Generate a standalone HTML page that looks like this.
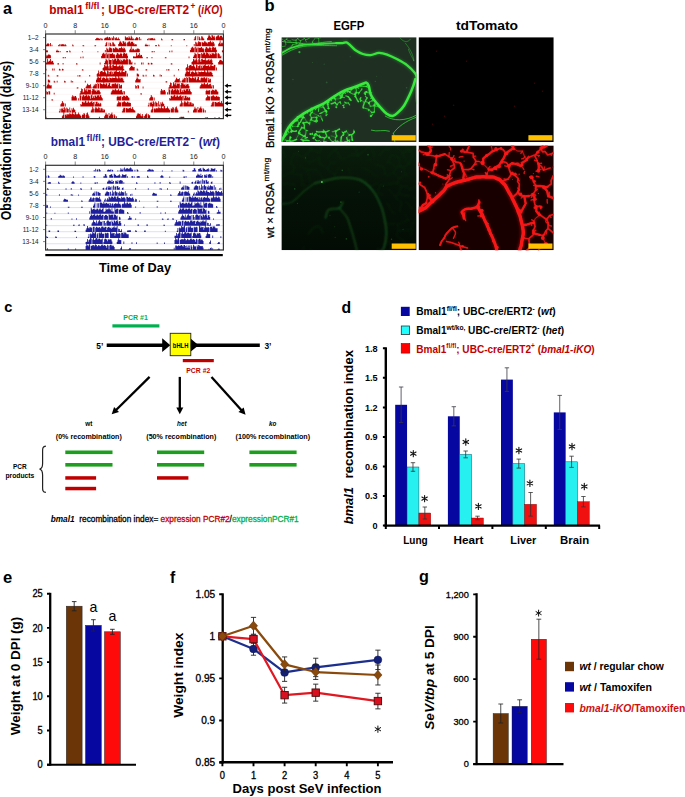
<!DOCTYPE html>
<html><head><meta charset="utf-8"><title>Figure</title>
<style>
html,body{margin:0;padding:0;background:#fff;}
svg{display:block;font-family:"Liberation Sans",sans-serif;}
</style></head><body>
<svg width="685" height="797" viewBox="0 0 685 797">
<rect width="685" height="797" fill="#fff"/>
<g id="panel_a">
<text font-size="16.2" font-weight="bold" x="3" y="14.1">a</text>
<g fill="#c00000"><text x="49.2" y="13.8" font-size="12.4" font-weight="bold" lengthAdjust="spacingAndGlyphs" textLength="34.4">bmal1</text><text x="85.2" y="8.7" font-size="8.6" font-weight="bold" lengthAdjust="spacingAndGlyphs" textLength="14.2">fl/fl</text><text x="101" y="13.8" font-size="12.4" font-weight="bold" lengthAdjust="spacingAndGlyphs" textLength="88.2">; UBC-cre/ERT2</text><text x="190.4" y="8.5" font-size="8.4" font-weight="bold" lengthAdjust="spacingAndGlyphs">+</text><text x="198" y="13.8" font-size="12.4" font-weight="bold" lengthAdjust="spacingAndGlyphs" textLength="24.5">(<tspan font-style="italic">iKO</tspan>)</text></g>
<text font-size="7.2" text-anchor="middle" fill="#222" x="45.6" y="27.7">0</text>
<text font-size="7.2" text-anchor="middle" fill="#222" x="75.23" y="27.7">8</text>
<text font-size="7.2" text-anchor="middle" fill="#222" x="104.87" y="27.7">16</text>
<text font-size="7.2" text-anchor="middle" fill="#222" x="134.5" y="27.7">0</text>
<text font-size="7.2" text-anchor="middle" fill="#222" x="164.13" y="27.7">8</text>
<text font-size="7.2" text-anchor="middle" fill="#222" x="193.77" y="27.7">16</text>
<text font-size="7.2" text-anchor="middle" fill="#222" x="223.4" y="27.7">0</text>
<path d="M45.6 30.2v3.5M75.23 30.2v3.5M104.87 30.2v3.5M134.5 30.2v3.5M164.13 30.2v3.5M193.77 30.2v3.5M223.4 30.2v3.5" stroke="#555" stroke-width="0.7"/>
<path d="M45.6 40.1H223.4M45.6 46.12H223.4M45.6 52.14H223.4M45.6 58.16H223.4M45.6 64.18H223.4M45.6 70.2H223.4M45.6 76.22H223.4M45.6 82.24H223.4M45.6 88.26H223.4M45.6 94.28H223.4M45.6 100.3H223.4M45.6 106.32H223.4M45.6 112.34H223.4M45.6 118.36H223.4" stroke="#fbecec" stroke-width="0.6" fill="none"/>
<path d="M95.24 40.3v-1.25h0.86v1.25zM95.98 40.3v-1.98h0.86v1.98zM96.72 40.3v-2.55h0.86v2.55zM97.46 40.3v-2.02h0.86v2.02zM98.2 40.3v-1.95h0.86v1.95zM98.94 40.3v-1.23h0.86v1.23zM99.68 40.3v-2.25h0.86v2.25zM101.16 40.3v-1.72h0.86v1.72zM101.9 40.3v-1.49h0.86v1.49zM104.13 40.3v-1.86h0.86v1.86zM104.87 40.3v-2.64h0.86v2.64zM105.61 40.3v-2.54h0.86v2.54zM106.35 40.3v-3.09h0.86v3.09zM107.09 40.3v-3.56h0.86v3.56zM107.83 40.3v-1.77h0.86v1.77zM108.57 40.3v-2.95h0.86v2.95zM109.31 40.3v-3.38h0.86v3.38zM110.05 40.3v-1.93h0.86v1.93zM111.53 40.3v-2.78h0.86v2.78zM112.28 40.3v-1.94h0.86v1.94zM113.02 40.3v-4.05h0.86v4.05zM114.5 40.3v-2.88h0.86v2.88zM115.24 40.3v-2h0.86v2zM115.98 40.3v-3.1h0.86v3.1zM116.72 40.3v-1.91h0.86v1.91zM117.46 40.3v-1.39h0.86v1.39zM118.2 40.3v-2.74h0.86v2.74zM118.94 40.3v-1.23h0.86v1.23zM124.87 40.3v-4.14h0.86v4.14zM125.61 40.3v-3.17h0.86v3.17zM126.35 40.3v-2.61h0.86v2.61zM127.09 40.3v-3.09h0.86v3.09zM127.83 40.3v-2.1h0.86v2.1zM128.57 40.3v-4h0.86v4zM129.31 40.3v-2.76h0.86v2.76zM130.06 40.3v-1.85h0.86v1.85zM130.8 40.3v-4.52h0.86v4.52zM131.54 40.3v-3.08h0.86v3.08zM132.28 40.3v-1.59h0.86v1.59zM133.02 40.3v-1.73h0.86v1.73zM134.5 40.3v-1.32h0.86v1.32zM135.24 40.3v-1.96h0.86v1.96zM135.98 40.3v-2.93h0.86v2.93zM136.72 40.3v-2.99h0.86v2.99zM137.46 40.3v-2.28h0.86v2.28zM138.95 40.3v-3.42h0.86v3.42zM140.43 40.3v-1.53h0.86v1.53zM147.09 40.3v-1.27h0.86v1.27zM147.84 40.3v-2.14h0.86v2.14zM149.32 40.3v-2.11h0.86v2.11zM150.06 40.3v-1.92h0.86v1.92zM150.8 40.3v-2.26h0.86v2.26zM151.54 40.3v-1.69h0.86v1.69zM152.28 40.3v-2.21h0.86v2.21zM153.02 40.3v-1.16h0.86v1.16zM153.76 40.3v-1.98h0.86v1.98zM154.5 40.3v-1.16h0.86v1.16zM161.17 40.3v-1.83h0.86v1.83zM161.91 40.3v-0.91h0.86v0.91zM171.54 40.3v-1.24h0.86v1.24zM172.28 40.3v-0.93h0.86v0.93zM183.4 40.3v-1.16h0.86v1.16zM184.14 40.3v-1.19h0.86v1.19zM193.77 40.3v-1.08h0.86v1.08zM194.51 40.3v-3.06h0.86v3.06zM195.25 40.3v-4.27h0.86v4.27zM197.47 40.3v-3.93h0.86v3.93zM198.95 40.3v-3.64h0.86v3.64zM199.69 40.3v-1.81h0.86v1.81zM201.18 40.3v-4.13h0.86v4.13zM201.92 40.3v-3.92h0.86v3.92zM202.66 40.3v-2.45h0.86v2.45zM203.4 40.3v-1.45h0.86v1.45zM207.1 40.3v-2.33h0.86v2.33zM207.84 40.3v-3.77h0.86v3.77zM208.58 40.3v-5.56h0.86v5.56zM209.32 40.3v-4.45h0.86v4.45zM210.07 40.3v-3.49h0.86v3.49zM210.81 40.3v-2.3h0.86v2.3zM211.55 40.3v-5.32h0.86v5.32zM212.29 40.3v-4.87h0.86v4.87zM213.03 40.3v-3.5h0.86v3.5zM213.77 40.3v-4.47h0.86v4.47zM214.51 40.3v-2.81h0.86v2.81zM215.99 40.3v-3.73h0.86v3.73zM216.73 40.3v-3.99h0.86v3.99zM217.47 40.3v-5.09h0.86v5.09zM218.21 40.3v-4.93h0.86v4.93zM218.96 40.3v-3.08h0.86v3.08zM219.7 40.3v-4.6h0.86v4.6zM220.44 40.3v-4.55h0.86v4.55zM221.18 40.3v-4.57h0.86v4.57zM221.92 40.3v-3.16h0.86v3.16zM222.66 40.3v-2.74h0.86v2.74zM45.6 46.32v-1.32h0.86v1.32zM46.34 46.32v-1.96h0.86v1.96zM47.08 46.32v-2.93h0.86v2.93zM47.82 46.32v-2.99h0.86v2.99zM48.56 46.32v-2.28h0.86v2.28zM50.05 46.32v-3.42h0.86v3.42zM51.53 46.32v-1.53h0.86v1.53zM58.19 46.32v-1.27h0.86v1.27zM58.94 46.32v-2.14h0.86v2.14zM60.42 46.32v-2.11h0.86v2.11zM61.16 46.32v-1.92h0.86v1.92zM61.9 46.32v-2.26h0.86v2.26zM62.64 46.32v-1.69h0.86v1.69zM63.38 46.32v-2.21h0.86v2.21zM64.12 46.32v-1.16h0.86v1.16zM64.86 46.32v-1.98h0.86v1.98zM65.6 46.32v-1.16h0.86v1.16zM72.27 46.32v-1.83h0.86v1.83zM73.01 46.32v-0.91h0.86v0.91zM82.64 46.32v-1.24h0.86v1.24zM83.38 46.32v-0.93h0.86v0.93zM94.5 46.32v-1.16h0.86v1.16zM95.24 46.32v-1.19h0.86v1.19zM104.87 46.32v-1.08h0.86v1.08zM105.61 46.32v-3.06h0.86v3.06zM106.35 46.32v-4.27h0.86v4.27zM108.57 46.32v-3.93h0.86v3.93zM110.05 46.32v-3.64h0.86v3.64zM110.79 46.32v-1.81h0.86v1.81zM112.28 46.32v-4.13h0.86v4.13zM113.02 46.32v-3.92h0.86v3.92zM113.76 46.32v-2.45h0.86v2.45zM114.5 46.32v-1.45h0.86v1.45zM118.2 46.32v-2.33h0.86v2.33zM118.94 46.32v-3.77h0.86v3.77zM119.68 46.32v-5.56h0.86v5.56zM120.42 46.32v-4.45h0.86v4.45zM121.17 46.32v-3.49h0.86v3.49zM121.91 46.32v-2.3h0.86v2.3zM122.65 46.32v-5.32h0.86v5.32zM123.39 46.32v-4.87h0.86v4.87zM124.13 46.32v-3.5h0.86v3.5zM124.87 46.32v-4.47h0.86v4.47zM125.61 46.32v-2.81h0.86v2.81zM127.09 46.32v-3.73h0.86v3.73zM127.83 46.32v-3.99h0.86v3.99zM128.57 46.32v-5.09h0.86v5.09zM129.31 46.32v-4.93h0.86v4.93zM130.06 46.32v-3.08h0.86v3.08zM130.8 46.32v-4.6h0.86v4.6zM131.54 46.32v-4.55h0.86v4.55zM132.28 46.32v-4.57h0.86v4.57zM133.02 46.32v-3.16h0.86v3.16zM133.76 46.32v-2.74h0.86v2.74zM134.5 46.32v-1.43h0.86v1.43zM135.24 46.32v-2.34h0.86v2.34zM135.98 46.32v-1.85h0.86v1.85zM144.87 46.32v-1.62h0.86v1.62zM145.61 46.32v-2.5h0.86v2.5zM146.35 46.32v-1.37h0.86v1.37zM147.09 46.32v-1.57h0.86v1.57zM148.58 46.32v-1.45h0.86v1.45zM155.24 46.32v-1.44h0.86v1.44zM155.98 46.32v-1.32h0.86v1.32zM158.21 46.32v-1.88h0.86v1.88zM158.95 46.32v-0.94h0.86v0.94zM170.8 46.32v-1.03h0.86v1.03zM186.36 46.32v-1.04h0.86v1.04zM193.77 46.32v-2.26h0.86v2.26zM195.25 46.32v-4.5h0.86v4.5zM195.99 46.32v-3.71h0.86v3.71zM196.73 46.32v-1.77h0.86v1.77zM197.47 46.32v-3.74h0.86v3.74zM198.21 46.32v-5h0.86v5zM198.95 46.32v-4.57h0.86v4.57zM199.69 46.32v-4.13h0.86v4.13zM200.43 46.32v-3.95h0.86v3.95zM201.92 46.32v-4.32h0.86v4.32zM202.66 46.32v-3.27h0.86v3.27zM203.4 46.32v-4.15h0.86v4.15zM204.14 46.32v-5.12h0.86v5.12zM204.88 46.32v-4.7h0.86v4.7zM205.62 46.32v-3.94h0.86v3.94zM206.36 46.32v-3.79h0.86v3.79zM207.1 46.32v-2.73h0.86v2.73zM207.84 46.32v-4.29h0.86v4.29zM208.58 46.32v-4.07h0.86v4.07zM209.32 46.32v-4.45h0.86v4.45zM210.07 46.32v-5.57h0.86v5.57zM210.81 46.32v-4.31h0.86v4.31zM211.55 46.32v-3.3h0.86v3.3zM212.29 46.32v-4.79h0.86v4.79zM213.03 46.32v-4.21h0.86v4.21zM213.77 46.32v-2.92h0.86v2.92zM218.21 46.32v-2.51h0.86v2.51zM218.96 46.32v-3.69h0.86v3.69zM219.7 46.32v-5.75h0.86v5.75zM220.44 46.32v-2.14h0.86v2.14zM221.18 46.32v-3.56h0.86v3.56zM221.92 46.32v-3.67h0.86v3.67zM222.66 46.32v-2.6h0.86v2.6zM45.6 52.34v-1.43h0.86v1.43zM46.34 52.34v-2.34h0.86v2.34zM47.08 52.34v-1.85h0.86v1.85zM55.97 52.34v-1.62h0.86v1.62zM56.71 52.34v-2.5h0.86v2.5zM57.45 52.34v-1.37h0.86v1.37zM58.19 52.34v-1.57h0.86v1.57zM59.68 52.34v-1.45h0.86v1.45zM66.34 52.34v-1.44h0.86v1.44zM67.08 52.34v-1.32h0.86v1.32zM69.31 52.34v-1.88h0.86v1.88zM70.05 52.34v-0.94h0.86v0.94zM81.9 52.34v-1.03h0.86v1.03zM97.46 52.34v-1.04h0.86v1.04zM104.87 52.34v-2.26h0.86v2.26zM106.35 52.34v-4.5h0.86v4.5zM107.09 52.34v-3.71h0.86v3.71zM107.83 52.34v-1.77h0.86v1.77zM108.57 52.34v-3.74h0.86v3.74zM109.31 52.34v-5h0.86v5zM110.05 52.34v-4.57h0.86v4.57zM110.79 52.34v-4.13h0.86v4.13zM111.53 52.34v-3.95h0.86v3.95zM113.02 52.34v-4.32h0.86v4.32zM113.76 52.34v-3.27h0.86v3.27zM114.5 52.34v-4.15h0.86v4.15zM115.24 52.34v-5.12h0.86v5.12zM115.98 52.34v-4.7h0.86v4.7zM116.72 52.34v-3.94h0.86v3.94zM117.46 52.34v-3.79h0.86v3.79zM118.2 52.34v-2.73h0.86v2.73zM118.94 52.34v-4.29h0.86v4.29zM119.68 52.34v-4.07h0.86v4.07zM120.42 52.34v-4.45h0.86v4.45zM121.17 52.34v-5.57h0.86v5.57zM121.91 52.34v-4.31h0.86v4.31zM122.65 52.34v-3.3h0.86v3.3zM123.39 52.34v-4.79h0.86v4.79zM124.13 52.34v-4.21h0.86v4.21zM124.87 52.34v-2.92h0.86v2.92zM129.31 52.34v-2.51h0.86v2.51zM130.06 52.34v-3.69h0.86v3.69zM130.8 52.34v-5.75h0.86v5.75zM131.54 52.34v-2.14h0.86v2.14zM132.28 52.34v-3.56h0.86v3.56zM133.02 52.34v-3.67h0.86v3.67zM133.76 52.34v-2.6h0.86v2.6zM134.5 52.34v-1.95h0.86v1.95zM135.24 52.34v-3.06h0.86v3.06zM135.98 52.34v-2.78h0.86v2.78zM136.72 52.34v-3.88h0.86v3.88zM137.46 52.34v-3.87h0.86v3.87zM138.2 52.34v-3.58h0.86v3.58zM138.95 52.34v-3.02h0.86v3.02zM151.54 52.34v-1.08h0.86v1.08zM152.28 52.34v-1.16h0.86v1.16zM153.76 52.34v-1.26h0.86v1.26zM169.32 52.34v-1.57h0.86v1.57zM171.54 52.34v-1.76h0.86v1.76zM190.06 52.34v-2.28h0.86v2.28zM190.8 52.34v-4.1h0.86v4.1zM191.54 52.34v-5.07h0.86v5.07zM192.29 52.34v-5.49h0.86v5.49zM193.03 52.34v-4.06h0.86v4.06zM193.77 52.34v-4.84h0.86v4.84zM195.25 52.34v-5.49h0.86v5.49zM195.99 52.34v-3.85h0.86v3.85zM196.73 52.34v-4.88h0.86v4.88zM198.21 52.34v-4.84h0.86v4.84zM198.95 52.34v-4.53h0.86v4.53zM199.69 52.34v-4.44h0.86v4.44zM200.43 52.34v-4.93h0.86v4.93zM201.18 52.34v-5.26h0.86v5.26zM201.92 52.34v-3.94h0.86v3.94zM202.66 52.34v-4.32h0.86v4.32zM203.4 52.34v-3.14h0.86v3.14zM204.88 52.34v-3.59h0.86v3.59zM205.62 52.34v-5.07h0.86v5.07zM206.36 52.34v-5.34h0.86v5.34zM207.1 52.34v-4.19h0.86v4.19zM207.84 52.34v-3.51h0.86v3.51zM208.58 52.34v-4.41h0.86v4.41zM209.32 52.34v-5.65h0.86v5.65zM210.07 52.34v-4.6h0.86v4.6zM210.81 52.34v-2.08h0.86v2.08zM211.55 52.34v-4.34h0.86v4.34zM212.29 52.34v-5.85h0.86v5.85zM213.03 52.34v-5.32h0.86v5.32zM213.77 52.34v-4.4h0.86v4.4zM214.51 52.34v-5.15h0.86v5.15zM215.25 52.34v-4.87h0.86v4.87zM215.99 52.34v-2.7h0.86v2.7zM221.92 52.34v-2.05h0.86v2.05zM222.66 52.34v-1.58h0.86v1.58zM45.6 58.36v-1.95h0.86v1.95zM46.34 58.36v-3.06h0.86v3.06zM47.08 58.36v-2.78h0.86v2.78zM47.82 58.36v-3.88h0.86v3.88zM48.56 58.36v-3.87h0.86v3.87zM49.3 58.36v-3.58h0.86v3.58zM50.05 58.36v-3.02h0.86v3.02zM62.64 58.36v-1.08h0.86v1.08zM63.38 58.36v-1.16h0.86v1.16zM64.86 58.36v-1.26h0.86v1.26zM80.42 58.36v-1.57h0.86v1.57zM82.64 58.36v-1.76h0.86v1.76zM101.16 58.36v-2.28h0.86v2.28zM101.9 58.36v-4.1h0.86v4.1zM102.64 58.36v-5.07h0.86v5.07zM103.39 58.36v-5.49h0.86v5.49zM104.13 58.36v-4.06h0.86v4.06zM104.87 58.36v-4.84h0.86v4.84zM106.35 58.36v-5.49h0.86v5.49zM107.09 58.36v-3.85h0.86v3.85zM107.83 58.36v-4.88h0.86v4.88zM109.31 58.36v-4.84h0.86v4.84zM110.05 58.36v-4.53h0.86v4.53zM110.79 58.36v-4.44h0.86v4.44zM111.53 58.36v-4.93h0.86v4.93zM112.28 58.36v-5.26h0.86v5.26zM113.02 58.36v-3.94h0.86v3.94zM113.76 58.36v-4.32h0.86v4.32zM114.5 58.36v-3.14h0.86v3.14zM115.98 58.36v-3.59h0.86v3.59zM116.72 58.36v-5.07h0.86v5.07zM117.46 58.36v-5.34h0.86v5.34zM118.2 58.36v-4.19h0.86v4.19zM118.94 58.36v-3.51h0.86v3.51zM119.68 58.36v-4.41h0.86v4.41zM120.42 58.36v-5.65h0.86v5.65zM121.17 58.36v-4.6h0.86v4.6zM121.91 58.36v-2.08h0.86v2.08zM122.65 58.36v-4.34h0.86v4.34zM123.39 58.36v-5.85h0.86v5.85zM124.13 58.36v-5.32h0.86v5.32zM124.87 58.36v-4.4h0.86v4.4zM125.61 58.36v-5.15h0.86v5.15zM126.35 58.36v-4.87h0.86v4.87zM127.09 58.36v-2.7h0.86v2.7zM133.02 58.36v-2.05h0.86v2.05zM133.76 58.36v-1.58h0.86v1.58zM134.5 58.36v-2.06h0.86v2.06zM135.24 58.36v-1.69h0.86v1.69zM135.98 58.36v-5.63h0.86v5.63zM136.72 58.36v-2.41h0.86v2.41zM137.46 58.36v-3.51h0.86v3.51zM138.2 58.36v-3.7h0.86v3.7zM138.95 58.36v-5.39h0.86v5.39zM139.69 58.36v-2.52h0.86v2.52zM140.43 58.36v-3.63h0.86v3.63zM141.17 58.36v-3.39h0.86v3.39zM141.91 58.36v-1.51h0.86v1.51zM146.35 58.36v-1.1h0.86v1.1zM147.09 58.36v-1.18h0.86v1.18zM151.54 58.36v-1.46h0.86v1.46zM164.87 58.36v-1.13h0.86v1.13zM165.62 58.36v-1h0.86v1zM188.58 58.36v-1.76h0.86v1.76zM193.03 58.36v-1.49h0.86v1.49zM193.77 58.36v-3.22h0.86v3.22zM194.51 58.36v-5.53h0.86v5.53zM195.25 58.36v-4.52h0.86v4.52zM195.99 58.36v-3.99h0.86v3.99zM197.47 58.36v-5.96h0.86v5.96zM198.21 58.36v-4.3h0.86v4.3zM198.95 58.36v-4.26h0.86v4.26zM199.69 58.36v-4.32h0.86v4.32zM201.18 58.36v-5.38h0.86v5.38zM201.92 58.36v-4.22h0.86v4.22zM202.66 58.36v-4.98h0.86v4.98zM203.4 58.36v-5.78h0.86v5.78zM204.14 58.36v-5.51h0.86v5.51zM204.88 58.36v-3.67h0.86v3.67zM205.62 58.36v-5.15h0.86v5.15zM206.36 58.36v-6.17h0.86v6.17zM207.1 58.36v-5.38h0.86v5.38zM207.84 58.36v-4.21h0.86v4.21zM208.58 58.36v-5.19h0.86v5.19zM209.32 58.36v-2.98h0.86v2.98zM210.07 58.36v-4.54h0.86v4.54zM210.81 58.36v-3.37h0.86v3.37zM211.55 58.36v-4.99h0.86v4.99zM212.29 58.36v-5.12h0.86v5.12zM213.03 58.36v-5.04h0.86v5.04zM213.77 58.36v-4.16h0.86v4.16zM214.51 58.36v-4.83h0.86v4.83zM215.25 58.36v-6.5h0.86v6.5zM215.99 58.36v-5.09h0.86v5.09zM217.47 58.36v-4.96h0.86v4.96zM218.21 58.36v-5.16h0.86v5.16zM218.96 58.36v-4.1h0.86v4.1zM219.7 58.36v-1.62h0.86v1.62zM220.44 58.36v-2.65h0.86v2.65zM45.6 64.38v-2.06h0.86v2.06zM46.34 64.38v-1.69h0.86v1.69zM47.08 64.38v-5.63h0.86v5.63zM47.82 64.38v-2.41h0.86v2.41zM48.56 64.38v-3.51h0.86v3.51zM49.3 64.38v-3.7h0.86v3.7zM50.05 64.38v-5.39h0.86v5.39zM50.79 64.38v-2.52h0.86v2.52zM51.53 64.38v-3.63h0.86v3.63zM52.27 64.38v-3.39h0.86v3.39zM53.01 64.38v-1.51h0.86v1.51zM57.45 64.38v-1.1h0.86v1.1zM58.19 64.38v-1.18h0.86v1.18zM62.64 64.38v-1.46h0.86v1.46zM75.97 64.38v-1.13h0.86v1.13zM76.72 64.38v-1h0.86v1zM99.68 64.38v-1.76h0.86v1.76zM104.13 64.38v-1.49h0.86v1.49zM104.87 64.38v-3.22h0.86v3.22zM105.61 64.38v-5.53h0.86v5.53zM106.35 64.38v-4.52h0.86v4.52zM107.09 64.38v-3.99h0.86v3.99zM108.57 64.38v-5.96h0.86v5.96zM109.31 64.38v-4.3h0.86v4.3zM110.05 64.38v-4.26h0.86v4.26zM110.79 64.38v-4.32h0.86v4.32zM112.28 64.38v-5.38h0.86v5.38zM113.02 64.38v-4.22h0.86v4.22zM113.76 64.38v-4.98h0.86v4.98zM114.5 64.38v-5.78h0.86v5.78zM115.24 64.38v-5.51h0.86v5.51zM115.98 64.38v-3.67h0.86v3.67zM116.72 64.38v-5.15h0.86v5.15zM117.46 64.38v-6.17h0.86v6.17zM118.2 64.38v-5.38h0.86v5.38zM118.94 64.38v-4.21h0.86v4.21zM119.68 64.38v-5.19h0.86v5.19zM120.42 64.38v-2.98h0.86v2.98zM121.17 64.38v-4.54h0.86v4.54zM121.91 64.38v-3.37h0.86v3.37zM122.65 64.38v-4.99h0.86v4.99zM123.39 64.38v-5.12h0.86v5.12zM124.13 64.38v-5.04h0.86v5.04zM124.87 64.38v-4.16h0.86v4.16zM125.61 64.38v-4.83h0.86v4.83zM126.35 64.38v-6.5h0.86v6.5zM127.09 64.38v-5.09h0.86v5.09zM128.57 64.38v-4.96h0.86v4.96zM129.31 64.38v-5.16h0.86v5.16zM130.06 64.38v-4.1h0.86v4.1zM130.8 64.38v-1.62h0.86v1.62zM131.54 64.38v-2.65h0.86v2.65zM134.5 64.38v-1.66h0.86v1.66zM141.17 64.38v-1.87h0.86v1.87zM142.65 64.38v-1.9h0.86v1.9zM147.84 64.38v-1.73h0.86v1.73zM148.58 64.38v-1.2h0.86v1.2zM150.8 64.38v-1.68h0.86v1.68zM151.54 64.38v-1.37h0.86v1.37zM170.8 64.38v-1.14h0.86v1.14zM171.54 64.38v-0.98h0.86v0.98zM191.54 64.38v-2.4h0.86v2.4zM192.29 64.38v-3.21h0.86v3.21zM193.03 64.38v-5.46h0.86v5.46zM193.77 64.38v-4.93h0.86v4.93zM194.51 64.38v-3.71h0.86v3.71zM195.25 64.38v-4.88h0.86v4.88zM195.99 64.38v-5.99h0.86v5.99zM196.73 64.38v-4.05h0.86v4.05zM197.47 64.38v-1.81h0.86v1.81zM198.21 64.38v-5.17h0.86v5.17zM198.95 64.38v-6.32h0.86v6.32zM199.69 64.38v-4.1h0.86v4.1zM200.43 64.38v-2.31h0.86v2.31zM201.18 64.38v-5.4h0.86v5.4zM201.92 64.38v-5.56h0.86v5.56zM202.66 64.38v-4.4h0.86v4.4zM203.4 64.38v-4.5h0.86v4.5zM204.14 64.38v-4.74h0.86v4.74zM204.88 64.38v-6.17h0.86v6.17zM205.62 64.38v-4.2h0.86v4.2zM206.36 64.38v-3.91h0.86v3.91zM207.1 64.38v-4.11h0.86v4.11zM207.84 64.38v-4.92h0.86v4.92zM208.58 64.38v-5.04h0.86v5.04zM209.32 64.38v-3.68h0.86v3.68zM210.07 64.38v-4.66h0.86v4.66zM210.81 64.38v-5.66h0.86v5.66zM211.55 64.38v-4.23h0.86v4.23zM212.29 64.38v-1.28h0.86v1.28zM218.21 64.38v-2.45h0.86v2.45zM218.96 64.38v-3.52h0.86v3.52zM219.7 64.38v-4.72h0.86v4.72zM220.44 64.38v-4.44h0.86v4.44zM221.18 64.38v-3.77h0.86v3.77zM221.92 64.38v-3.08h0.86v3.08zM222.66 64.38v-3.45h0.86v3.45zM45.6 70.4v-1.66h0.86v1.66zM52.27 70.4v-1.87h0.86v1.87zM53.75 70.4v-1.9h0.86v1.9zM58.94 70.4v-1.73h0.86v1.73zM59.68 70.4v-1.2h0.86v1.2zM61.9 70.4v-1.68h0.86v1.68zM62.64 70.4v-1.37h0.86v1.37zM81.9 70.4v-1.14h0.86v1.14zM82.64 70.4v-0.98h0.86v0.98zM102.64 70.4v-2.4h0.86v2.4zM103.39 70.4v-3.21h0.86v3.21zM104.13 70.4v-5.46h0.86v5.46zM104.87 70.4v-4.93h0.86v4.93zM105.61 70.4v-3.71h0.86v3.71zM106.35 70.4v-4.88h0.86v4.88zM107.09 70.4v-5.99h0.86v5.99zM107.83 70.4v-4.05h0.86v4.05zM108.57 70.4v-1.81h0.86v1.81zM109.31 70.4v-5.17h0.86v5.17zM110.05 70.4v-6.32h0.86v6.32zM110.79 70.4v-4.1h0.86v4.1zM111.53 70.4v-2.31h0.86v2.31zM112.28 70.4v-5.4h0.86v5.4zM113.02 70.4v-5.56h0.86v5.56zM113.76 70.4v-4.4h0.86v4.4zM114.5 70.4v-4.5h0.86v4.5zM115.24 70.4v-4.74h0.86v4.74zM115.98 70.4v-6.17h0.86v6.17zM116.72 70.4v-4.2h0.86v4.2zM117.46 70.4v-3.91h0.86v3.91zM118.2 70.4v-4.11h0.86v4.11zM118.94 70.4v-4.92h0.86v4.92zM119.68 70.4v-5.04h0.86v5.04zM120.42 70.4v-3.68h0.86v3.68zM121.17 70.4v-4.66h0.86v4.66zM121.91 70.4v-5.66h0.86v5.66zM122.65 70.4v-4.23h0.86v4.23zM123.39 70.4v-1.28h0.86v1.28zM129.31 70.4v-2.45h0.86v2.45zM130.06 70.4v-3.52h0.86v3.52zM130.8 70.4v-4.72h0.86v4.72zM131.54 70.4v-4.44h0.86v4.44zM132.28 70.4v-3.77h0.86v3.77zM133.02 70.4v-3.08h0.86v3.08zM133.76 70.4v-3.45h0.86v3.45zM136.72 70.4v-1.79h0.86v1.79zM137.46 70.4v-0.93h0.86v0.93zM145.61 70.4v-1.24h0.86v1.24zM146.35 70.4v-1.21h0.86v1.21zM166.36 70.4v-1.09h0.86v1.09zM167.84 70.4v-1.07h0.86v1.07zM168.58 70.4v-1.24h0.86v1.24zM178.21 70.4v-1.5h0.86v1.5zM185.62 70.4v-2.32h0.86v2.32zM186.36 70.4v-3.38h0.86v3.38zM187.1 70.4v-6.04h0.86v6.04zM187.84 70.4v-2.14h0.86v2.14zM188.58 70.4v-4.35h0.86v4.35zM189.32 70.4v-5.19h0.86v5.19zM190.06 70.4v-5.46h0.86v5.46zM190.8 70.4v-5.25h0.86v5.25zM191.54 70.4v-4.16h0.86v4.16zM192.29 70.4v-4.52h0.86v4.52zM193.03 70.4v-6.04h0.86v6.04zM193.77 70.4v-4.67h0.86v4.67zM194.51 70.4v-3.47h0.86v3.47zM195.25 70.4v-2.14h0.86v2.14zM195.99 70.4v-5.72h0.86v5.72zM196.73 70.4v-5.06h0.86v5.06zM197.47 70.4v-2.21h0.86v2.21zM198.21 70.4v-4.35h0.86v4.35zM198.95 70.4v-4.85h0.86v4.85zM199.69 70.4v-5.12h0.86v5.12zM200.43 70.4v-1.94h0.86v1.94zM201.18 70.4v-4.57h0.86v4.57zM201.92 70.4v-2.69h0.86v2.69zM202.66 70.4v-5.1h0.86v5.1zM203.4 70.4v-4.48h0.86v4.48zM204.14 70.4v-5.41h0.86v5.41zM204.88 70.4v-6.15h0.86v6.15zM205.62 70.4v-4.51h0.86v4.51zM206.36 70.4v-4.5h0.86v4.5zM207.1 70.4v-4.4h0.86v4.4zM207.84 70.4v-5.36h0.86v5.36zM208.58 70.4v-4.63h0.86v4.63zM209.32 70.4v-3.59h0.86v3.59zM210.07 70.4v-5.23h0.86v5.23zM210.81 70.4v-6.21h0.86v6.21zM211.55 70.4v-4.3h0.86v4.3zM212.29 70.4v-4.43h0.86v4.43zM213.03 70.4v-4.06h0.86v4.06zM213.77 70.4v-5.68h0.86v5.68zM214.51 70.4v-5.49h0.86v5.49zM215.99 70.4v-2.9h0.86v2.9zM47.82 76.42v-1.79h0.86v1.79zM48.56 76.42v-0.93h0.86v0.93zM56.71 76.42v-1.24h0.86v1.24zM57.45 76.42v-1.21h0.86v1.21zM77.46 76.42v-1.09h0.86v1.09zM78.94 76.42v-1.07h0.86v1.07zM79.68 76.42v-1.24h0.86v1.24zM89.31 76.42v-1.5h0.86v1.5zM96.72 76.42v-2.32h0.86v2.32zM97.46 76.42v-3.38h0.86v3.38zM98.2 76.42v-6.04h0.86v6.04zM98.94 76.42v-2.14h0.86v2.14zM99.68 76.42v-4.35h0.86v4.35zM100.42 76.42v-5.19h0.86v5.19zM101.16 76.42v-5.46h0.86v5.46zM101.9 76.42v-5.25h0.86v5.25zM102.64 76.42v-4.16h0.86v4.16zM103.39 76.42v-4.52h0.86v4.52zM104.13 76.42v-6.04h0.86v6.04zM104.87 76.42v-4.67h0.86v4.67zM105.61 76.42v-3.47h0.86v3.47zM106.35 76.42v-2.14h0.86v2.14zM107.09 76.42v-5.72h0.86v5.72zM107.83 76.42v-5.06h0.86v5.06zM108.57 76.42v-2.21h0.86v2.21zM109.31 76.42v-4.35h0.86v4.35zM110.05 76.42v-4.85h0.86v4.85zM110.79 76.42v-5.12h0.86v5.12zM111.53 76.42v-1.94h0.86v1.94zM112.28 76.42v-4.57h0.86v4.57zM113.02 76.42v-2.69h0.86v2.69zM113.76 76.42v-5.1h0.86v5.1zM114.5 76.42v-4.48h0.86v4.48zM115.24 76.42v-5.41h0.86v5.41zM115.98 76.42v-6.15h0.86v6.15zM116.72 76.42v-4.51h0.86v4.51zM117.46 76.42v-4.5h0.86v4.5zM118.2 76.42v-4.4h0.86v4.4zM118.94 76.42v-5.36h0.86v5.36zM119.68 76.42v-4.63h0.86v4.63zM120.42 76.42v-3.59h0.86v3.59zM121.17 76.42v-5.23h0.86v5.23zM121.91 76.42v-6.21h0.86v6.21zM122.65 76.42v-4.3h0.86v4.3zM123.39 76.42v-4.43h0.86v4.43zM124.13 76.42v-4.06h0.86v4.06zM124.87 76.42v-5.68h0.86v5.68zM125.61 76.42v-5.49h0.86v5.49zM127.09 76.42v-2.9h0.86v2.9zM136.72 76.42v-2.94h0.86v2.94zM137.46 76.42v-2.79h0.86v2.79zM138.2 76.42v-1.94h0.86v1.94zM142.65 76.42v-1.58h0.86v1.58zM143.39 76.42v-1.01h0.86v1.01zM145.61 76.42v-1.69h0.86v1.69zM153.02 76.42v-1.69h0.86v1.69zM153.76 76.42v-1.07h0.86v1.07zM159.69 76.42v-1.87h0.86v1.87zM161.17 76.42v-1.44h0.86v1.44zM173.76 76.42v-1.65h0.86v1.65zM184.88 76.42v-2.69h0.86v2.69zM185.62 76.42v-4.08h0.86v4.08zM186.36 76.42v-6.24h0.86v6.24zM187.1 76.42v-5.29h0.86v5.29zM187.84 76.42v-4.53h0.86v4.53zM188.58 76.42v-4.82h0.86v4.82zM189.32 76.42v-6.14h0.86v6.14zM190.06 76.42v-2.37h0.86v2.37zM190.8 76.42v-4.26h0.86v4.26zM191.54 76.42v-4.6h0.86v4.6zM192.29 76.42v-5.07h0.86v5.07zM193.03 76.42v-4.47h0.86v4.47zM193.77 76.42v-3.43h0.86v3.43zM194.51 76.42v-4.2h0.86v4.2zM195.25 76.42v-6.1h0.86v6.1zM195.99 76.42v-4.12h0.86v4.12zM196.73 76.42v-4.07h0.86v4.07zM197.47 76.42v-2.11h0.86v2.11zM198.21 76.42v-5.03h0.86v5.03zM198.95 76.42v-4.38h0.86v4.38zM199.69 76.42v-4.08h0.86v4.08zM200.43 76.42v-4.31h0.86v4.31zM201.18 76.42v-5.01h0.86v5.01zM201.92 76.42v-4.5h0.86v4.5zM202.66 76.42v-4.36h0.86v4.36zM203.4 76.42v-4.42h0.86v4.42zM204.14 76.42v-6.35h0.86v6.35zM204.88 76.42v-4.86h0.86v4.86zM205.62 76.42v-3.95h0.86v3.95zM206.36 76.42v-4.1h0.86v4.1zM207.1 76.42v-6.14h0.86v6.14zM207.84 76.42v-4.83h0.86v4.83zM208.58 76.42v-3.69h0.86v3.69zM209.32 76.42v-5.02h0.86v5.02zM210.07 76.42v-4.72h0.86v4.72zM210.81 76.42v-4.59h0.86v4.59zM211.55 76.42v-3.3h0.86v3.3zM212.29 76.42v-1.43h0.86v1.43zM47.82 82.44v-2.94h0.86v2.94zM48.56 82.44v-2.79h0.86v2.79zM49.3 82.44v-1.94h0.86v1.94zM53.75 82.44v-1.58h0.86v1.58zM54.49 82.44v-1.01h0.86v1.01zM56.71 82.44v-1.69h0.86v1.69zM64.12 82.44v-1.69h0.86v1.69zM64.86 82.44v-1.07h0.86v1.07zM70.79 82.44v-1.87h0.86v1.87zM72.27 82.44v-1.44h0.86v1.44zM84.86 82.44v-1.65h0.86v1.65zM95.98 82.44v-2.69h0.86v2.69zM96.72 82.44v-4.08h0.86v4.08zM97.46 82.44v-6.24h0.86v6.24zM98.2 82.44v-5.29h0.86v5.29zM98.94 82.44v-4.53h0.86v4.53zM99.68 82.44v-4.82h0.86v4.82zM100.42 82.44v-6.14h0.86v6.14zM101.16 82.44v-2.37h0.86v2.37zM101.9 82.44v-4.26h0.86v4.26zM102.64 82.44v-4.6h0.86v4.6zM103.39 82.44v-5.07h0.86v5.07zM104.13 82.44v-4.47h0.86v4.47zM104.87 82.44v-3.43h0.86v3.43zM105.61 82.44v-4.2h0.86v4.2zM106.35 82.44v-6.1h0.86v6.1zM107.09 82.44v-4.12h0.86v4.12zM107.83 82.44v-4.07h0.86v4.07zM108.57 82.44v-2.11h0.86v2.11zM109.31 82.44v-5.03h0.86v5.03zM110.05 82.44v-4.38h0.86v4.38zM110.79 82.44v-4.08h0.86v4.08zM111.53 82.44v-4.31h0.86v4.31zM112.28 82.44v-5.01h0.86v5.01zM113.02 82.44v-4.5h0.86v4.5zM113.76 82.44v-4.36h0.86v4.36zM114.5 82.44v-4.42h0.86v4.42zM115.24 82.44v-6.35h0.86v6.35zM115.98 82.44v-4.86h0.86v4.86zM116.72 82.44v-3.95h0.86v3.95zM117.46 82.44v-4.1h0.86v4.1zM118.2 82.44v-6.14h0.86v6.14zM118.94 82.44v-4.83h0.86v4.83zM119.68 82.44v-3.69h0.86v3.69zM120.42 82.44v-5.02h0.86v5.02zM121.17 82.44v-4.72h0.86v4.72zM121.91 82.44v-4.59h0.86v4.59zM122.65 82.44v-3.3h0.86v3.3zM123.39 82.44v-1.43h0.86v1.43zM135.24 82.44v-2.11h0.86v2.11zM135.98 82.44v-3.77h0.86v3.77zM136.72 82.44v-5.31h0.86v5.31zM137.46 82.44v-4.04h0.86v4.04zM138.2 82.44v-3.24h0.86v3.24zM138.95 82.44v-2.88h0.86v2.88zM139.69 82.44v-3.33h0.86v3.33zM165.62 82.44v-1.07h0.86v1.07zM166.36 82.44v-1.26h0.86v1.26zM174.5 82.44v-1.81h0.86v1.81zM175.25 82.44v-3.04h0.86v3.04zM175.99 82.44v-4.7h0.86v4.7zM176.73 82.44v-3.69h0.86v3.69zM177.47 82.44v-3.19h0.86v3.19zM178.21 82.44v-3.43h0.86v3.43zM178.95 82.44v-4.16h0.86v4.16zM180.43 82.44v-1.66h0.86v1.66zM181.91 82.44v-2.28h0.86v2.28zM182.65 82.44v-3.96h0.86v3.96zM183.4 82.44v-2.95h0.86v2.95zM184.14 82.44v-4.62h0.86v4.62zM184.88 82.44v-4.54h0.86v4.54zM186.36 82.44v-5.38h0.86v5.38zM187.1 82.44v-4.39h0.86v4.39zM188.58 82.44v-5.53h0.86v5.53zM189.32 82.44v-5.07h0.86v5.07zM190.06 82.44v-4.47h0.86v4.47zM190.8 82.44v-4.02h0.86v4.02zM191.54 82.44v-4.54h0.86v4.54zM192.29 82.44v-5.9h0.86v5.9zM193.03 82.44v-4.33h0.86v4.33zM193.77 82.44v-3.76h0.86v3.76zM194.51 82.44v-4.88h0.86v4.88zM195.25 82.44v-5.3h0.86v5.3zM195.99 82.44v-2.15h0.86v2.15zM196.73 82.44v-3.47h0.86v3.47zM197.47 82.44v-5.1h0.86v5.1zM198.21 82.44v-5.42h0.86v5.42zM198.95 82.44v-2.49h0.86v2.49zM199.69 82.44v-1.91h0.86v1.91zM200.43 82.44v-4.22h0.86v4.22zM201.18 82.44v-4.83h0.86v4.83zM201.92 82.44v-4.67h0.86v4.67zM202.66 82.44v-4.15h0.86v4.15zM203.4 82.44v-5.27h0.86v5.27zM204.14 82.44v-5.3h0.86v5.3zM204.88 82.44v-4.05h0.86v4.05zM205.62 82.44v-4.21h0.86v4.21zM206.36 82.44v-5.22h0.86v5.22zM207.84 82.44v-4.53h0.86v4.53zM208.58 82.44v-2.14h0.86v2.14zM209.32 82.44v-3.57h0.86v3.57zM210.07 82.44v-3.59h0.86v3.59zM46.34 88.46v-2.11h0.86v2.11zM47.08 88.46v-3.77h0.86v3.77zM47.82 88.46v-5.31h0.86v5.31zM48.56 88.46v-4.04h0.86v4.04zM49.3 88.46v-3.24h0.86v3.24zM50.05 88.46v-2.88h0.86v2.88zM50.79 88.46v-3.33h0.86v3.33zM76.72 88.46v-1.07h0.86v1.07zM77.46 88.46v-1.26h0.86v1.26zM85.61 88.46v-1.81h0.86v1.81zM86.35 88.46v-3.04h0.86v3.04zM87.09 88.46v-4.7h0.86v4.7zM87.83 88.46v-3.69h0.86v3.69zM88.57 88.46v-3.19h0.86v3.19zM89.31 88.46v-3.43h0.86v3.43zM90.05 88.46v-4.16h0.86v4.16zM91.53 88.46v-1.66h0.86v1.66zM93.01 88.46v-2.28h0.86v2.28zM93.75 88.46v-3.96h0.86v3.96zM94.5 88.46v-2.95h0.86v2.95zM95.24 88.46v-4.62h0.86v4.62zM95.98 88.46v-4.54h0.86v4.54zM97.46 88.46v-5.38h0.86v5.38zM98.2 88.46v-4.39h0.86v4.39zM99.68 88.46v-5.53h0.86v5.53zM100.42 88.46v-5.07h0.86v5.07zM101.16 88.46v-4.47h0.86v4.47zM101.9 88.46v-4.02h0.86v4.02zM102.64 88.46v-4.54h0.86v4.54zM103.39 88.46v-5.9h0.86v5.9zM104.13 88.46v-4.33h0.86v4.33zM104.87 88.46v-3.76h0.86v3.76zM105.61 88.46v-4.88h0.86v4.88zM106.35 88.46v-5.3h0.86v5.3zM107.09 88.46v-2.15h0.86v2.15zM107.83 88.46v-3.47h0.86v3.47zM108.57 88.46v-5.1h0.86v5.1zM109.31 88.46v-5.42h0.86v5.42zM110.05 88.46v-2.49h0.86v2.49zM110.79 88.46v-1.91h0.86v1.91zM111.53 88.46v-4.22h0.86v4.22zM112.28 88.46v-4.83h0.86v4.83zM113.02 88.46v-4.67h0.86v4.67zM113.76 88.46v-4.15h0.86v4.15zM114.5 88.46v-5.27h0.86v5.27zM115.24 88.46v-5.3h0.86v5.3zM115.98 88.46v-4.05h0.86v4.05zM116.72 88.46v-4.21h0.86v4.21zM117.46 88.46v-5.22h0.86v5.22zM118.94 88.46v-4.53h0.86v4.53zM119.68 88.46v-2.14h0.86v2.14zM120.42 88.46v-3.57h0.86v3.57zM121.17 88.46v-3.59h0.86v3.59zM135.24 88.46v-3.31h0.86v3.31zM135.98 88.46v-2.57h0.86v2.57zM137.46 88.46v-3.48h0.86v3.48zM138.2 88.46v-3.08h0.86v3.08zM142.65 88.46v-1.85h0.86v1.85zM168.58 88.46v-1.27h0.86v1.27zM169.32 88.46v-3.42h0.86v3.42zM170.06 88.46v-5.95h0.86v5.95zM170.8 88.46v-5.43h0.86v5.43zM171.54 88.46v-2.04h0.86v2.04zM172.28 88.46v-2.75h0.86v2.75zM173.02 88.46v-6.33h0.86v6.33zM173.76 88.46v-4.88h0.86v4.88zM174.5 88.46v-3.68h0.86v3.68zM175.25 88.46v-5.53h0.86v5.53zM175.99 88.46v-2.88h0.86v2.88zM176.73 88.46v-5.27h0.86v5.27zM177.47 88.46v-4.45h0.86v4.45zM178.21 88.46v-4.9h0.86v4.9zM178.95 88.46v-5.03h0.86v5.03zM180.43 88.46v-3.58h0.86v3.58zM181.17 88.46v-5.45h0.86v5.45zM181.91 88.46v-5.25h0.86v5.25zM182.65 88.46v-5.14h0.86v5.14zM183.4 88.46v-4.08h0.86v4.08zM184.14 88.46v-4.05h0.86v4.05zM184.88 88.46v-2.77h0.86v2.77zM185.62 88.46v-4.61h0.86v4.61zM186.36 88.46v-3.57h0.86v3.57zM187.1 88.46v-4.43h0.86v4.43zM187.84 88.46v-4.1h0.86v4.1zM188.58 88.46v-2.47h0.86v2.47zM199.69 88.46v-2h0.86v2zM200.43 88.46v-3.49h0.86v3.49zM201.18 88.46v-4.95h0.86v4.95zM201.92 88.46v-4.61h0.86v4.61zM202.66 88.46v-3.9h0.86v3.9zM203.4 88.46v-5.03h0.86v5.03zM204.14 88.46v-5.67h0.86v5.67zM204.88 88.46v-4.27h0.86v4.27zM205.62 88.46v-4.07h0.86v4.07zM206.36 88.46v-4.39h0.86v4.39zM207.1 88.46v-5.74h0.86v5.74zM207.84 88.46v-3.75h0.86v3.75zM208.58 88.46v-4.06h0.86v4.06zM209.32 88.46v-4.49h0.86v4.49zM210.07 88.46v-4.77h0.86v4.77zM210.81 88.46v-1.97h0.86v1.97zM211.55 88.46v-3.56h0.86v3.56zM213.03 88.46v-3.2h0.86v3.2zM46.34 94.48v-3.31h0.86v3.31zM47.08 94.48v-2.57h0.86v2.57zM48.56 94.48v-3.48h0.86v3.48zM49.3 94.48v-3.08h0.86v3.08zM53.75 94.48v-1.85h0.86v1.85zM79.68 94.48v-1.27h0.86v1.27zM80.42 94.48v-3.42h0.86v3.42zM81.16 94.48v-5.95h0.86v5.95zM81.9 94.48v-5.43h0.86v5.43zM82.64 94.48v-2.04h0.86v2.04zM83.38 94.48v-2.75h0.86v2.75zM84.12 94.48v-6.33h0.86v6.33zM84.86 94.48v-4.88h0.86v4.88zM85.61 94.48v-3.68h0.86v3.68zM86.35 94.48v-5.53h0.86v5.53zM87.09 94.48v-2.88h0.86v2.88zM87.83 94.48v-5.27h0.86v5.27zM88.57 94.48v-4.45h0.86v4.45zM89.31 94.48v-4.9h0.86v4.9zM90.05 94.48v-5.03h0.86v5.03zM91.53 94.48v-3.58h0.86v3.58zM92.27 94.48v-5.45h0.86v5.45zM93.01 94.48v-5.25h0.86v5.25zM93.75 94.48v-5.14h0.86v5.14zM94.5 94.48v-4.08h0.86v4.08zM95.24 94.48v-4.05h0.86v4.05zM95.98 94.48v-2.77h0.86v2.77zM96.72 94.48v-4.61h0.86v4.61zM97.46 94.48v-3.57h0.86v3.57zM98.2 94.48v-4.43h0.86v4.43zM98.94 94.48v-4.1h0.86v4.1zM99.68 94.48v-2.47h0.86v2.47zM110.79 94.48v-2h0.86v2zM111.53 94.48v-3.49h0.86v3.49zM112.28 94.48v-4.95h0.86v4.95zM113.02 94.48v-4.61h0.86v4.61zM113.76 94.48v-3.9h0.86v3.9zM114.5 94.48v-5.03h0.86v5.03zM115.24 94.48v-5.67h0.86v5.67zM115.98 94.48v-4.27h0.86v4.27zM116.72 94.48v-4.07h0.86v4.07zM117.46 94.48v-4.39h0.86v4.39zM118.2 94.48v-5.74h0.86v5.74zM118.94 94.48v-3.75h0.86v3.75zM119.68 94.48v-4.06h0.86v4.06zM120.42 94.48v-4.49h0.86v4.49zM121.17 94.48v-4.77h0.86v4.77zM121.91 94.48v-1.97h0.86v1.97zM122.65 94.48v-3.56h0.86v3.56zM124.13 94.48v-3.2h0.86v3.2zM140.43 94.48v-1.22h0.86v1.22zM141.17 94.48v-1.1h0.86v1.1zM160.43 94.48v-3.81h0.86v3.81zM161.17 94.48v-5.36h0.86v5.36zM161.91 94.48v-4.25h0.86v4.25zM162.65 94.48v-3.31h0.86v3.31zM163.39 94.48v-4.45h0.86v4.45zM164.13 94.48v-4.44h0.86v4.44zM164.87 94.48v-3.01h0.86v3.01zM167.1 94.48v-2.24h0.86v2.24zM168.58 94.48v-6.31h0.86v6.31zM169.32 94.48v-4.63h0.86v4.63zM170.8 94.48v-4.08h0.86v4.08zM171.54 94.48v-5.25h0.86v5.25zM172.28 94.48v-5.44h0.86v5.44zM173.02 94.48v-3.93h0.86v3.93zM173.76 94.48v-4.47h0.86v4.47zM174.5 94.48v-6.31h0.86v6.31zM175.25 94.48v-5.29h0.86v5.29zM175.99 94.48v-3.93h0.86v3.93zM176.73 94.48v-5.36h0.86v5.36zM177.47 94.48v-5.06h0.86v5.06zM178.21 94.48v-4.32h0.86v4.32zM178.95 94.48v-1.81h0.86v1.81zM179.69 94.48v-5.13h0.86v5.13zM180.43 94.48v-6.32h0.86v6.32zM181.17 94.48v-2.57h0.86v2.57zM181.91 94.48v-4.21h0.86v4.21zM182.65 94.48v-2.39h0.86v2.39zM183.4 94.48v-5.1h0.86v5.1zM184.14 94.48v-5.1h0.86v5.1zM184.88 94.48v-3.58h0.86v3.58zM185.62 94.48v-5.03h0.86v5.03zM186.36 94.48v-5.37h0.86v5.37zM187.1 94.48v-5.37h0.86v5.37zM187.84 94.48v-3.64h0.86v3.64zM188.58 94.48v-5.43h0.86v5.43zM189.32 94.48v-5.2h0.86v5.2zM190.06 94.48v-3.25h0.86v3.25zM190.8 94.48v-2.37h0.86v2.37zM205.62 94.48v-3.49h0.86v3.49zM206.36 94.48v-4.69h0.86v4.69zM207.1 94.48v-3.79h0.86v3.79zM207.84 94.48v-3.9h0.86v3.9zM208.58 94.48v-4.06h0.86v4.06zM209.32 94.48v-4.58h0.86v4.58zM210.81 94.48v-3.58h0.86v3.58zM211.55 94.48v-4.2h0.86v4.2zM212.29 94.48v-5.09h0.86v5.09zM213.03 94.48v-4.43h0.86v4.43zM213.77 94.48v-3.47h0.86v3.47zM214.51 94.48v-4.74h0.86v4.74zM215.25 94.48v-5.1h0.86v5.1zM215.99 94.48v-4.61h0.86v4.61zM216.73 94.48v-3.21h0.86v3.21zM217.47 94.48v-2.83h0.86v2.83zM51.53 100.5v-1.22h0.86v1.22zM52.27 100.5v-1.1h0.86v1.1zM71.53 100.5v-3.81h0.86v3.81zM72.27 100.5v-5.36h0.86v5.36zM73.01 100.5v-4.25h0.86v4.25zM73.75 100.5v-3.31h0.86v3.31zM74.49 100.5v-4.45h0.86v4.45zM75.23 100.5v-4.44h0.86v4.44zM75.97 100.5v-3.01h0.86v3.01zM78.2 100.5v-2.24h0.86v2.24zM79.68 100.5v-6.31h0.86v6.31zM80.42 100.5v-4.63h0.86v4.63zM81.9 100.5v-4.08h0.86v4.08zM82.64 100.5v-5.25h0.86v5.25zM83.38 100.5v-5.44h0.86v5.44zM84.12 100.5v-3.93h0.86v3.93zM84.86 100.5v-4.47h0.86v4.47zM85.61 100.5v-6.31h0.86v6.31zM86.35 100.5v-5.29h0.86v5.29zM87.09 100.5v-3.93h0.86v3.93zM87.83 100.5v-5.36h0.86v5.36zM88.57 100.5v-5.06h0.86v5.06zM89.31 100.5v-4.32h0.86v4.32zM90.05 100.5v-1.81h0.86v1.81zM90.79 100.5v-5.13h0.86v5.13zM91.53 100.5v-6.32h0.86v6.32zM92.27 100.5v-2.57h0.86v2.57zM93.01 100.5v-4.21h0.86v4.21zM93.75 100.5v-2.39h0.86v2.39zM94.5 100.5v-5.1h0.86v5.1zM95.24 100.5v-5.1h0.86v5.1zM95.98 100.5v-3.58h0.86v3.58zM96.72 100.5v-5.03h0.86v5.03zM97.46 100.5v-5.37h0.86v5.37zM98.2 100.5v-5.37h0.86v5.37zM98.94 100.5v-3.64h0.86v3.64zM99.68 100.5v-5.43h0.86v5.43zM100.42 100.5v-5.2h0.86v5.2zM101.16 100.5v-3.25h0.86v3.25zM101.9 100.5v-2.37h0.86v2.37zM116.72 100.5v-3.49h0.86v3.49zM117.46 100.5v-4.69h0.86v4.69zM118.2 100.5v-3.79h0.86v3.79zM118.94 100.5v-3.9h0.86v3.9zM119.68 100.5v-4.06h0.86v4.06zM120.42 100.5v-4.58h0.86v4.58zM121.91 100.5v-3.58h0.86v3.58zM122.65 100.5v-4.2h0.86v4.2zM123.39 100.5v-5.09h0.86v5.09zM124.13 100.5v-4.43h0.86v4.43zM124.87 100.5v-3.47h0.86v3.47zM125.61 100.5v-4.74h0.86v4.74zM126.35 100.5v-5.1h0.86v5.1zM127.09 100.5v-4.61h0.86v4.61zM127.83 100.5v-3.21h0.86v3.21zM128.57 100.5v-2.83h0.86v2.83zM149.32 100.5v-2.28h0.86v2.28zM150.06 100.5v-3.33h0.86v3.33zM150.8 100.5v-5.55h0.86v5.55zM151.54 100.5v-4h0.86v4zM152.28 100.5v-3.31h0.86v3.31zM153.76 100.5v-3.11h0.86v3.11zM169.32 100.5v-2.46h0.86v2.46zM170.06 100.5v-1.78h0.86v1.78zM170.8 100.5v-4.73h0.86v4.73zM171.54 100.5v-4.69h0.86v4.69zM172.28 100.5v-3.68h0.86v3.68zM173.02 100.5v-4.14h0.86v4.14zM173.76 100.5v-5.72h0.86v5.72zM174.5 100.5v-5.22h0.86v5.22zM175.25 100.5v-3.53h0.86v3.53zM175.99 100.5v-4.09h0.86v4.09zM176.73 100.5v-5.82h0.86v5.82zM177.47 100.5v-4.43h0.86v4.43zM178.21 100.5v-3.46h0.86v3.46zM178.95 100.5v-4.29h0.86v4.29zM179.69 100.5v-4.99h0.86v4.99zM180.43 100.5v-5.28h0.86v5.28zM181.17 100.5v-3.43h0.86v3.43zM181.91 100.5v-4.58h0.86v4.58zM183.4 100.5v-4.77h0.86v4.77zM184.14 100.5v-2.33h0.86v2.33zM184.88 100.5v-4.72h0.86v4.72zM185.62 100.5v-4.77h0.86v4.77zM186.36 100.5v-2.69h0.86v2.69zM187.1 100.5v-3.84h0.86v3.84zM187.84 100.5v-2.38h0.86v2.38zM188.58 100.5v-3.7h0.86v3.7zM189.32 100.5v-3.08h0.86v3.08zM205.62 100.5v-2.14h0.86v2.14zM206.36 100.5v-3.61h0.86v3.61zM207.1 100.5v-5.28h0.86v5.28zM207.84 100.5v-4.37h0.86v4.37zM208.58 100.5v-4.35h0.86v4.35zM209.32 100.5v-3.91h0.86v3.91zM210.81 100.5v-4.34h0.86v4.34zM211.55 100.5v-4.22h0.86v4.22zM212.29 100.5v-5.12h0.86v5.12zM213.03 100.5v-5.16h0.86v5.16zM213.77 100.5v-4.4h0.86v4.4zM214.51 100.5v-3.46h0.86v3.46zM215.25 100.5v-4.12h0.86v4.12zM215.99 100.5v-4.77h0.86v4.77zM216.73 100.5v-4.16h0.86v4.16zM217.47 100.5v-3.57h0.86v3.57zM218.21 100.5v-4.08h0.86v4.08zM218.96 100.5v-3.51h0.86v3.51zM60.42 106.52v-2.28h0.86v2.28zM61.16 106.52v-3.33h0.86v3.33zM61.9 106.52v-5.55h0.86v5.55zM62.64 106.52v-4h0.86v4zM63.38 106.52v-3.31h0.86v3.31zM64.86 106.52v-3.11h0.86v3.11zM80.42 106.52v-2.46h0.86v2.46zM81.16 106.52v-1.78h0.86v1.78zM81.9 106.52v-4.73h0.86v4.73zM82.64 106.52v-4.69h0.86v4.69zM83.38 106.52v-3.68h0.86v3.68zM84.12 106.52v-4.14h0.86v4.14zM84.86 106.52v-5.72h0.86v5.72zM85.61 106.52v-5.22h0.86v5.22zM86.35 106.52v-3.53h0.86v3.53zM87.09 106.52v-4.09h0.86v4.09zM87.83 106.52v-5.82h0.86v5.82zM88.57 106.52v-4.43h0.86v4.43zM89.31 106.52v-3.46h0.86v3.46zM90.05 106.52v-4.29h0.86v4.29zM90.79 106.52v-4.99h0.86v4.99zM91.53 106.52v-5.28h0.86v5.28zM92.27 106.52v-3.43h0.86v3.43zM93.01 106.52v-4.58h0.86v4.58zM94.5 106.52v-4.77h0.86v4.77zM95.24 106.52v-2.33h0.86v2.33zM95.98 106.52v-4.72h0.86v4.72zM96.72 106.52v-4.77h0.86v4.77zM97.46 106.52v-2.69h0.86v2.69zM98.2 106.52v-3.84h0.86v3.84zM98.94 106.52v-2.38h0.86v2.38zM99.68 106.52v-3.7h0.86v3.7zM100.42 106.52v-3.08h0.86v3.08zM116.72 106.52v-2.14h0.86v2.14zM117.46 106.52v-3.61h0.86v3.61zM118.2 106.52v-5.28h0.86v5.28zM118.94 106.52v-4.37h0.86v4.37zM119.68 106.52v-4.35h0.86v4.35zM120.42 106.52v-3.91h0.86v3.91zM121.91 106.52v-4.34h0.86v4.34zM122.65 106.52v-4.22h0.86v4.22zM123.39 106.52v-5.12h0.86v5.12zM124.13 106.52v-5.16h0.86v5.16zM124.87 106.52v-4.4h0.86v4.4zM125.61 106.52v-3.46h0.86v3.46zM126.35 106.52v-4.12h0.86v4.12zM127.09 106.52v-4.77h0.86v4.77zM127.83 106.52v-4.16h0.86v4.16zM128.57 106.52v-3.57h0.86v3.57zM129.31 106.52v-4.08h0.86v4.08zM130.06 106.52v-3.51h0.86v3.51zM147.84 106.52v-1.28h0.86v1.28zM148.58 106.52v-3.76h0.86v3.76zM150.06 106.52v-4.11h0.86v4.11zM150.8 106.52v-3.67h0.86v3.67zM151.54 106.52v-4.88h0.86v4.88zM152.28 106.52v-2.57h0.86v2.57zM153.02 106.52v-5.2h0.86v5.2zM153.76 106.52v-4.1h0.86v4.1zM155.24 106.52v-5.04h0.86v5.04zM155.98 106.52v-3.97h0.86v3.97zM156.73 106.52v-3.59h0.86v3.59zM158.21 106.52v-5.16h0.86v5.16zM158.95 106.52v-2.03h0.86v2.03zM160.43 106.52v-4.3h0.86v4.3zM161.17 106.52v-2.71h0.86v2.71zM161.91 106.52v-4.87h0.86v4.87zM162.65 106.52v-3.17h0.86v3.17zM163.39 106.52v-2.46h0.86v2.46zM179.69 106.52v-2.08h0.86v2.08zM180.43 106.52v-3.3h0.86v3.3zM181.17 106.52v-5.68h0.86v5.68zM181.91 106.52v-4.07h0.86v4.07zM183.4 106.52v-3.71h0.86v3.71zM184.14 106.52v-5.2h0.86v5.2zM184.88 106.52v-5h0.86v5zM185.62 106.52v-3.81h0.86v3.81zM186.36 106.52v-3.97h0.86v3.97zM187.1 106.52v-5.36h0.86v5.36zM187.84 106.52v-4.86h0.86v4.86zM188.58 106.52v-1.97h0.86v1.97zM189.32 106.52v-4.26h0.86v4.26zM190.06 106.52v-4.38h0.86v4.38zM190.8 106.52v-4.12h0.86v4.12zM191.54 106.52v-1.8h0.86v1.8zM192.29 106.52v-3.29h0.86v3.29zM193.03 106.52v-2.73h0.86v2.73zM210.81 106.52v-1.24h0.86v1.24zM211.55 106.52v-3.38h0.86v3.38zM212.29 106.52v-4.75h0.86v4.75zM213.03 106.52v-4.86h0.86v4.86zM214.51 106.52v-4.41h0.86v4.41zM215.25 106.52v-4.6h0.86v4.6zM215.99 106.52v-3.93h0.86v3.93zM216.73 106.52v-3.89h0.86v3.89zM217.47 106.52v-4.32h0.86v4.32zM218.21 106.52v-4.53h0.86v4.53zM218.96 106.52v-5.13h0.86v5.13zM219.7 106.52v-3.52h0.86v3.52zM220.44 106.52v-4.12h0.86v4.12zM221.18 106.52v-5.54h0.86v5.54zM221.92 106.52v-3.4h0.86v3.4zM222.66 106.52v-2.59h0.86v2.59zM58.94 112.54v-1.28h0.86v1.28zM59.68 112.54v-3.76h0.86v3.76zM61.16 112.54v-4.11h0.86v4.11zM61.9 112.54v-3.67h0.86v3.67zM62.64 112.54v-4.88h0.86v4.88zM63.38 112.54v-2.57h0.86v2.57zM64.12 112.54v-5.2h0.86v5.2zM64.86 112.54v-4.1h0.86v4.1zM66.34 112.54v-5.04h0.86v5.04zM67.08 112.54v-3.97h0.86v3.97zM67.83 112.54v-3.59h0.86v3.59zM69.31 112.54v-5.16h0.86v5.16zM70.05 112.54v-2.03h0.86v2.03zM71.53 112.54v-4.3h0.86v4.3zM72.27 112.54v-2.71h0.86v2.71zM73.01 112.54v-4.87h0.86v4.87zM73.75 112.54v-3.17h0.86v3.17zM74.49 112.54v-2.46h0.86v2.46zM90.79 112.54v-2.08h0.86v2.08zM91.53 112.54v-3.3h0.86v3.3zM92.27 112.54v-5.68h0.86v5.68zM93.01 112.54v-4.07h0.86v4.07zM94.5 112.54v-3.71h0.86v3.71zM95.24 112.54v-5.2h0.86v5.2zM95.98 112.54v-5h0.86v5zM96.72 112.54v-3.81h0.86v3.81zM97.46 112.54v-3.97h0.86v3.97zM98.2 112.54v-5.36h0.86v5.36zM98.94 112.54v-4.86h0.86v4.86zM99.68 112.54v-1.97h0.86v1.97zM100.42 112.54v-4.26h0.86v4.26zM101.16 112.54v-4.38h0.86v4.38zM101.9 112.54v-4.12h0.86v4.12zM102.64 112.54v-1.8h0.86v1.8zM103.39 112.54v-3.29h0.86v3.29zM104.13 112.54v-2.73h0.86v2.73zM121.91 112.54v-1.24h0.86v1.24zM122.65 112.54v-3.38h0.86v3.38zM123.39 112.54v-4.75h0.86v4.75zM124.13 112.54v-4.86h0.86v4.86zM125.61 112.54v-4.41h0.86v4.41zM126.35 112.54v-4.6h0.86v4.6zM127.09 112.54v-3.93h0.86v3.93zM127.83 112.54v-3.89h0.86v3.89zM128.57 112.54v-4.32h0.86v4.32zM129.31 112.54v-4.53h0.86v4.53zM130.06 112.54v-5.13h0.86v5.13zM130.8 112.54v-3.52h0.86v3.52zM131.54 112.54v-4.12h0.86v4.12zM132.28 112.54v-5.54h0.86v5.54zM133.02 112.54v-3.4h0.86v3.4zM133.76 112.54v-2.59h0.86v2.59zM134.5 112.54v-1.7h0.86v1.7zM150.8 112.54v-2.35h0.86v2.35zM151.54 112.54v-3.46h0.86v3.46zM152.28 112.54v-6.28h0.86v6.28zM153.76 112.54v-3.52h0.86v3.52zM154.5 112.54v-4.49h0.86v4.49zM155.24 112.54v-3.18h0.86v3.18zM155.98 112.54v-4.32h0.86v4.32zM156.73 112.54v-4.19h0.86v4.19zM157.47 112.54v-4.03h0.86v4.03zM158.21 112.54v-5.41h0.86v5.41zM158.95 112.54v-4.77h0.86v4.77zM159.69 112.54v-4.03h0.86v4.03zM160.43 112.54v-4.88h0.86v4.88zM161.17 112.54v-6.44h0.86v6.44zM161.91 112.54v-4.55h0.86v4.55zM162.65 112.54v-3.74h0.86v3.74zM163.39 112.54v-5.08h0.86v5.08zM164.13 112.54v-6.44h0.86v6.44zM164.87 112.54v-4.27h0.86v4.27zM165.62 112.54v-3.96h0.86v3.96zM166.36 112.54v-4.59h0.86v4.59zM167.1 112.54v-6.05h0.86v6.05zM167.84 112.54v-4.39h0.86v4.39zM168.58 112.54v-3.75h0.86v3.75zM169.32 112.54v-2.44h0.86v2.44zM170.8 112.54v-4.18h0.86v4.18zM171.54 112.54v-3.49h0.86v3.49zM172.28 112.54v-5.2h0.86v5.2zM173.02 112.54v-4.99h0.86v4.99zM174.5 112.54v-3.67h0.86v3.67zM175.25 112.54v-5.23h0.86v5.23zM175.99 112.54v-5.99h0.86v5.99zM176.73 112.54v-3.96h0.86v3.96zM177.47 112.54v-2.3h0.86v2.3zM187.84 112.54v-1.76h0.86v1.76zM193.03 112.54v-2.36h0.86v2.36zM193.77 112.54v-3.78h0.86v3.78zM194.51 112.54v-5.91h0.86v5.91zM195.25 112.54v-4.03h0.86v4.03zM195.99 112.54v-3.99h0.86v3.99zM197.47 112.54v-5.49h0.86v5.49zM198.21 112.54v-2.64h0.86v2.64zM198.95 112.54v-4.01h0.86v4.01zM199.69 112.54v-4.76h0.86v4.76zM200.43 112.54v-6.09h0.86v6.09zM201.18 112.54v-3.92h0.86v3.92zM202.66 112.54v-4.26h0.86v4.26zM203.4 112.54v-3.06h0.86v3.06zM204.88 112.54v-2.34h0.86v2.34zM45.6 118.56v-1.7h0.86v1.7zM61.9 118.56v-2.35h0.86v2.35zM62.64 118.56v-3.46h0.86v3.46zM63.38 118.56v-6.28h0.86v6.28zM64.86 118.56v-3.52h0.86v3.52zM65.6 118.56v-4.49h0.86v4.49zM66.34 118.56v-3.18h0.86v3.18zM67.08 118.56v-4.32h0.86v4.32zM67.83 118.56v-4.19h0.86v4.19zM68.57 118.56v-4.03h0.86v4.03zM69.31 118.56v-5.41h0.86v5.41zM70.05 118.56v-4.77h0.86v4.77zM70.79 118.56v-4.03h0.86v4.03zM71.53 118.56v-4.88h0.86v4.88zM72.27 118.56v-6.44h0.86v6.44zM73.01 118.56v-4.55h0.86v4.55zM73.75 118.56v-3.74h0.86v3.74zM74.49 118.56v-5.08h0.86v5.08zM75.23 118.56v-6.44h0.86v6.44zM75.97 118.56v-4.27h0.86v4.27zM76.72 118.56v-3.96h0.86v3.96zM77.46 118.56v-4.59h0.86v4.59zM78.2 118.56v-6.05h0.86v6.05zM78.94 118.56v-4.39h0.86v4.39zM79.68 118.56v-3.75h0.86v3.75zM80.42 118.56v-2.44h0.86v2.44zM81.9 118.56v-4.18h0.86v4.18zM82.64 118.56v-3.49h0.86v3.49zM83.38 118.56v-5.2h0.86v5.2zM84.12 118.56v-4.99h0.86v4.99zM85.61 118.56v-3.67h0.86v3.67zM86.35 118.56v-5.23h0.86v5.23zM87.09 118.56v-5.99h0.86v5.99zM87.83 118.56v-3.96h0.86v3.96zM88.57 118.56v-2.3h0.86v2.3zM98.94 118.56v-1.76h0.86v1.76zM104.13 118.56v-2.36h0.86v2.36zM104.87 118.56v-3.78h0.86v3.78zM105.61 118.56v-5.91h0.86v5.91zM106.35 118.56v-4.03h0.86v4.03zM107.09 118.56v-3.99h0.86v3.99zM108.57 118.56v-5.49h0.86v5.49zM109.31 118.56v-2.64h0.86v2.64zM110.05 118.56v-4.01h0.86v4.01zM110.79 118.56v-4.76h0.86v4.76zM111.53 118.56v-6.09h0.86v6.09zM112.28 118.56v-3.92h0.86v3.92zM113.76 118.56v-4.26h0.86v4.26zM114.5 118.56v-3.06h0.86v3.06zM115.98 118.56v-2.34h0.86v2.34zM135.98 118.56v-2.32h0.86v2.32zM136.72 118.56v-4.05h0.86v4.05zM137.46 118.56v-5.21h0.86v5.21zM138.2 118.56v-4.96h0.86v4.96zM138.95 118.56v-4.56h0.86v4.56zM139.69 118.56v-5.08h0.86v5.08zM140.43 118.56v-3.04h0.86v3.04zM141.17 118.56v-2.21h0.86v2.21zM141.91 118.56v-4.5h0.86v4.5zM142.65 118.56v-2.42h0.86v2.42zM144.13 118.56v-2.47h0.86v2.47zM144.87 118.56v-4.12h0.86v4.12zM145.61 118.56v-4.37h0.86v4.37zM146.35 118.56v-5.36h0.86v5.36zM147.84 118.56v-4.45h0.86v4.45zM148.58 118.56v-3.23h0.86v3.23zM149.32 118.56v-3.29h0.86v3.29zM169.32 118.56v-1.18h0.86v1.18zM178.95 118.56v-1.07h0.86v1.07zM179.69 118.56v-1.03h0.86v1.03zM180.43 118.56v-1.79h0.86v1.79zM181.17 118.56v-1.86h0.86v1.86zM181.91 118.56v-1.46h0.86v1.46zM182.65 118.56v-1.95h0.86v1.95zM183.4 118.56v-1.62h0.86v1.62zM204.88 118.56v-1.02h0.86v1.02zM205.62 118.56v-0.96h0.86v0.96zM206.36 118.56v-1.07h0.86v1.07zM207.1 118.56v-1.28h0.86v1.28zM214.51 118.56v-1.28h0.86v1.28zM218.21 118.56v-1.01h0.86v1.01zM218.96 118.56v-1.38h0.86v1.38z" fill="#c00000"/>
<rect x="45.6" y="34" width="177.8" height="84.6" fill="none" stroke="#333" stroke-width="1.2"/>
<text font-size="6.4" text-anchor="end" fill="#222" x="38.5" y="39.9">1–2</text>
<path d="M43 37.6h2.2" stroke="#555" stroke-width="0.7"/>
<text font-size="6.4" text-anchor="end" fill="#222" x="38.5" y="51.92">3-4</text>
<path d="M43 49.62h2.2" stroke="#555" stroke-width="0.7"/>
<text font-size="6.4" text-anchor="end" fill="#222" x="38.5" y="63.94">5-6</text>
<path d="M43 61.64h2.2" stroke="#555" stroke-width="0.7"/>
<text font-size="6.4" text-anchor="end" fill="#222" x="38.5" y="75.96">7-8</text>
<path d="M43 73.66h2.2" stroke="#555" stroke-width="0.7"/>
<text font-size="6.4" text-anchor="end" fill="#222" x="38.5" y="87.98">9-10</text>
<path d="M43 85.68h2.2" stroke="#555" stroke-width="0.7"/>
<text font-size="6.4" text-anchor="end" fill="#222" x="38.5" y="100">11-12</text>
<path d="M43 97.7h2.2" stroke="#555" stroke-width="0.7"/>
<text font-size="6.4" text-anchor="end" fill="#222" x="38.5" y="112.02">13-14</text>
<path d="M43 109.72h2.2" stroke="#555" stroke-width="0.7"/>
<path d="M231.3 85.7H227" stroke="#000" stroke-width="1.4"/><path d="M224.5 85.7l3.4 -2.2v4.4z" fill="#000"/>
<path d="M231.3 91.8H227" stroke="#000" stroke-width="1.4"/><path d="M224.5 91.8l3.4 -2.2v4.4z" fill="#000"/>
<path d="M231.3 97.5H227" stroke="#000" stroke-width="1.4"/><path d="M224.5 97.5l3.4 -2.2v4.4z" fill="#000"/>
<path d="M231.3 103.3H227" stroke="#000" stroke-width="1.4"/><path d="M224.5 103.3l3.4 -2.2v4.4z" fill="#000"/>
<path d="M231.3 109.7H227" stroke="#000" stroke-width="1.4"/><path d="M224.5 109.7l3.4 -2.2v4.4z" fill="#000"/>
<path d="M231.3 115.4H227" stroke="#000" stroke-width="1.4"/><path d="M224.5 115.4l3.4 -2.2v4.4z" fill="#000"/>
<g fill="#1f1f9c"><text x="50.8" y="146.2" font-size="12.4" font-weight="bold" lengthAdjust="spacingAndGlyphs" textLength="34.2">bmal1</text><text x="86.6" y="141.1" font-size="8.6" font-weight="bold" lengthAdjust="spacingAndGlyphs" textLength="14.2">fl/fl</text><text x="101" y="146.2" font-size="12.4" font-weight="bold" lengthAdjust="spacingAndGlyphs" textLength="88.2">; UBC-cre/ERT2</text><text x="190.4" y="140.9" font-size="8.4" font-weight="bold" lengthAdjust="spacingAndGlyphs">–</text><text x="198.7" y="146.2" font-size="12.4" font-weight="bold" lengthAdjust="spacingAndGlyphs" textLength="21.3">(<tspan font-style="italic">wt</tspan>)</text></g>
<text font-size="7.2" text-anchor="middle" fill="#222" x="45.6" y="159">0</text>
<text font-size="7.2" text-anchor="middle" fill="#222" x="75.23" y="159">8</text>
<text font-size="7.2" text-anchor="middle" fill="#222" x="104.87" y="159">16</text>
<text font-size="7.2" text-anchor="middle" fill="#222" x="134.5" y="159">0</text>
<text font-size="7.2" text-anchor="middle" fill="#222" x="164.13" y="159">8</text>
<text font-size="7.2" text-anchor="middle" fill="#222" x="193.77" y="159">16</text>
<text font-size="7.2" text-anchor="middle" fill="#222" x="223.4" y="159">0</text>
<path d="M45.6 161.5v3.5M75.23 161.5v3.5M104.87 161.5v3.5M134.5 161.5v3.5M164.13 161.5v3.5M193.77 161.5v3.5M223.4 161.5v3.5" stroke="#555" stroke-width="0.7"/>
<path d="M45.6 171.4H223.4M45.6 177.43H223.4M45.6 183.46H223.4M45.6 189.49H223.4M45.6 195.52H223.4M45.6 201.55H223.4M45.6 207.58H223.4M45.6 213.61H223.4M45.6 219.64H223.4M45.6 225.67H223.4M45.6 231.7H223.4M45.6 237.73H223.4M45.6 243.76H223.4M45.6 249.79H223.4" stroke="#c9c9ee" stroke-width="0.6" fill="none"/>
<path d="M93.75 171.6v-1.49h0.86v1.49zM95.24 171.6v-2.87h0.86v2.87zM96.72 171.6v-1.89h0.86v1.89zM97.46 171.6v-2.24h0.86v2.24zM98.94 171.6v-2.57h0.86v2.57zM99.68 171.6v-1.68h0.86v1.68zM107.09 171.6v-1.44h0.86v1.44zM107.83 171.6v-2.03h0.86v2.03zM108.57 171.6v-1.84h0.86v1.84zM109.31 171.6v-1.55h0.86v1.55zM110.05 171.6v-2.1h0.86v2.1zM111.53 171.6v-2.21h0.86v2.21zM112.28 171.6v-1.59h0.86v1.59zM117.46 171.6v-1.43h0.86v1.43zM119.68 171.6v-1.44h0.86v1.44zM120.42 171.6v-3.36h0.86v3.36zM121.17 171.6v-2.06h0.86v2.06zM121.91 171.6v-1.79h0.86v1.79zM122.65 171.6v-2.98h0.86v2.98zM124.13 171.6v-4.15h0.86v4.15zM124.87 171.6v-2.05h0.86v2.05zM125.61 171.6v-2.79h0.86v2.79zM126.35 171.6v-3.38h0.86v3.38zM127.09 171.6v-3.43h0.86v3.43zM127.83 171.6v-2.85h0.86v2.85zM128.57 171.6v-2.37h0.86v2.37zM129.31 171.6v-3.47h0.86v3.47zM130.06 171.6v-4.17h0.86v4.17zM130.8 171.6v-3.32h0.86v3.32zM131.54 171.6v-1.73h0.86v1.73zM132.28 171.6v-2.13h0.86v2.13zM134.5 171.6v-1.82h0.86v1.82zM136.72 171.6v-2.46h0.86v2.46zM137.46 171.6v-1.54h0.86v1.54zM147.09 171.6v-1.37h0.86v1.37zM147.84 171.6v-1.71h0.86v1.71zM148.58 171.6v-2.77h0.86v2.77zM149.32 171.6v-2.33h0.86v2.33zM150.06 171.6v-1.98h0.86v1.98zM150.8 171.6v-1.4h0.86v1.4zM151.54 171.6v-2.39h0.86v2.39zM152.28 171.6v-1.91h0.86v1.91zM153.02 171.6v-1.28h0.86v1.28zM161.91 171.6v-1.1h0.86v1.1zM171.54 171.6v-1.3h0.86v1.3zM182.65 171.6v-1.75h0.86v1.75zM183.4 171.6v-1.38h0.86v1.38zM192.29 171.6v-1.47h0.86v1.47zM193.03 171.6v-1.48h0.86v1.48zM193.77 171.6v-3.63h0.86v3.63zM194.51 171.6v-3.02h0.86v3.02zM195.25 171.6v-1.36h0.86v1.36zM198.21 171.6v-2.54h0.86v2.54zM198.95 171.6v-2.69h0.86v2.69zM199.69 171.6v-3.54h0.86v3.54zM200.43 171.6v-3.11h0.86v3.11zM201.18 171.6v-1.55h0.86v1.55zM202.66 171.6v-3.97h0.86v3.97zM203.4 171.6v-3.07h0.86v3.07zM204.14 171.6v-2.71h0.86v2.71zM204.88 171.6v-1.69h0.86v1.69zM205.62 171.6v-1.95h0.86v1.95zM206.36 171.6v-1.99h0.86v1.99zM207.1 171.6v-2.5h0.86v2.5zM207.84 171.6v-3.36h0.86v3.36zM208.58 171.6v-2.06h0.86v2.06zM210.07 171.6v-1.44h0.86v1.44zM210.81 171.6v-3.39h0.86v3.39zM211.55 171.6v-3.14h0.86v3.14zM212.29 171.6v-2.73h0.86v2.73zM213.03 171.6v-2.54h0.86v2.54zM213.77 171.6v-2.85h0.86v2.85zM214.51 171.6v-3.29h0.86v3.29zM215.99 171.6v-1.36h0.86v1.36zM220.44 171.6v-1.75h0.86v1.75zM221.18 171.6v-1.27h0.86v1.27zM222.66 171.6v-1.36h0.86v1.36zM45.6 177.63v-1.82h0.86v1.82zM47.82 177.63v-2.46h0.86v2.46zM48.56 177.63v-1.54h0.86v1.54zM58.19 177.63v-1.37h0.86v1.37zM58.94 177.63v-1.71h0.86v1.71zM59.68 177.63v-2.77h0.86v2.77zM60.42 177.63v-2.33h0.86v2.33zM61.16 177.63v-1.98h0.86v1.98zM61.9 177.63v-1.4h0.86v1.4zM62.64 177.63v-2.39h0.86v2.39zM63.38 177.63v-1.91h0.86v1.91zM64.12 177.63v-1.28h0.86v1.28zM73.01 177.63v-1.1h0.86v1.1zM82.64 177.63v-1.3h0.86v1.3zM93.75 177.63v-1.75h0.86v1.75zM94.5 177.63v-1.38h0.86v1.38zM103.39 177.63v-1.47h0.86v1.47zM104.13 177.63v-1.48h0.86v1.48zM104.87 177.63v-3.63h0.86v3.63zM105.61 177.63v-3.02h0.86v3.02zM106.35 177.63v-1.36h0.86v1.36zM109.31 177.63v-2.54h0.86v2.54zM110.05 177.63v-2.69h0.86v2.69zM110.79 177.63v-3.54h0.86v3.54zM111.53 177.63v-3.11h0.86v3.11zM112.28 177.63v-1.55h0.86v1.55zM113.76 177.63v-3.97h0.86v3.97zM114.5 177.63v-3.07h0.86v3.07zM115.24 177.63v-2.71h0.86v2.71zM115.98 177.63v-1.69h0.86v1.69zM116.72 177.63v-1.95h0.86v1.95zM117.46 177.63v-1.99h0.86v1.99zM118.2 177.63v-2.5h0.86v2.5zM118.94 177.63v-3.36h0.86v3.36zM119.68 177.63v-2.06h0.86v2.06zM121.17 177.63v-1.44h0.86v1.44zM121.91 177.63v-3.39h0.86v3.39zM122.65 177.63v-3.14h0.86v3.14zM123.39 177.63v-2.73h0.86v2.73zM124.13 177.63v-2.54h0.86v2.54zM124.87 177.63v-2.85h0.86v2.85zM125.61 177.63v-3.29h0.86v3.29zM127.09 177.63v-1.36h0.86v1.36zM131.54 177.63v-1.75h0.86v1.75zM132.28 177.63v-1.27h0.86v1.27zM133.76 177.63v-1.36h0.86v1.36zM136.72 177.63v-1.26h0.86v1.26zM137.46 177.63v-1.36h0.86v1.36zM138.2 177.63v-1.59h0.86v1.59zM138.95 177.63v-1.39h0.86v1.39zM147.09 177.63v-1.82h0.86v1.82zM147.84 177.63v-0.91h0.86v0.91zM160.43 177.63v-1.72h0.86v1.72zM161.17 177.63v-2.42h0.86v2.42zM161.91 177.63v-2.14h0.86v2.14zM162.65 177.63v-1.44h0.86v1.44zM169.32 177.63v-1.08h0.86v1.08zM183.4 177.63v-1.19h0.86v1.19zM184.14 177.63v-1.06h0.86v1.06zM185.62 177.63v-1.56h0.86v1.56zM195.99 177.63v-1.79h0.86v1.79zM196.73 177.63v-2.33h0.86v2.33zM197.47 177.63v-3.82h0.86v3.82zM198.21 177.63v-2.9h0.86v2.9zM198.95 177.63v-2.93h0.86v2.93zM199.69 177.63v-1.62h0.86v1.62zM200.43 177.63v-3.86h0.86v3.86zM201.18 177.63v-1.58h0.86v1.58zM201.92 177.63v-2.75h0.86v2.75zM204.14 177.63v-2.9h0.86v2.9zM204.88 177.63v-2.82h0.86v2.82zM205.62 177.63v-1.75h0.86v1.75zM206.36 177.63v-3.36h0.86v3.36zM207.84 177.63v-2.82h0.86v2.82zM208.58 177.63v-3.49h0.86v3.49zM209.32 177.63v-3.69h0.86v3.69zM210.07 177.63v-3.17h0.86v3.17zM210.81 177.63v-2.93h0.86v2.93zM212.29 177.63v-1.44h0.86v1.44zM47.82 183.66v-1.26h0.86v1.26zM48.56 183.66v-1.36h0.86v1.36zM49.3 183.66v-1.59h0.86v1.59zM50.05 183.66v-1.39h0.86v1.39zM58.19 183.66v-1.82h0.86v1.82zM58.94 183.66v-0.91h0.86v0.91zM71.53 183.66v-1.72h0.86v1.72zM72.27 183.66v-2.42h0.86v2.42zM73.01 183.66v-2.14h0.86v2.14zM73.75 183.66v-1.44h0.86v1.44zM80.42 183.66v-1.08h0.86v1.08zM94.5 183.66v-1.19h0.86v1.19zM95.24 183.66v-1.06h0.86v1.06zM96.72 183.66v-1.56h0.86v1.56zM107.09 183.66v-1.79h0.86v1.79zM107.83 183.66v-2.33h0.86v2.33zM108.57 183.66v-3.82h0.86v3.82zM109.31 183.66v-2.9h0.86v2.9zM110.05 183.66v-2.93h0.86v2.93zM110.79 183.66v-1.62h0.86v1.62zM111.53 183.66v-3.86h0.86v3.86zM112.28 183.66v-1.58h0.86v1.58zM113.02 183.66v-2.75h0.86v2.75zM115.24 183.66v-2.9h0.86v2.9zM115.98 183.66v-2.82h0.86v2.82zM116.72 183.66v-1.75h0.86v1.75zM117.46 183.66v-3.36h0.86v3.36zM118.94 183.66v-2.82h0.86v2.82zM119.68 183.66v-3.49h0.86v3.49zM120.42 183.66v-3.69h0.86v3.69zM121.17 183.66v-3.17h0.86v3.17zM121.91 183.66v-2.93h0.86v2.93zM123.39 183.66v-1.44h0.86v1.44zM135.98 183.66v-1.34h0.86v1.34zM136.72 183.66v-0.92h0.86v0.92zM154.5 183.66v-1.35h0.86v1.35zM159.69 183.66v-1.67h0.86v1.67zM169.32 183.66v-1.6h0.86v1.6zM170.06 183.66v-0.98h0.86v0.98zM179.69 183.66v-2.16h0.86v2.16zM191.54 183.66v-1.63h0.86v1.63zM192.29 183.66v-1.94h0.86v1.94zM194.51 183.66v-1.75h0.86v1.75zM195.25 183.66v-2.95h0.86v2.95zM196.73 183.66v-3.34h0.86v3.34zM197.47 183.66v-1.61h0.86v1.61zM198.21 183.66v-3.49h0.86v3.49zM198.95 183.66v-2.47h0.86v2.47zM200.43 183.66v-3.18h0.86v3.18zM201.92 183.66v-4.31h0.86v4.31zM203.4 183.66v-3.29h0.86v3.29zM204.14 183.66v-3.09h0.86v3.09zM205.62 183.66v-3.81h0.86v3.81zM206.36 183.66v-3.32h0.86v3.32zM207.1 183.66v-1.63h0.86v1.63zM207.84 183.66v-2.51h0.86v2.51zM210.81 183.66v-1.6h0.86v1.6zM211.55 183.66v-2.08h0.86v2.08zM47.08 189.69v-1.34h0.86v1.34zM47.82 189.69v-0.92h0.86v0.92zM65.6 189.69v-1.35h0.86v1.35zM70.79 189.69v-1.67h0.86v1.67zM80.42 189.69v-1.6h0.86v1.6zM81.16 189.69v-0.98h0.86v0.98zM90.79 189.69v-2.16h0.86v2.16zM102.64 189.69v-1.63h0.86v1.63zM103.39 189.69v-1.94h0.86v1.94zM105.61 189.69v-1.75h0.86v1.75zM106.35 189.69v-2.95h0.86v2.95zM107.83 189.69v-3.34h0.86v3.34zM108.57 189.69v-1.61h0.86v1.61zM109.31 189.69v-3.49h0.86v3.49zM110.05 189.69v-2.47h0.86v2.47zM111.53 189.69v-3.18h0.86v3.18zM113.02 189.69v-4.31h0.86v4.31zM114.5 189.69v-3.29h0.86v3.29zM115.24 189.69v-3.09h0.86v3.09zM116.72 189.69v-3.81h0.86v3.81zM117.46 189.69v-3.32h0.86v3.32zM118.2 189.69v-1.63h0.86v1.63zM118.94 189.69v-2.51h0.86v2.51zM121.91 189.69v-1.6h0.86v1.6zM122.65 189.69v-2.08h0.86v2.08zM135.24 189.69v-1.73h0.86v1.73zM147.84 189.69v-1.51h0.86v1.51zM159.69 189.69v-1.72h0.86v1.72zM161.17 189.69v-1.13h0.86v1.13zM167.1 189.69v-1.32h0.86v1.32zM181.17 189.69v-2.03h0.86v2.03zM181.91 189.69v-2.99h0.86v2.99zM182.65 189.69v-2.24h0.86v2.24zM183.4 189.69v-4.13h0.86v4.13zM184.88 189.69v-4.3h0.86v4.3zM186.36 189.69v-4.03h0.86v4.03zM187.1 189.69v-3.39h0.86v3.39zM187.84 189.69v-3.08h0.86v3.08zM188.58 189.69v-2.76h0.86v2.76zM193.77 189.69v-2.08h0.86v2.08zM194.51 189.69v-3.34h0.86v3.34zM195.25 189.69v-4.24h0.86v4.24zM195.99 189.69v-4.32h0.86v4.32zM196.73 189.69v-3.72h0.86v3.72zM197.47 189.69v-3.48h0.86v3.48zM198.95 189.69v-3.93h0.86v3.93zM200.43 189.69v-2.06h0.86v2.06zM201.18 189.69v-5.13h0.86v5.13zM201.92 189.69v-3.52h0.86v3.52zM203.4 189.69v-4.04h0.86v4.04zM204.14 189.69v-4.98h0.86v4.98zM204.88 189.69v-3.51h0.86v3.51zM205.62 189.69v-3.41h0.86v3.41zM207.1 189.69v-2.85h0.86v2.85zM207.84 189.69v-4.22h0.86v4.22zM208.58 189.69v-2.02h0.86v2.02zM209.32 189.69v-3.43h0.86v3.43zM210.07 189.69v-4.55h0.86v4.55zM210.81 189.69v-3.81h0.86v3.81zM211.55 189.69v-3.15h0.86v3.15zM212.29 189.69v-3.53h0.86v3.53zM213.77 189.69v-4.36h0.86v4.36zM215.25 189.69v-2.54h0.86v2.54zM218.96 189.69v-1.56h0.86v1.56zM220.44 189.69v-1.85h0.86v1.85zM46.34 195.72v-1.73h0.86v1.73zM58.94 195.72v-1.51h0.86v1.51zM70.79 195.72v-1.72h0.86v1.72zM72.27 195.72v-1.13h0.86v1.13zM78.2 195.72v-1.32h0.86v1.32zM92.27 195.72v-2.03h0.86v2.03zM93.01 195.72v-2.99h0.86v2.99zM93.75 195.72v-2.24h0.86v2.24zM94.5 195.72v-4.13h0.86v4.13zM95.98 195.72v-4.3h0.86v4.3zM97.46 195.72v-4.03h0.86v4.03zM98.2 195.72v-3.39h0.86v3.39zM98.94 195.72v-3.08h0.86v3.08zM99.68 195.72v-2.76h0.86v2.76zM104.87 195.72v-2.08h0.86v2.08zM105.61 195.72v-3.34h0.86v3.34zM106.35 195.72v-4.24h0.86v4.24zM107.09 195.72v-4.32h0.86v4.32zM107.83 195.72v-3.72h0.86v3.72zM108.57 195.72v-3.48h0.86v3.48zM110.05 195.72v-3.93h0.86v3.93zM111.53 195.72v-2.06h0.86v2.06zM112.28 195.72v-5.13h0.86v5.13zM113.02 195.72v-3.52h0.86v3.52zM114.5 195.72v-4.04h0.86v4.04zM115.24 195.72v-4.98h0.86v4.98zM115.98 195.72v-3.51h0.86v3.51zM116.72 195.72v-3.41h0.86v3.41zM118.2 195.72v-2.85h0.86v2.85zM118.94 195.72v-4.22h0.86v4.22zM119.68 195.72v-2.02h0.86v2.02zM120.42 195.72v-3.43h0.86v3.43zM121.17 195.72v-4.55h0.86v4.55zM121.91 195.72v-3.81h0.86v3.81zM122.65 195.72v-3.15h0.86v3.15zM123.39 195.72v-3.53h0.86v3.53zM124.87 195.72v-4.36h0.86v4.36zM126.35 195.72v-2.54h0.86v2.54zM130.06 195.72v-1.56h0.86v1.56zM131.54 195.72v-1.85h0.86v1.85zM152.28 195.72v-1.99h0.86v1.99zM153.02 195.72v-3.07h0.86v3.07zM153.76 195.72v-2.74h0.86v2.74zM154.5 195.72v-2.31h0.86v2.31zM155.24 195.72v-2.05h0.86v2.05zM155.98 195.72v-1.95h0.86v1.95zM170.06 195.72v-1.31h0.86v1.31zM170.8 195.72v-0.91h0.86v0.91zM177.47 195.72v-1.22h0.86v1.22zM178.21 195.72v-2.69h0.86v2.69zM178.95 195.72v-4.37h0.86v4.37zM179.69 195.72v-4.27h0.86v4.27zM180.43 195.72v-2.06h0.86v2.06zM181.17 195.72v-3.46h0.86v3.46zM181.91 195.72v-4.19h0.86v4.19zM182.65 195.72v-3.84h0.86v3.84zM184.14 195.72v-4.08h0.86v4.08zM184.88 195.72v-4.23h0.86v4.23zM185.62 195.72v-4.5h0.86v4.5zM186.36 195.72v-3.75h0.86v3.75zM187.1 195.72v-3.5h0.86v3.5zM187.84 195.72v-4.93h0.86v4.93zM188.58 195.72v-2.92h0.86v2.92zM189.32 195.72v-2.07h0.86v2.07zM193.03 195.72v-1.94h0.86v1.94zM193.77 195.72v-3.2h0.86v3.2zM195.25 195.72v-2h0.86v2zM195.99 195.72v-3.55h0.86v3.55zM196.73 195.72v-2.15h0.86v2.15zM197.47 195.72v-5.37h0.86v5.37zM198.21 195.72v-4.45h0.86v4.45zM198.95 195.72v-3.57h0.86v3.57zM199.69 195.72v-4.52h0.86v4.52zM200.43 195.72v-5.52h0.86v5.52zM201.18 195.72v-4.69h0.86v4.69zM201.92 195.72v-3.63h0.86v3.63zM202.66 195.72v-4.74h0.86v4.74zM203.4 195.72v-5.65h0.86v5.65zM204.14 195.72v-4.41h0.86v4.41zM204.88 195.72v-3.12h0.86v3.12zM205.62 195.72v-4.66h0.86v4.66zM206.36 195.72v-5.65h0.86v5.65zM207.1 195.72v-3.99h0.86v3.99zM207.84 195.72v-3.79h0.86v3.79zM208.58 195.72v-3.73h0.86v3.73zM209.32 195.72v-2.62h0.86v2.62zM210.07 195.72v-5.02h0.86v5.02zM210.81 195.72v-3.91h0.86v3.91zM211.55 195.72v-4.02h0.86v4.02zM212.29 195.72v-4.56h0.86v4.56zM213.03 195.72v-4.27h0.86v4.27zM213.77 195.72v-3.2h0.86v3.2zM215.25 195.72v-4.94h0.86v4.94zM215.99 195.72v-4.85h0.86v4.85zM216.73 195.72v-3.99h0.86v3.99zM217.47 195.72v-4h0.86v4zM218.21 195.72v-4.76h0.86v4.76zM218.96 195.72v-3.79h0.86v3.79zM219.7 195.72v-3.28h0.86v3.28zM220.44 195.72v-3.73h0.86v3.73zM221.18 195.72v-4.62h0.86v4.62zM221.92 195.72v-2.88h0.86v2.88zM63.38 201.75v-1.99h0.86v1.99zM64.12 201.75v-3.07h0.86v3.07zM64.86 201.75v-2.74h0.86v2.74zM65.6 201.75v-2.31h0.86v2.31zM66.34 201.75v-2.05h0.86v2.05zM67.08 201.75v-1.95h0.86v1.95zM81.16 201.75v-1.31h0.86v1.31zM81.9 201.75v-0.91h0.86v0.91zM88.57 201.75v-1.22h0.86v1.22zM89.31 201.75v-2.69h0.86v2.69zM90.05 201.75v-4.37h0.86v4.37zM90.79 201.75v-4.27h0.86v4.27zM91.53 201.75v-2.06h0.86v2.06zM92.27 201.75v-3.46h0.86v3.46zM93.01 201.75v-4.19h0.86v4.19zM93.75 201.75v-3.84h0.86v3.84zM95.24 201.75v-4.08h0.86v4.08zM95.98 201.75v-4.23h0.86v4.23zM96.72 201.75v-4.5h0.86v4.5zM97.46 201.75v-3.75h0.86v3.75zM98.2 201.75v-3.5h0.86v3.5zM98.94 201.75v-4.93h0.86v4.93zM99.68 201.75v-2.92h0.86v2.92zM100.42 201.75v-2.07h0.86v2.07zM104.13 201.75v-1.94h0.86v1.94zM104.87 201.75v-3.2h0.86v3.2zM106.35 201.75v-2h0.86v2zM107.09 201.75v-3.55h0.86v3.55zM107.83 201.75v-2.15h0.86v2.15zM108.57 201.75v-5.37h0.86v5.37zM109.31 201.75v-4.45h0.86v4.45zM110.05 201.75v-3.57h0.86v3.57zM110.79 201.75v-4.52h0.86v4.52zM111.53 201.75v-5.52h0.86v5.52zM112.28 201.75v-4.69h0.86v4.69zM113.02 201.75v-3.63h0.86v3.63zM113.76 201.75v-4.74h0.86v4.74zM114.5 201.75v-5.65h0.86v5.65zM115.24 201.75v-4.41h0.86v4.41zM115.98 201.75v-3.12h0.86v3.12zM116.72 201.75v-4.66h0.86v4.66zM117.46 201.75v-5.65h0.86v5.65zM118.2 201.75v-3.99h0.86v3.99zM118.94 201.75v-3.79h0.86v3.79zM119.68 201.75v-3.73h0.86v3.73zM120.42 201.75v-2.62h0.86v2.62zM121.17 201.75v-5.02h0.86v5.02zM121.91 201.75v-3.91h0.86v3.91zM122.65 201.75v-4.02h0.86v4.02zM123.39 201.75v-4.56h0.86v4.56zM124.13 201.75v-4.27h0.86v4.27zM124.87 201.75v-3.2h0.86v3.2zM126.35 201.75v-4.94h0.86v4.94zM127.09 201.75v-4.85h0.86v4.85zM127.83 201.75v-3.99h0.86v3.99zM128.57 201.75v-4h0.86v4zM129.31 201.75v-4.76h0.86v4.76zM130.06 201.75v-3.79h0.86v3.79zM130.8 201.75v-3.28h0.86v3.28zM131.54 201.75v-3.73h0.86v3.73zM132.28 201.75v-4.62h0.86v4.62zM133.02 201.75v-2.88h0.86v2.88zM134.5 201.75v-1.24h0.86v1.24zM135.24 201.75v-3.06h0.86v3.06zM135.98 201.75v-2.41h0.86v2.41zM138.95 201.75v-1.24h0.86v1.24zM156.73 201.75v-1.12h0.86v1.12zM157.47 201.75v-1h0.86v1zM170.06 201.75v-1.08h0.86v1.08zM170.8 201.75v-0.97h0.86v0.97zM181.91 201.75v-2.05h0.86v2.05zM182.65 201.75v-3.58h0.86v3.58zM183.4 201.75v-5.36h0.86v5.36zM185.62 201.75v-4.58h0.86v4.58zM187.1 201.75v-4.43h0.86v4.43zM188.58 201.75v-4.93h0.86v4.93zM189.32 201.75v-5.43h0.86v5.43zM190.06 201.75v-5.05h0.86v5.05zM190.8 201.75v-4.17h0.86v4.17zM191.54 201.75v-3.98h0.86v3.98zM192.29 201.75v-5.93h0.86v5.93zM193.03 201.75v-4.3h0.86v4.3zM193.77 201.75v-3.94h0.86v3.94zM194.51 201.75v-4.98h0.86v4.98zM195.25 201.75v-4.9h0.86v4.9zM195.99 201.75v-3.93h0.86v3.93zM196.73 201.75v-3.67h0.86v3.67zM197.47 201.75v-4.84h0.86v4.84zM198.21 201.75v-2.46h0.86v2.46zM198.95 201.75v-4.59h0.86v4.59zM199.69 201.75v-1.94h0.86v1.94zM200.43 201.75v-3.98h0.86v3.98zM201.18 201.75v-4.58h0.86v4.58zM201.92 201.75v-2.26h0.86v2.26zM202.66 201.75v-4.15h0.86v4.15zM203.4 201.75v-3.9h0.86v3.9zM204.14 201.75v-4.79h0.86v4.79zM204.88 201.75v-3.94h0.86v3.94zM205.62 201.75v-4.3h0.86v4.3zM206.36 201.75v-4.09h0.86v4.09zM207.1 201.75v-5.96h0.86v5.96zM207.84 201.75v-4.08h0.86v4.08zM208.58 201.75v-4.07h0.86v4.07zM209.32 201.75v-2.64h0.86v2.64zM210.81 201.75v-4.13h0.86v4.13zM211.55 201.75v-3.48h0.86v3.48zM212.29 201.75v-4.37h0.86v4.37zM213.03 201.75v-6.06h0.86v6.06zM213.77 201.75v-4.65h0.86v4.65zM214.51 201.75v-3.43h0.86v3.43zM215.25 201.75v-4.95h0.86v4.95zM215.99 201.75v-5.26h0.86v5.26zM216.73 201.75v-3.96h0.86v3.96zM217.47 201.75v-3.96h0.86v3.96zM218.21 201.75v-5.14h0.86v5.14zM218.96 201.75v-4.46h0.86v4.46zM219.7 201.75v-3.1h0.86v3.1zM45.6 207.78v-1.24h0.86v1.24zM46.34 207.78v-3.06h0.86v3.06zM47.08 207.78v-2.41h0.86v2.41zM50.05 207.78v-1.24h0.86v1.24zM67.83 207.78v-1.12h0.86v1.12zM68.57 207.78v-1h0.86v1zM81.16 207.78v-1.08h0.86v1.08zM81.9 207.78v-0.97h0.86v0.97zM93.01 207.78v-2.05h0.86v2.05zM93.75 207.78v-3.58h0.86v3.58zM94.5 207.78v-5.36h0.86v5.36zM96.72 207.78v-4.58h0.86v4.58zM98.2 207.78v-4.43h0.86v4.43zM99.68 207.78v-4.93h0.86v4.93zM100.42 207.78v-5.43h0.86v5.43zM101.16 207.78v-5.05h0.86v5.05zM101.9 207.78v-4.17h0.86v4.17zM102.64 207.78v-3.98h0.86v3.98zM103.39 207.78v-5.93h0.86v5.93zM104.13 207.78v-4.3h0.86v4.3zM104.87 207.78v-3.94h0.86v3.94zM105.61 207.78v-4.98h0.86v4.98zM106.35 207.78v-4.9h0.86v4.9zM107.09 207.78v-3.93h0.86v3.93zM107.83 207.78v-3.67h0.86v3.67zM108.57 207.78v-4.84h0.86v4.84zM109.31 207.78v-2.46h0.86v2.46zM110.05 207.78v-4.59h0.86v4.59zM110.79 207.78v-1.94h0.86v1.94zM111.53 207.78v-3.98h0.86v3.98zM112.28 207.78v-4.58h0.86v4.58zM113.02 207.78v-2.26h0.86v2.26zM113.76 207.78v-4.15h0.86v4.15zM114.5 207.78v-3.9h0.86v3.9zM115.24 207.78v-4.79h0.86v4.79zM115.98 207.78v-3.94h0.86v3.94zM116.72 207.78v-4.3h0.86v4.3zM117.46 207.78v-4.09h0.86v4.09zM118.2 207.78v-5.96h0.86v5.96zM118.94 207.78v-4.08h0.86v4.08zM119.68 207.78v-4.07h0.86v4.07zM120.42 207.78v-2.64h0.86v2.64zM121.91 207.78v-4.13h0.86v4.13zM122.65 207.78v-3.48h0.86v3.48zM123.39 207.78v-4.37h0.86v4.37zM124.13 207.78v-6.06h0.86v6.06zM124.87 207.78v-4.65h0.86v4.65zM125.61 207.78v-3.43h0.86v3.43zM126.35 207.78v-4.95h0.86v4.95zM127.09 207.78v-5.26h0.86v5.26zM127.83 207.78v-3.96h0.86v3.96zM128.57 207.78v-3.96h0.86v3.96zM129.31 207.78v-5.14h0.86v5.14zM130.06 207.78v-4.46h0.86v4.46zM130.8 207.78v-3.1h0.86v3.1zM135.24 207.78v-1.3h0.86v1.3zM143.39 207.78v-1.01h0.86v1.01zM156.73 207.78v-1.41h0.86v1.41zM178.21 207.78v-2.49h0.86v2.49zM179.69 207.78v-6.05h0.86v6.05zM180.43 207.78v-4.59h0.86v4.59zM181.17 207.78v-4.04h0.86v4.04zM181.91 207.78v-4.82h0.86v4.82zM182.65 207.78v-5.27h0.86v5.27zM183.4 207.78v-4.4h0.86v4.4zM184.14 207.78v-4.05h0.86v4.05zM184.88 207.78v-4.26h0.86v4.26zM185.62 207.78v-5.19h0.86v5.19zM186.36 207.78v-4.77h0.86v4.77zM187.1 207.78v-3.58h0.86v3.58zM187.84 207.78v-4.68h0.86v4.68zM188.58 207.78v-5.6h0.86v5.6zM189.32 207.78v-4.3h0.86v4.3zM190.06 207.78v-3.85h0.86v3.85zM190.8 207.78v-4.93h0.86v4.93zM191.54 207.78v-6.48h0.86v6.48zM192.29 207.78v-2.1h0.86v2.1zM193.03 207.78v-2.17h0.86v2.17zM193.77 207.78v-2.59h0.86v2.59zM194.51 207.78v-5.24h0.86v5.24zM195.25 207.78v-4.06h0.86v4.06zM195.99 207.78v-4.58h0.86v4.58zM196.73 207.78v-4.62h0.86v4.62zM197.47 207.78v-5.72h0.86v5.72zM198.21 207.78v-4.55h0.86v4.55zM198.95 207.78v-4.21h0.86v4.21zM199.69 207.78v-2.56h0.86v2.56zM200.43 207.78v-5.46h0.86v5.46zM201.18 207.78v-2.25h0.86v2.25zM201.92 207.78v-2.2h0.86v2.2zM203.4 207.78v-5.97h0.86v5.97zM204.14 207.78v-4.15h0.86v4.15zM204.88 207.78v-4.57h0.86v4.57zM205.62 207.78v-5.25h0.86v5.25zM206.36 207.78v-4.74h0.86v4.74zM207.84 207.78v-4.14h0.86v4.14zM208.58 207.78v-4.58h0.86v4.58zM209.32 207.78v-5.12h0.86v5.12zM210.07 207.78v-4.2h0.86v4.2zM210.81 207.78v-4.4h0.86v4.4zM211.55 207.78v-3.98h0.86v3.98zM212.29 207.78v-3.47h0.86v3.47zM215.99 207.78v-1.87h0.86v1.87zM216.73 207.78v-1.11h0.86v1.11zM46.34 213.81v-1.3h0.86v1.3zM54.49 213.81v-1.01h0.86v1.01zM67.83 213.81v-1.41h0.86v1.41zM89.31 213.81v-2.49h0.86v2.49zM90.79 213.81v-6.05h0.86v6.05zM91.53 213.81v-4.59h0.86v4.59zM92.27 213.81v-4.04h0.86v4.04zM93.01 213.81v-4.82h0.86v4.82zM93.75 213.81v-5.27h0.86v5.27zM94.5 213.81v-4.4h0.86v4.4zM95.24 213.81v-4.05h0.86v4.05zM95.98 213.81v-4.26h0.86v4.26zM96.72 213.81v-5.19h0.86v5.19zM97.46 213.81v-4.77h0.86v4.77zM98.2 213.81v-3.58h0.86v3.58zM98.94 213.81v-4.68h0.86v4.68zM99.68 213.81v-5.6h0.86v5.6zM100.42 213.81v-4.3h0.86v4.3zM101.16 213.81v-3.85h0.86v3.85zM101.9 213.81v-4.93h0.86v4.93zM102.64 213.81v-6.48h0.86v6.48zM103.39 213.81v-2.1h0.86v2.1zM104.13 213.81v-2.17h0.86v2.17zM104.87 213.81v-2.59h0.86v2.59zM105.61 213.81v-5.24h0.86v5.24zM106.35 213.81v-4.06h0.86v4.06zM107.09 213.81v-4.58h0.86v4.58zM107.83 213.81v-4.62h0.86v4.62zM108.57 213.81v-5.72h0.86v5.72zM109.31 213.81v-4.55h0.86v4.55zM110.05 213.81v-4.21h0.86v4.21zM110.79 213.81v-2.56h0.86v2.56zM111.53 213.81v-5.46h0.86v5.46zM112.28 213.81v-2.25h0.86v2.25zM113.02 213.81v-2.2h0.86v2.2zM114.5 213.81v-5.97h0.86v5.97zM115.24 213.81v-4.15h0.86v4.15zM115.98 213.81v-4.57h0.86v4.57zM116.72 213.81v-5.25h0.86v5.25zM117.46 213.81v-4.74h0.86v4.74zM118.94 213.81v-4.14h0.86v4.14zM119.68 213.81v-4.58h0.86v4.58zM120.42 213.81v-5.12h0.86v5.12zM121.17 213.81v-4.2h0.86v4.2zM121.91 213.81v-4.4h0.86v4.4zM122.65 213.81v-3.98h0.86v3.98zM123.39 213.81v-3.47h0.86v3.47zM127.09 213.81v-1.87h0.86v1.87zM127.83 213.81v-1.11h0.86v1.11zM139.69 213.81v-1.8h0.86v1.8zM160.43 213.81v-1.32h0.86v1.32zM164.87 213.81v-1.68h0.86v1.68zM178.21 213.81v-2.25h0.86v2.25zM178.95 213.81v-3.89h0.86v3.89zM179.69 213.81v-5.62h0.86v5.62zM180.43 213.81v-5.12h0.86v5.12zM181.17 213.81v-4.06h0.86v4.06zM181.91 213.81v-4.96h0.86v4.96zM182.65 213.81v-6.5h0.86v6.5zM183.4 213.81v-5.22h0.86v5.22zM184.14 213.81v-3.81h0.86v3.81zM184.88 213.81v-4.38h0.86v4.38zM185.62 213.81v-5.49h0.86v5.49zM186.36 213.81v-4.8h0.86v4.8zM187.1 213.81v-4.15h0.86v4.15zM187.84 213.81v-4.82h0.86v4.82zM188.58 213.81v-6.26h0.86v6.26zM189.32 213.81v-5.03h0.86v5.03zM190.06 213.81v-3.85h0.86v3.85zM190.8 213.81v-5.05h0.86v5.05zM191.54 213.81v-4.83h0.86v4.83zM193.03 213.81v-3.8h0.86v3.8zM193.77 213.81v-4.72h0.86v4.72zM194.51 213.81v-5.12h0.86v5.12zM195.25 213.81v-4.47h0.86v4.47zM195.99 213.81v-3.96h0.86v3.96zM197.47 213.81v-5.51h0.86v5.51zM198.21 213.81v-4.98h0.86v4.98zM198.95 213.81v-4.55h0.86v4.55zM199.69 213.81v-5.28h0.86v5.28zM200.43 213.81v-4.77h0.86v4.77zM201.18 213.81v-5.22h0.86v5.22zM201.92 213.81v-2.28h0.86v2.28zM202.66 213.81v-5.45h0.86v5.45zM203.4 213.81v-5.44h0.86v5.44zM204.14 213.81v-4.84h0.86v4.84zM204.88 213.81v-3.58h0.86v3.58zM205.62 213.81v-4.25h0.86v4.25zM207.84 213.81v-3.07h0.86v3.07zM208.58 213.81v-2.46h0.86v2.46zM216.73 213.81v-1.21h0.86v1.21zM217.47 213.81v-1.8h0.86v1.8zM218.21 213.81v-3.94h0.86v3.94zM218.96 213.81v-2h0.86v2zM219.7 213.81v-2.11h0.86v2.11zM50.79 219.84v-1.8h0.86v1.8zM71.53 219.84v-1.32h0.86v1.32zM75.97 219.84v-1.68h0.86v1.68zM89.31 219.84v-2.25h0.86v2.25zM90.05 219.84v-3.89h0.86v3.89zM90.79 219.84v-5.62h0.86v5.62zM91.53 219.84v-5.12h0.86v5.12zM92.27 219.84v-4.06h0.86v4.06zM93.01 219.84v-4.96h0.86v4.96zM93.75 219.84v-6.5h0.86v6.5zM94.5 219.84v-5.22h0.86v5.22zM95.24 219.84v-3.81h0.86v3.81zM95.98 219.84v-4.38h0.86v4.38zM96.72 219.84v-5.49h0.86v5.49zM97.46 219.84v-4.8h0.86v4.8zM98.2 219.84v-4.15h0.86v4.15zM98.94 219.84v-4.82h0.86v4.82zM99.68 219.84v-6.26h0.86v6.26zM100.42 219.84v-5.03h0.86v5.03zM101.16 219.84v-3.85h0.86v3.85zM101.9 219.84v-5.05h0.86v5.05zM102.64 219.84v-4.83h0.86v4.83zM104.13 219.84v-3.8h0.86v3.8zM104.87 219.84v-4.72h0.86v4.72zM105.61 219.84v-5.12h0.86v5.12zM106.35 219.84v-4.47h0.86v4.47zM107.09 219.84v-3.96h0.86v3.96zM108.57 219.84v-5.51h0.86v5.51zM109.31 219.84v-4.98h0.86v4.98zM110.05 219.84v-4.55h0.86v4.55zM110.79 219.84v-5.28h0.86v5.28zM111.53 219.84v-4.77h0.86v4.77zM112.28 219.84v-5.22h0.86v5.22zM113.02 219.84v-2.28h0.86v2.28zM113.76 219.84v-5.45h0.86v5.45zM114.5 219.84v-5.44h0.86v5.44zM115.24 219.84v-4.84h0.86v4.84zM115.98 219.84v-3.58h0.86v3.58zM116.72 219.84v-4.25h0.86v4.25zM118.94 219.84v-3.07h0.86v3.07zM119.68 219.84v-2.46h0.86v2.46zM127.83 219.84v-1.21h0.86v1.21zM128.57 219.84v-1.8h0.86v1.8zM129.31 219.84v-3.94h0.86v3.94zM130.06 219.84v-2h0.86v2zM130.8 219.84v-2.11h0.86v2.11zM135.24 219.84v-1.22h0.86v1.22zM161.91 219.84v-1.24h0.86v1.24zM162.65 219.84v-1.13h0.86v1.13zM167.1 219.84v-1.04h0.86v1.04zM167.84 219.84v-1.39h0.86v1.39zM172.28 219.84v-1.69h0.86v1.69zM173.02 219.84v-1.4h0.86v1.4zM180.43 219.84v-2.29h0.86v2.29zM181.17 219.84v-3.51h0.86v3.51zM181.91 219.84v-5.51h0.86v5.51zM182.65 219.84v-4.23h0.86v4.23zM183.4 219.84v-3.78h0.86v3.78zM184.14 219.84v-2.68h0.86v2.68zM184.88 219.84v-5.44h0.86v5.44zM185.62 219.84v-2.13h0.86v2.13zM186.36 219.84v-3.45h0.86v3.45zM187.1 219.84v-4.68h0.86v4.68zM187.84 219.84v-5.87h0.86v5.87zM188.58 219.84v-4.53h0.86v4.53zM189.32 219.84v-3.86h0.86v3.86zM190.06 219.84v-4.06h0.86v4.06zM191.54 219.84v-4.79h0.86v4.79zM193.03 219.84v-4.8h0.86v4.8zM193.77 219.84v-2.76h0.86v2.76zM195.25 219.84v-4.49h0.86v4.49zM195.99 219.84v-5.36h0.86v5.36zM196.73 219.84v-5.37h0.86v5.37zM197.47 219.84v-4.74h0.86v4.74zM198.21 219.84v-3.82h0.86v3.82zM198.95 219.84v-4.49h0.86v4.49zM200.43 219.84v-5.37h0.86v5.37zM201.18 219.84v-3.81h0.86v3.81zM201.92 219.84v-2.58h0.86v2.58zM202.66 219.84v-5.68h0.86v5.68zM203.4 219.84v-4.94h0.86v4.94zM204.14 219.84v-3.69h0.86v3.69zM204.88 219.84v-4.93h0.86v4.93zM205.62 219.84v-5.95h0.86v5.95zM206.36 219.84v-4.3h0.86v4.3zM207.1 219.84v-2.05h0.86v2.05zM207.84 219.84v-4.51h0.86v4.51zM208.58 219.84v-4.79h0.86v4.79zM209.32 219.84v-2.86h0.86v2.86zM213.03 219.84v-1.36h0.86v1.36zM46.34 225.87v-1.22h0.86v1.22zM73.01 225.87v-1.24h0.86v1.24zM73.75 225.87v-1.13h0.86v1.13zM78.2 225.87v-1.04h0.86v1.04zM78.94 225.87v-1.39h0.86v1.39zM83.38 225.87v-1.69h0.86v1.69zM84.12 225.87v-1.4h0.86v1.4zM91.53 225.87v-2.29h0.86v2.29zM92.27 225.87v-3.51h0.86v3.51zM93.01 225.87v-5.51h0.86v5.51zM93.75 225.87v-4.23h0.86v4.23zM94.5 225.87v-3.78h0.86v3.78zM95.24 225.87v-2.68h0.86v2.68zM95.98 225.87v-5.44h0.86v5.44zM96.72 225.87v-2.13h0.86v2.13zM97.46 225.87v-3.45h0.86v3.45zM98.2 225.87v-4.68h0.86v4.68zM98.94 225.87v-5.87h0.86v5.87zM99.68 225.87v-4.53h0.86v4.53zM100.42 225.87v-3.86h0.86v3.86zM101.16 225.87v-4.06h0.86v4.06zM102.64 225.87v-4.79h0.86v4.79zM104.13 225.87v-4.8h0.86v4.8zM104.87 225.87v-2.76h0.86v2.76zM106.35 225.87v-4.49h0.86v4.49zM107.09 225.87v-5.36h0.86v5.36zM107.83 225.87v-5.37h0.86v5.37zM108.57 225.87v-4.74h0.86v4.74zM109.31 225.87v-3.82h0.86v3.82zM110.05 225.87v-4.49h0.86v4.49zM111.53 225.87v-5.37h0.86v5.37zM112.28 225.87v-3.81h0.86v3.81zM113.02 225.87v-2.58h0.86v2.58zM113.76 225.87v-5.68h0.86v5.68zM114.5 225.87v-4.94h0.86v4.94zM115.24 225.87v-3.69h0.86v3.69zM115.98 225.87v-4.93h0.86v4.93zM116.72 225.87v-5.95h0.86v5.95zM117.46 225.87v-4.3h0.86v4.3zM118.2 225.87v-2.05h0.86v2.05zM118.94 225.87v-4.51h0.86v4.51zM119.68 225.87v-4.79h0.86v4.79zM120.42 225.87v-2.86h0.86v2.86zM124.13 225.87v-1.36h0.86v1.36zM137.46 225.87v-1.48h0.86v1.48zM138.2 225.87v-1.39h0.86v1.39zM146.35 225.87v-1.45h0.86v1.45zM147.09 225.87v-1.31h0.86v1.31zM163.39 225.87v-1.09h0.86v1.09zM164.13 225.87v-1.13h0.86v1.13zM174.5 225.87v-2.21h0.86v2.21zM175.25 225.87v-3.64h0.86v3.64zM175.99 225.87v-5.87h0.86v5.87zM176.73 225.87v-4.1h0.86v4.1zM177.47 225.87v-3.5h0.86v3.5zM178.21 225.87v-4.72h0.86v4.72zM178.95 225.87v-4.73h0.86v4.73zM179.69 225.87v-4.26h0.86v4.26zM180.43 225.87v-4.39h0.86v4.39zM181.91 225.87v-5.22h0.86v5.22zM182.65 225.87v-5.05h0.86v5.05zM184.14 225.87v-4.22h0.86v4.22zM184.88 225.87v-5.07h0.86v5.07zM185.62 225.87v-4.8h0.86v4.8zM186.36 225.87v-3.78h0.86v3.78zM187.1 225.87v-4.47h0.86v4.47zM187.84 225.87v-4.99h0.86v4.99zM188.58 225.87v-4.23h0.86v4.23zM189.32 225.87v-3.38h0.86v3.38zM190.06 225.87v-5.25h0.86v5.25zM190.8 225.87v-5.31h0.86v5.31zM191.54 225.87v-5.25h0.86v5.25zM192.29 225.87v-4.12h0.86v4.12zM193.03 225.87v-4.51h0.86v4.51zM193.77 225.87v-5.16h0.86v5.16zM194.51 225.87v-4.8h0.86v4.8zM195.25 225.87v-1.89h0.86v1.89zM195.99 225.87v-4.07h0.86v4.07zM196.73 225.87v-4.98h0.86v4.98zM197.47 225.87v-5.26h0.86v5.26zM198.21 225.87v-4.14h0.86v4.14zM198.95 225.87v-4.14h0.86v4.14zM199.69 225.87v-3.01h0.86v3.01zM200.43 225.87v-4.5h0.86v4.5zM201.18 225.87v-4.22h0.86v4.22zM201.92 225.87v-4.61h0.86v4.61zM202.66 225.87v-5.68h0.86v5.68zM203.4 225.87v-4.25h0.86v4.25zM204.14 225.87v-4.49h0.86v4.49zM204.88 225.87v-4.3h0.86v4.3zM205.62 225.87v-5.82h0.86v5.82zM207.1 225.87v-3.23h0.86v3.23zM207.84 225.87v-2.81h0.86v2.81zM208.58 225.87v-0.88h0.86v0.88zM209.32 225.87v-1.11h0.86v1.11zM210.07 225.87v-2.62h0.86v2.62zM215.99 225.87v-1.46h0.86v1.46zM216.73 225.87v-1.44h0.86v1.44zM217.47 225.87v-1.67h0.86v1.67zM218.21 225.87v-1.63h0.86v1.63zM218.96 225.87v-1.68h0.86v1.68zM48.56 231.9v-1.48h0.86v1.48zM49.3 231.9v-1.39h0.86v1.39zM57.45 231.9v-1.45h0.86v1.45zM58.19 231.9v-1.31h0.86v1.31zM74.49 231.9v-1.09h0.86v1.09zM75.23 231.9v-1.13h0.86v1.13zM85.61 231.9v-2.21h0.86v2.21zM86.35 231.9v-3.64h0.86v3.64zM87.09 231.9v-5.87h0.86v5.87zM87.83 231.9v-4.1h0.86v4.1zM88.57 231.9v-3.5h0.86v3.5zM89.31 231.9v-4.72h0.86v4.72zM90.05 231.9v-4.73h0.86v4.73zM90.79 231.9v-4.26h0.86v4.26zM91.53 231.9v-4.39h0.86v4.39zM93.01 231.9v-5.22h0.86v5.22zM93.75 231.9v-5.05h0.86v5.05zM95.24 231.9v-4.22h0.86v4.22zM95.98 231.9v-5.07h0.86v5.07zM96.72 231.9v-4.8h0.86v4.8zM97.46 231.9v-3.78h0.86v3.78zM98.2 231.9v-4.47h0.86v4.47zM98.94 231.9v-4.99h0.86v4.99zM99.68 231.9v-4.23h0.86v4.23zM100.42 231.9v-3.38h0.86v3.38zM101.16 231.9v-5.25h0.86v5.25zM101.9 231.9v-5.31h0.86v5.31zM102.64 231.9v-5.25h0.86v5.25zM103.39 231.9v-4.12h0.86v4.12zM104.13 231.9v-4.51h0.86v4.51zM104.87 231.9v-5.16h0.86v5.16zM105.61 231.9v-4.8h0.86v4.8zM106.35 231.9v-1.89h0.86v1.89zM107.09 231.9v-4.07h0.86v4.07zM107.83 231.9v-4.98h0.86v4.98zM108.57 231.9v-5.26h0.86v5.26zM109.31 231.9v-4.14h0.86v4.14zM110.05 231.9v-4.14h0.86v4.14zM110.79 231.9v-3.01h0.86v3.01zM111.53 231.9v-4.5h0.86v4.5zM112.28 231.9v-4.22h0.86v4.22zM113.02 231.9v-4.61h0.86v4.61zM113.76 231.9v-5.68h0.86v5.68zM114.5 231.9v-4.25h0.86v4.25zM115.24 231.9v-4.49h0.86v4.49zM115.98 231.9v-4.3h0.86v4.3zM116.72 231.9v-5.82h0.86v5.82zM118.2 231.9v-3.23h0.86v3.23zM118.94 231.9v-2.81h0.86v2.81zM119.68 231.9v-0.88h0.86v0.88zM120.42 231.9v-1.11h0.86v1.11zM121.17 231.9v-2.62h0.86v2.62zM127.09 231.9v-1.46h0.86v1.46zM127.83 231.9v-1.44h0.86v1.44zM128.57 231.9v-1.67h0.86v1.67zM129.31 231.9v-1.63h0.86v1.63zM130.06 231.9v-1.68h0.86v1.68zM135.24 231.9v-1.76h0.86v1.76zM135.98 231.9v-1.05h0.86v1.05zM144.13 231.9v-1.49h0.86v1.49zM144.87 231.9v-1.28h0.86v1.28zM164.87 231.9v-1.13h0.86v1.13zM176.73 231.9v-1.26h0.86v1.26zM177.47 231.9v-3.94h0.86v3.94zM178.95 231.9v-4.33h0.86v4.33zM179.69 231.9v-3.39h0.86v3.39zM180.43 231.9v-4.06h0.86v4.06zM181.17 231.9v-6.15h0.86v6.15zM181.91 231.9v-5.26h0.86v5.26zM182.65 231.9v-4.3h0.86v4.3zM183.4 231.9v-5.32h0.86v5.32zM184.14 231.9v-6.12h0.86v6.12zM185.62 231.9v-3.57h0.86v3.57zM186.36 231.9v-4.81h0.86v4.81zM187.84 231.9v-5.43h0.86v5.43zM188.58 231.9v-4.07h0.86v4.07zM189.32 231.9v-5.37h0.86v5.37zM190.06 231.9v-5.67h0.86v5.67zM190.8 231.9v-4.25h0.86v4.25zM191.54 231.9v-4.12h0.86v4.12zM192.29 231.9v-4.25h0.86v4.25zM193.77 231.9v-5.27h0.86v5.27zM194.51 231.9v-4.46h0.86v4.46zM195.25 231.9v-4.64h0.86v4.64zM195.99 231.9v-5.13h0.86v5.13zM196.73 231.9v-4.74h0.86v4.74zM198.95 231.9v-6.04h0.86v6.04zM199.69 231.9v-5.48h0.86v5.48zM200.43 231.9v-3.92h0.86v3.92zM201.18 231.9v-5.08h0.86v5.08zM201.92 231.9v-4.73h0.86v4.73zM202.66 231.9v-4.85h0.86v4.85zM203.4 231.9v-2.08h0.86v2.08zM204.14 231.9v-4.18h0.86v4.18zM204.88 231.9v-6.44h0.86v6.44zM205.62 231.9v-4.47h0.86v4.47zM206.36 231.9v-4.54h0.86v4.54zM207.1 231.9v-4.51h0.86v4.51zM207.84 231.9v-5h0.86v5zM208.58 231.9v-4.14h0.86v4.14zM210.07 231.9v-5.17h0.86v5.17zM210.81 231.9v-4.99h0.86v4.99zM211.55 231.9v-5.37h0.86v5.37zM212.29 231.9v-3.69h0.86v3.69zM213.03 231.9v-5.38h0.86v5.38zM213.77 231.9v-5.55h0.86v5.55zM214.51 231.9v-4.56h0.86v4.56zM215.25 231.9v-3.69h0.86v3.69zM215.99 231.9v-3.7h0.86v3.7zM216.73 231.9v-3.57h0.86v3.57zM46.34 237.93v-1.76h0.86v1.76zM47.08 237.93v-1.05h0.86v1.05zM55.23 237.93v-1.49h0.86v1.49zM55.97 237.93v-1.28h0.86v1.28zM75.97 237.93v-1.13h0.86v1.13zM87.83 237.93v-1.26h0.86v1.26zM88.57 237.93v-3.94h0.86v3.94zM90.05 237.93v-4.33h0.86v4.33zM90.79 237.93v-3.39h0.86v3.39zM91.53 237.93v-4.06h0.86v4.06zM92.27 237.93v-6.15h0.86v6.15zM93.01 237.93v-5.26h0.86v5.26zM93.75 237.93v-4.3h0.86v4.3zM94.5 237.93v-5.32h0.86v5.32zM95.24 237.93v-6.12h0.86v6.12zM96.72 237.93v-3.57h0.86v3.57zM97.46 237.93v-4.81h0.86v4.81zM98.94 237.93v-5.43h0.86v5.43zM99.68 237.93v-4.07h0.86v4.07zM100.42 237.93v-5.37h0.86v5.37zM101.16 237.93v-5.67h0.86v5.67zM101.9 237.93v-4.25h0.86v4.25zM102.64 237.93v-4.12h0.86v4.12zM103.39 237.93v-4.25h0.86v4.25zM104.87 237.93v-5.27h0.86v5.27zM105.61 237.93v-4.46h0.86v4.46zM106.35 237.93v-4.64h0.86v4.64zM107.09 237.93v-5.13h0.86v5.13zM107.83 237.93v-4.74h0.86v4.74zM110.05 237.93v-6.04h0.86v6.04zM110.79 237.93v-5.48h0.86v5.48zM111.53 237.93v-3.92h0.86v3.92zM112.28 237.93v-5.08h0.86v5.08zM113.02 237.93v-4.73h0.86v4.73zM113.76 237.93v-4.85h0.86v4.85zM114.5 237.93v-2.08h0.86v2.08zM115.24 237.93v-4.18h0.86v4.18zM115.98 237.93v-6.44h0.86v6.44zM116.72 237.93v-4.47h0.86v4.47zM117.46 237.93v-4.54h0.86v4.54zM118.2 237.93v-4.51h0.86v4.51zM118.94 237.93v-5h0.86v5zM119.68 237.93v-4.14h0.86v4.14zM121.17 237.93v-5.17h0.86v5.17zM121.91 237.93v-4.99h0.86v4.99zM122.65 237.93v-5.37h0.86v5.37zM123.39 237.93v-3.69h0.86v3.69zM124.13 237.93v-5.38h0.86v5.38zM124.87 237.93v-5.55h0.86v5.55zM125.61 237.93v-4.56h0.86v4.56zM126.35 237.93v-3.69h0.86v3.69zM127.09 237.93v-3.7h0.86v3.7zM127.83 237.93v-3.57h0.86v3.57zM174.5 237.93v-2.07h0.86v2.07zM175.25 237.93v-2.16h0.86v2.16zM175.99 237.93v-5.05h0.86v5.05zM176.73 237.93v-2.18h0.86v2.18zM177.47 237.93v-3.97h0.86v3.97zM178.21 237.93v-4.73h0.86v4.73zM178.95 237.93v-5.94h0.86v5.94zM179.69 237.93v-5.5h0.86v5.5zM181.17 237.93v-4.47h0.86v4.47zM181.91 237.93v-6.43h0.86v6.43zM182.65 237.93v-4.22h0.86v4.22zM183.4 237.93v-3.87h0.86v3.87zM184.14 237.93v-5.5h0.86v5.5zM184.88 237.93v-5.96h0.86v5.96zM185.62 237.93v-5.4h0.86v5.4zM186.36 237.93v-4.29h0.86v4.29zM187.1 237.93v-5.12h0.86v5.12zM187.84 237.93v-5.4h0.86v5.4zM188.58 237.93v-4.97h0.86v4.97zM189.32 237.93v-4.08h0.86v4.08zM190.06 237.93v-4.77h0.86v4.77zM190.8 237.93v-5.39h0.86v5.39zM192.29 237.93v-1.87h0.86v1.87zM193.03 237.93v-4.59h0.86v4.59zM193.77 237.93v-5.42h0.86v5.42zM194.51 237.93v-5.07h0.86v5.07zM195.25 237.93v-4.15h0.86v4.15zM195.99 237.93v-2.64h0.86v2.64zM196.73 237.93v-4.7h0.86v4.7zM197.47 237.93v-4.54h0.86v4.54zM198.21 237.93v-4.52h0.86v4.52zM198.95 237.93v-4.82h0.86v4.82zM199.69 237.93v-4.45h0.86v4.45zM200.43 237.93v-2.52h0.86v2.52zM205.62 237.93v-1.92h0.86v1.92zM206.36 237.93v-3.74h0.86v3.74zM207.1 237.93v-5.68h0.86v5.68zM207.84 237.93v-4.29h0.86v4.29zM208.58 237.93v-3.6h0.86v3.6zM209.32 237.93v-3.97h0.86v3.97zM212.29 237.93v-2.38h0.86v2.38zM220.44 237.93v-1.68h0.86v1.68zM85.61 243.96v-2.07h0.86v2.07zM86.35 243.96v-2.16h0.86v2.16zM87.09 243.96v-5.05h0.86v5.05zM87.83 243.96v-2.18h0.86v2.18zM88.57 243.96v-3.97h0.86v3.97zM89.31 243.96v-4.73h0.86v4.73zM90.05 243.96v-5.94h0.86v5.94zM90.79 243.96v-5.5h0.86v5.5zM92.27 243.96v-4.47h0.86v4.47zM93.01 243.96v-6.43h0.86v6.43zM93.75 243.96v-4.22h0.86v4.22zM94.5 243.96v-3.87h0.86v3.87zM95.24 243.96v-5.5h0.86v5.5zM95.98 243.96v-5.96h0.86v5.96zM96.72 243.96v-5.4h0.86v5.4zM97.46 243.96v-4.29h0.86v4.29zM98.2 243.96v-5.12h0.86v5.12zM98.94 243.96v-5.4h0.86v5.4zM99.68 243.96v-4.97h0.86v4.97zM100.42 243.96v-4.08h0.86v4.08zM101.16 243.96v-4.77h0.86v4.77zM101.9 243.96v-5.39h0.86v5.39zM103.39 243.96v-1.87h0.86v1.87zM104.13 243.96v-4.59h0.86v4.59zM104.87 243.96v-5.42h0.86v5.42zM105.61 243.96v-5.07h0.86v5.07zM106.35 243.96v-4.15h0.86v4.15zM107.09 243.96v-2.64h0.86v2.64zM107.83 243.96v-4.7h0.86v4.7zM108.57 243.96v-4.54h0.86v4.54zM109.31 243.96v-4.52h0.86v4.52zM110.05 243.96v-4.82h0.86v4.82zM110.79 243.96v-4.45h0.86v4.45zM111.53 243.96v-2.52h0.86v2.52zM116.72 243.96v-1.92h0.86v1.92zM117.46 243.96v-3.74h0.86v3.74zM118.2 243.96v-5.68h0.86v5.68zM118.94 243.96v-4.29h0.86v4.29zM119.68 243.96v-3.6h0.86v3.6zM120.42 243.96v-3.97h0.86v3.97zM123.39 243.96v-2.38h0.86v2.38zM131.54 243.96v-1.68h0.86v1.68zM135.98 243.96v-1.69h0.86v1.69zM156.73 243.96v-1.39h0.86v1.39zM164.13 243.96v-1.49h0.86v1.49zM174.5 243.96v-3.93h0.86v3.93zM175.25 243.96v-6.3h0.86v6.3zM175.99 243.96v-4.63h0.86v4.63zM176.73 243.96v-3.64h0.86v3.64zM177.47 243.96v-5.36h0.86v5.36zM178.21 243.96v-6.19h0.86v6.19zM179.69 243.96v-3.97h0.86v3.97zM180.43 243.96v-4.48h0.86v4.48zM181.17 243.96v-4.71h0.86v4.71zM181.91 243.96v-5.04h0.86v5.04zM182.65 243.96v-3.85h0.86v3.85zM183.4 243.96v-4.86h0.86v4.86zM184.14 243.96v-5.83h0.86v5.83zM184.88 243.96v-4.94h0.86v4.94zM185.62 243.96v-3.4h0.86v3.4zM186.36 243.96v-4.07h0.86v4.07zM187.1 243.96v-5.11h0.86v5.11zM187.84 243.96v-4.49h0.86v4.49zM188.58 243.96v-3.77h0.86v3.77zM189.32 243.96v-4.3h0.86v4.3zM190.06 243.96v-5.18h0.86v5.18zM190.8 243.96v-5.39h0.86v5.39zM191.54 243.96v-4.53h0.86v4.53zM192.29 243.96v-4.24h0.86v4.24zM193.03 243.96v-5.08h0.86v5.08zM193.77 243.96v-4.49h0.86v4.49zM194.51 243.96v-4.07h0.86v4.07zM195.25 243.96v-2.31h0.86v2.31zM195.99 243.96v-5.18h0.86v5.18zM196.73 243.96v-4.46h0.86v4.46zM198.21 243.96v-4.4h0.86v4.4zM198.95 243.96v-5.26h0.86v5.26zM199.69 243.96v-5.16h0.86v5.16zM200.43 243.96v-3.65h0.86v3.65zM201.18 243.96v-4.57h0.86v4.57zM201.92 243.96v-4.14h0.86v4.14zM202.66 243.96v-2.92h0.86v2.92zM209.32 243.96v-1.97h0.86v1.97zM210.07 243.96v-3.43h0.86v3.43zM217.47 243.96v-0.88h0.86v0.88zM218.21 243.96v-2h0.86v2zM218.96 243.96v-1.62h0.86v1.62zM47.08 249.99v-1.69h0.86v1.69zM67.83 249.99v-1.39h0.86v1.39zM75.23 249.99v-1.49h0.86v1.49zM85.61 249.99v-3.93h0.86v3.93zM86.35 249.99v-6.3h0.86v6.3zM87.09 249.99v-4.63h0.86v4.63zM87.83 249.99v-3.64h0.86v3.64zM88.57 249.99v-5.36h0.86v5.36zM89.31 249.99v-6.19h0.86v6.19zM90.79 249.99v-3.97h0.86v3.97zM91.53 249.99v-4.48h0.86v4.48zM92.27 249.99v-4.71h0.86v4.71zM93.01 249.99v-5.04h0.86v5.04zM93.75 249.99v-3.85h0.86v3.85zM94.5 249.99v-4.86h0.86v4.86zM95.24 249.99v-5.83h0.86v5.83zM95.98 249.99v-4.94h0.86v4.94zM96.72 249.99v-3.4h0.86v3.4zM97.46 249.99v-4.07h0.86v4.07zM98.2 249.99v-5.11h0.86v5.11zM98.94 249.99v-4.49h0.86v4.49zM99.68 249.99v-3.77h0.86v3.77zM100.42 249.99v-4.3h0.86v4.3zM101.16 249.99v-5.18h0.86v5.18zM101.9 249.99v-5.39h0.86v5.39zM102.64 249.99v-4.53h0.86v4.53zM103.39 249.99v-4.24h0.86v4.24zM104.13 249.99v-5.08h0.86v5.08zM104.87 249.99v-4.49h0.86v4.49zM105.61 249.99v-4.07h0.86v4.07zM106.35 249.99v-2.31h0.86v2.31zM107.09 249.99v-5.18h0.86v5.18zM107.83 249.99v-4.46h0.86v4.46zM109.31 249.99v-4.4h0.86v4.4zM110.05 249.99v-5.26h0.86v5.26zM110.79 249.99v-5.16h0.86v5.16zM111.53 249.99v-3.65h0.86v3.65zM112.28 249.99v-4.57h0.86v4.57zM113.02 249.99v-4.14h0.86v4.14zM113.76 249.99v-2.92h0.86v2.92zM120.42 249.99v-1.97h0.86v1.97zM121.17 249.99v-3.43h0.86v3.43zM128.57 249.99v-0.88h0.86v0.88zM129.31 249.99v-2h0.86v2zM130.06 249.99v-1.62h0.86v1.62zM173.76 249.99v-2.32h0.86v2.32zM175.25 249.99v-4.55h0.86v4.55zM175.99 249.99v-4.38h0.86v4.38zM176.73 249.99v-3.74h0.86v3.74zM177.47 249.99v-4.02h0.86v4.02zM178.21 249.99v-4.75h0.86v4.75zM178.95 249.99v-4.36h0.86v4.36zM179.69 249.99v-3.92h0.86v3.92zM180.43 249.99v-4.68h0.86v4.68zM181.17 249.99v-5.11h0.86v5.11zM181.91 249.99v-4.32h0.86v4.32zM182.65 249.99v-3.3h0.86v3.3zM183.4 249.99v-4.84h0.86v4.84zM184.14 249.99v-4.96h0.86v4.96zM184.88 249.99v-4.08h0.86v4.08zM185.62 249.99v-2.02h0.86v2.02zM186.36 249.99v-4.38h0.86v4.38zM187.1 249.99v-2.47h0.86v2.47zM187.84 249.99v-4.49h0.86v4.49zM188.58 249.99v-1.99h0.86v1.99zM189.32 249.99v-4.38h0.86v4.38zM190.8 249.99v-4.75h0.86v4.75zM191.54 249.99v-3.35h0.86v3.35zM193.03 249.99v-5.23h0.86v5.23zM193.77 249.99v-4.14h0.86v4.14zM194.51 249.99v-3.22h0.86v3.22zM195.25 249.99v-3.69h0.86v3.69zM196.73 249.99v-4.61h0.86v4.61zM197.47 249.99v-3.26h0.86v3.26zM198.21 249.99v-4.99h0.86v4.99zM198.95 249.99v-4.53h0.86v4.53zM199.69 249.99v-3.75h0.86v3.75zM200.43 249.99v-3.99h0.86v3.99zM201.18 249.99v-3.83h0.86v3.83zM201.92 249.99v-3.95h0.86v3.95zM202.66 249.99v-2.38h0.86v2.38zM208.58 249.99v-1.34h0.86v1.34zM210.07 249.99v-1.93h0.86v1.93zM210.81 249.99v-2.57h0.86v2.57zM212.29 249.99v-1.81h0.86v1.81zM217.47 249.99v-0.77h0.86v0.77zM218.21 249.99v-1.39h0.86v1.39zM218.96 249.99v-1.35h0.86v1.35z" fill="#1f1f9c"/>
<rect x="45.6" y="165.3" width="177.8" height="84.7" fill="none" stroke="#333" stroke-width="1.2"/>
<text font-size="6.4" text-anchor="end" fill="#222" x="38.5" y="171.6">1-2</text>
<path d="M43 169.3h2.2" stroke="#555" stroke-width="0.7"/>
<text font-size="6.4" text-anchor="end" fill="#222" x="38.5" y="183.65">3-4</text>
<path d="M43 181.35h2.2" stroke="#555" stroke-width="0.7"/>
<text font-size="6.4" text-anchor="end" fill="#222" x="38.5" y="195.7">5-6</text>
<path d="M43 193.4h2.2" stroke="#555" stroke-width="0.7"/>
<text font-size="6.4" text-anchor="end" fill="#222" x="38.5" y="207.75">7-8</text>
<path d="M43 205.45h2.2" stroke="#555" stroke-width="0.7"/>
<text font-size="6.4" text-anchor="end" fill="#222" x="38.5" y="219.8">9-10</text>
<path d="M43 217.5h2.2" stroke="#555" stroke-width="0.7"/>
<text font-size="6.4" text-anchor="end" fill="#222" x="38.5" y="231.85">11-12</text>
<path d="M43 229.55h2.2" stroke="#555" stroke-width="0.7"/>
<text font-size="6.4" text-anchor="end" fill="#222" x="38.5" y="243.9">13-14</text>
<path d="M43 241.6h2.2" stroke="#555" stroke-width="0.7"/>
<rect x="45.3" y="254" width="177.5" height="2.2" fill="#000"/>
<text font-size="13" font-weight="bold" text-anchor="middle" textLength="72" lengthAdjust="spacingAndGlyphs" x="135" y="272.3">Time of Day</text>
<text transform="translate(10.8,140.6) rotate(-90)" font-size="14" font-weight="bold" text-anchor="middle" textLength="159.5" lengthAdjust="spacingAndGlyphs">Observation interval (days)</text>
</g>
<g id="panel_b">
<text font-size="16.5" font-weight="bold" x="264.6" y="11.2">b</text>
<text font-size="12.1" font-weight="bold" text-anchor="middle" textLength="30.8" lengthAdjust="spacingAndGlyphs" x="348.9" y="29.7">EGFP</text>
<text font-size="12.1" font-weight="bold" text-anchor="middle" textLength="62" lengthAdjust="spacingAndGlyphs" x="487" y="29.7">tdTomato</text>
<text transform="translate(274.4,148) rotate(-90)" font-size="11.2" stroke="#000" stroke-width="0.28" lengthAdjust="spacingAndGlyphs" textLength="94.8">Bmal1 iKO × ROSA</text>
<text transform="translate(269.5,52.7) rotate(-90)" font-size="7.4" stroke="#000" stroke-width="0.2" lengthAdjust="spacingAndGlyphs" textLength="24.4">mt/mg</text>
<text transform="translate(274.4,237.9) rotate(-90)" font-size="11.2" stroke="#000" stroke-width="0.28" lengthAdjust="spacingAndGlyphs" textLength="55.1">wt × ROSA</text>
<text transform="translate(269.4,181.4) rotate(-90)" font-size="7.4" stroke="#000" stroke-width="0.2" lengthAdjust="spacingAndGlyphs" textLength="23.5">mt/mg</text>
<defs>
<filter id="bl1" x="-5%" y="-5%" width="110%" height="110%"><feGaussianBlur stdDeviation="0.55"/></filter>
<filter id="bl2" x="-5%" y="-5%" width="110%" height="110%"><feGaussianBlur stdDeviation="1.6"/></filter>
<filter id="bl3" x="-5%" y="-5%" width="110%" height="110%"><feGaussianBlur stdDeviation="0.9"/></filter>
<linearGradient id="gbg" x1="0" y1="0" x2="0" y2="1"><stop offset="0" stop-color="#0a1e0c"/><stop offset="0.45" stop-color="#051207"/><stop offset="1" stop-color="#030c04"/></linearGradient>
<clipPath id="cimg"><rect x="0" y="0" width="135.2" height="104.8"/></clipPath>
</defs>
<g transform="translate(281.4,37.2)" clip-path="url(#cimg)">
<rect width="135.2" height="104.8" fill="#1f3023"/>
<g filter="url(#bl2)" fill="none" stroke="#38ea3c" stroke-linecap="round" opacity="0.42">
<path d="M-2 17C-1.67 16.83 -1.93 17 0 16C1.93 15 5.95 12.33 9.6 11C13.25 9.67 17.13 8.67 21.9 8C26.67 7.33 32.75 7.28 38.2 7C43.65 6.72 50.8 6.53 54.6 6.3C58.4 6.07 59.3 5.83 61 5.6C62.7 5.37 63.48 4.5 64.8 4.9C66.12 5.3 67.37 6.65 68.9 8C70.43 9.35 71.97 11.57 74 13C76.03 14.43 78.55 15.8 81.1 16.6C83.65 17.4 86.57 17.95 89.3 17.8C92.03 17.65 94.77 15.8 97.5 15.7C100.23 15.6 102.63 16.1 105.7 17.2C108.77 18.3 112.5 20.43 115.9 22.3C119.3 24.17 123.2 26.18 126.1 28.4C129 30.62 131.65 33.5 133.3 35.6C134.95 37.7 135.55 40.1 136 41" stroke-width="2.6"/><path d="M133.9 41.7C133.62 42.88 133.17 45.92 132.2 48.8C131.23 51.68 129.63 55.75 128.1 59C126.57 62.25 124.87 65.57 123 68.3C121.13 71.03 118.93 73.7 116.9 75.4C114.87 77.1 112.67 78.33 110.8 78.5C108.93 78.67 107.58 77.77 105.7 76.4C103.82 75.03 101.55 72.5 99.5 70.3C97.45 68.1 95.1 65.42 93.4 63.2C91.7 60.98 90.32 59.4 89.3 57C88.28 54.6 87.98 50.67 87.3 48.8C86.62 46.93 86.23 46.13 85.2 45.8C84.17 45.47 83.13 46.12 81.1 46.8C79.07 47.48 76.07 48.7 73 49.9C69.93 51.1 66.12 52.3 62.7 54C59.28 55.7 55.9 58.07 52.5 60.1C49.1 62.13 45.7 64.33 42.3 66.2C38.9 68.07 35.5 69.6 32.1 71.3C28.7 73 24.97 74.52 21.9 76.4C18.83 78.28 16.08 80.38 13.7 82.6C11.32 84.82 9.47 86.82 7.6 89.7C5.73 92.58 3.93 97.18 2.5 99.9C1.07 102.62 -0.42 104.98 -1 106" stroke-width="3"/>
<path d="M8.93 88.81C9.63 88.94 9.68 88.58 9.5 88.05M8.93 88.81C9.07 90.58 9.45 92.26 10.63 93.73M9.5 88.05C11.44 89.45 13.64 89.58 15.98 89.33M10.63 93.73C12.08 94.09 13.54 94.61 15.03 93.67M24.74 93.06C24.5 95.07 24.72 97.16 23.61 99.06M23.61 99.06C23.12 98.51 23.07 99.94 22.54 99.3M22.54 99.3C21.29 97.52 18.97 97.39 17.4 96M21.83 103.47C23.74 103.16 25.65 102.65 27.61 103.53M20.47 102.16C20.39 100.66 20.88 99.58 22.54 99.3M20.47 102.16C20.16 103.39 20.81 103.6 21.83 103.47M25.66 100.27C24.47 100.74 23.88 100.19 23.61 99.06M5.98 96.09C7.53 96.18 8.64 95.06 10.04 94.6M34.82 103.54C35.77 103.33 36.83 104.36 37.72 103.27M37.72 103.27C38.35 104.17 39.72 104.46 39.82 105.83M45.56 105.28C44.44 105.07 43.64 103.86 42.3 104.24M51.71 104.86C49.57 104.12 48.98 101.89 47.47 100.46M51.71 104.86C52.5 104.72 52.67 103.3 53.81 103.83M53.81 103.83C55 104.08 56.19 104.34 57.16 105.2M61.94 105.6C61.49 104.59 60.19 105.16 59.61 104.33M59.61 104.33C59.11 105.47 57.98 104.86 57.16 105.2M32.14 101.04C33.35 100.2 32.93 99 32.85 97.85M28.98 96.92C29.61 96.85 30.24 96.8 30.9 96.94M17.4 96C17.56 98.15 15.47 99.3 15.05 101.25M15.21 102.23C13.22 103.28 11.22 104.3 8.79 103.95M3.09 99.59C3.15 98.06 4.39 97.62 5.48 96.99M3.45 102.78C4.15 103.04 5.22 102.62 5.44 103.83M5.44 103.83C6.22 103.34 7.13 104.11 7.92 103.58M7.92 103.58C9.16 102.85 7.74 101.1 9.14 100.4M8.79 103.95C8.5 103.82 8.07 104.04 7.92 103.58M34.42 96.85C33.46 96.48 33.3 97.37 32.85 97.85M34.42 96.85C35.63 98.11 37.11 98.98 38.72 99.73M35.31 94.36C37.48 95.38 39.75 94.11 42.01 94.68M42.3 104.24C42.76 103.2 42.05 101.88 43.07 100.93M38.78 99.91C40.07 100.79 41.87 99.51 43.07 100.93M43.07 100.93C44.34 101.3 44.09 99.11 45.42 99.52M49.69 98.69C51.37 98.69 52.61 100.03 54.3 100.18M55.31 98.86C54.14 97.47 54.17 95.79 54.18 94.07M50.81 94.53C51.56 94.32 52.56 94.86 53.06 93.81M53.06 93.81C53.36 94.17 53.6 94.79 54.18 94.07M53.81 103.83C53.54 102.57 54.43 101.46 54.3 100.18M60.07 99.39C60.23 101.05 59.09 102.59 59.61 104.33M64.57 65.64C65.29 66.72 66.1 65.43 66.87 65.72M64.57 65.64C62.94 65.64 63.71 67.87 62.28 68.11M62.28 68.11C61.79 68.86 62.49 69.52 62.45 70.26M66.56 59.42C67.73 60.48 68.99 61.47 69.56 63.09M84.86 49.23C83.06 49.37 81.26 48.94 79.4 49.21M79.4 49.21C78.67 49.08 77.87 49 78.45 47.89M47.71 93.43C46.33 93.51 45.41 94.89 43.91 94.76M43.91 94.76C43.67 94.41 43.25 94.4 42.9 94.23M45.42 99.52C45.56 97.75 43.98 96.52 43.91 94.76M42.01 94.68C41.94 93.81 43.06 95.32 42.9 94.23M42.21 70.01C40.79 70.37 39.51 69.59 38.11 69.48M47.07 64.83C46.38 64.51 47.03 65.75 46.35 65.46M90.25 55.52C88.32 56.31 86.62 55.79 85 54.57M84.86 54.66C84.04 55.4 83.35 56.17 84.04 57.39M77.72 55.26C79.06 54.82 79 53.04 80.31 52.52M91.03 60.46C90.92 61.53 91.93 62.74 90.63 63.69M97.76 70.07C96.64 68.82 95.18 68.65 93.59 68.71M93.59 68.71C92.43 70.59 93.11 72.63 93.07 74.67M93.28 66.72C93.71 67.26 94.22 67.81 93.04 68.09M54.93 69.99C54.32 68.87 54.5 68 55.73 67.42M49.68 66.64C50.98 66.11 52.6 66.38 53.66 65.11M55.73 67.42C55.21 66.51 54.04 66.18 53.66 65.11M58.7 64.81C57.15 65.04 56.28 66.01 55.73 67.42M58.87 61.26C56.91 61.83 54.95 62.27 53 61M15.98 89.33C16.69 88.76 16.68 87.61 17.66 87.22M17.3 95.31C17.66 93.24 20.13 92.36 20.25 90.08M20.25 90.08C21.03 90.74 21.89 90.99 22.9 90.63M28.1 87.55C28.82 86.8 28.12 86.44 27.68 85.99M21.88 85.78C23.2 87.17 23.29 88.82 22.9 90.63M21.88 85.78C23.3 85.7 24.56 84.44 26.13 85.22M27.68 85.99C27.01 86.07 26.63 85.53 26.13 85.22M58.09 92.02C56.42 91.98 55.73 93.8 54.18 94.07M46.2 65.83C46.36 67.72 46.65 69.59 47.43 71.4M42.21 70.01C42.8 71.34 43.5 72.59 44.6 73.63M77.72 55.26C76.97 55.19 76.33 56.14 75.5 55.48M73.76 57.11C73.55 55.73 74.91 56.03 75.5 55.48M73.76 57.11C71.73 57.49 70.22 56.29 68.57 55.36M73.9 59.35C74.25 59.21 72.9 58.62 74.08 58.69M89.46 78.91C89.59 77.62 89.42 76.27 90.26 75.09M92.96 74.74C92.07 74.89 91.29 75.81 90.26 75.09M87.85 72.96C88.68 73.63 89.38 74.44 90.26 75.09M75.07 49.91C73.93 49.67 74.43 50.44 74.45 50.92M78.45 47.89C77.13 48.22 76.43 49.57 75.07 49.91M75.5 55.48C74.84 54.05 75.08 52.41 74.45 50.92M68.43 54.93C69.8 54.33 69.76 53.11 69.75 51.88M65.19 53.36C66.04 54.32 67.61 53.81 68.43 54.93M56.71 56.5C57.57 57.89 59.64 58.21 59.96 60.15M60.9 57.12C61.41 58.14 60.64 58.97 60.48 59.92M65.19 53.36C63.35 54.12 62.41 55.9 60.9 57.12M58.87 61.26C59.13 60.8 59.7 60.64 59.96 60.15M63.01 60.41C62.1 60.66 61.44 59.58 60.48 59.92M29.85 82.49C28.95 81.76 30.68 81.4 30.1 80.7M29.85 82.49C31.55 83.3 33.06 84.57 35.11 84.68M30.1 80.7C31.75 79.63 33.62 80.22 35.44 80.02M35.44 80.02C35.11 81.31 34.65 82.62 35.9 83.75M27.68 85.99C29.07 85.25 28.23 83.13 29.85 82.49M30.71 75.37C31.58 73.9 30.93 72.66 30.12 71.41M37.2 72.59C37.3 71.77 37.66 70.97 37.28 70.11M37.28 70.11C37.07 69.14 36.51 69.35 35.89 69.69M28.72 77.81C29.19 78.76 29.65 79.71 30.1 80.7M28.72 77.81C29.49 77.1 29.2 75.51 30.71 75.37M36.74 78.33C34.66 77.74 32.98 76.38 31.04 75.38M10.45 85.48C11.82 84.35 13.4 83.76 15.19 83.56M15.07 81.46C15.73 82.12 14.75 82.87 15.19 83.56M17.66 87.22C18.63 86.7 17.65 86.08 17.73 85.5M26.13 85.22C24.87 83.84 23.7 82.42 23.22 80.5M15.93 79.6C17.89 79.71 19.91 78.99 21.85 80.07M19.03 85C19.57 83.16 20.32 81.45 22.06 80.33M72.74 94.74C72.65 96.28 71.25 96.67 70.31 97.52M70.31 97.52C70.53 99.34 70.07 101.29 71.28 102.99M61.94 105.6C63.01 103.93 65.33 105.15 66.5 103.6M66.5 103.6C67.55 102.78 67.81 103.59 68.1 104.38M65.18 93.76C65.67 95.36 66.55 96.68 67.96 97.68M65.18 93.76C64.59 95.4 63.12 95.35 61.74 95.54M61.54 98.09C62.59 97.33 62.65 96.49 61.74 95.54M65.38 100.44C66.32 99.62 66.74 98.3 67.96 97.68M70.31 97.52C69.53 97.52 68.76 97.74 67.96 97.68M60.07 99.39C60.52 98.92 60.73 98.19 61.54 98.09M66.5 103.6C65.55 102.76 65.59 101.58 65.38 100.44M44.6 73.64C42.48 74.26 40.57 75.35 38.53 76.31M45.09 74.53C44.54 75.75 44.76 77.06 44.66 78.37M40.59 81.9C39.82 80.89 39.18 79.83 39.37 78.45M73.9 59.35C75.53 60.63 75.26 63.1 77.04 64.35M79.65 63.34C78.54 62.5 78.51 61.58 79.42 60.55M81.81 70.56C83.66 71.33 85.77 71.25 87.58 72.33M81.81 70.56C81.07 68.53 83.39 67.03 82.81 64.97M87.48 66.04C87.55 67.32 89.37 67.93 88.81 69.49M87.48 66.04C86.7 64.78 85.32 64.78 84.06 64.44M79.65 63.34C81.04 63.2 81.79 64.3 82.81 64.97M90.63 63.69C89.01 63.7 88.56 65.26 87.48 66.04M93.04 68.09C91.92 69.38 89.91 67.99 88.81 69.49M85.72 60.68C85.21 61.94 83.78 62.79 84.06 64.44" stroke-width="1.5" opacity="0.6"/>
</g>
<g filter="url(#bl1)" fill="none" stroke="#38ea3c" stroke-linecap="round" stroke-linejoin="round">
<path d="M-2.34 17.37C-1.93 17.12 -1.88 16.97 0.11 15.87C2.1 14.78 6 12.16 9.59 10.79C13.18 9.42 16.89 8.3 21.66 7.64C26.44 6.99 32.71 7.16 38.25 6.87C43.8 6.59 51.1 6.11 54.94 5.94C58.78 5.77 60.22 5.88 61.27 5.87" stroke-width="1.7" opacity="0.9"/>
<path d="M-1.84 18.06C-1.5 18.08 -1.76 19.01 0.22 18.17C2.2 17.33 6.39 14.5 10.01 13C13.64 11.51 17.23 9.98 21.99 9.2C26.76 8.41 33.05 8.39 38.59 8.28C44.13 8.17 52.45 8.5 55.23 8.54" stroke-width="1.0" opacity="0.6"/>
<path d="M54.94 5.94C56 5.93 59.58 5.98 61.27 5.87C62.96 5.75 63.79 4.84 65.08 5.24C66.36 5.64 67.47 6.97 68.98 8.27C70.49 9.57 72.06 11.61 74.13 13.03C76.21 14.45 78.9 15.98 81.43 16.79C83.96 17.6 86.62 18.07 89.3 17.89C91.99 17.71 94.8 15.81 97.53 15.73C100.27 15.64 102.64 16.31 105.71 17.38C108.78 18.45 112.59 20.36 115.94 22.16C119.3 23.96 122.94 25.91 125.84 28.17C128.74 30.42 131.73 33.59 133.36 35.69C134.99 37.78 135.24 39.88 135.62 40.72" stroke-width="2.3" opacity="0.97"/>
<path d="M134 41.77C133.65 42.92 132.91 45.88 131.88 48.68C130.84 51.48 129.34 55.27 127.8 58.58C126.26 61.89 124.43 65.83 122.62 68.55C120.81 71.27 118.82 73.19 116.92 74.91C115.03 76.63 113.22 78.57 111.27 78.85C109.32 79.13 107.23 77.97 105.22 76.57C103.21 75.17 101.22 72.6 99.23 70.44C97.25 68.28 94.96 65.79 93.31 63.6C91.67 61.42 90.35 59.89 89.35 57.35C88.34 54.81 88.01 50.34 87.28 48.36C86.56 46.37 85.94 45.74 84.99 45.44C84.03 45.13 83.48 45.8 81.54 46.53C79.59 47.26 76.42 48.65 73.31 49.81C70.2 50.98 66.43 51.89 62.9 53.53C59.36 55.17 55.5 57.58 52.11 59.68C48.71 61.78 45.94 64.22 42.54 66.12C39.15 68.02 35.14 69.37 31.74 71.1C28.34 72.82 25.13 74.51 22.15 76.46C19.17 78.41 16.34 80.51 13.84 82.79C11.35 85.07 9.16 87.21 7.19 90.14C5.22 93.07 3.4 97.78 2.03 100.37C0.65 102.96 -0.56 104.79 -1.08 105.67" stroke-width="2.5"/>
<path d="M-1 4 C8 6 14 4.5 22 6.5 S 36 5 50 4.5" stroke-width="1.0" opacity="0.75"/>
<path d="M118 0 C122 5 126 6 129 2 M124 6 C129 12 132 18 132.5 24 C131 20 128 16 127 12 M133.5 44 C135 50 133 58 135 66" stroke-width="0.8" opacity="0.45"/>
<path d="M104 79 C112 84 124 84 135 78 M112 96 C116 90 124 84 135 80 M112 96 C114 100 112 103 114 106 M90 93 C96 95 102 92 108 94" stroke-width="1.0" opacity="0.7"/>
<path d="M8.93 88.81C9.07 90.58 9.45 92.26 10.63 93.73M10.63 93.73C12.08 94.09 13.54 94.61 15.03 93.67M23.61 99.06C23.12 98.51 23.07 99.94 22.54 99.3M22.54 99.3C21.29 97.52 18.97 97.39 17.4 96M21.83 103.47C23.74 103.16 25.65 102.65 27.61 103.53M45.56 105.28C44.44 105.07 43.64 103.86 42.3 104.24M53.81 103.83C55 104.08 56.19 104.34 57.16 105.2M61.94 105.6C61.49 104.59 60.19 105.16 59.61 104.33M59.61 104.33C59.11 105.47 57.98 104.86 57.16 105.2M15.21 102.23C13.22 103.28 11.22 104.3 8.79 103.95M3.09 99.59C3.15 98.06 4.39 97.62 5.48 96.99M5.44 103.83C6.22 103.34 7.13 104.11 7.92 103.58M7.92 103.58C9.16 102.85 7.74 101.1 9.14 100.4M34.42 96.85C33.46 96.48 33.3 97.37 32.85 97.85M34.42 96.85C35.63 98.11 37.11 98.98 38.72 99.73M35.31 94.36C37.48 95.38 39.75 94.11 42.01 94.68M38.78 99.91C40.07 100.79 41.87 99.51 43.07 100.93M43.07 100.93C44.34 101.3 44.09 99.11 45.42 99.52M55.31 98.86C54.14 97.47 54.17 95.79 54.18 94.07M60.07 99.39C60.23 101.05 59.09 102.59 59.61 104.33M66.56 59.42C67.73 60.48 68.99 61.47 69.56 63.09M47.71 93.43C46.33 93.51 45.41 94.89 43.91 94.76M43.91 94.76C43.67 94.41 43.25 94.4 42.9 94.23M45.42 99.52C45.56 97.75 43.98 96.52 43.91 94.76M47.07 64.83C46.38 64.51 47.03 65.75 46.35 65.46M84.86 54.66C84.04 55.4 83.35 56.17 84.04 57.39M93.28 66.72C93.71 67.26 94.22 67.81 93.04 68.09M49.68 66.64C50.98 66.11 52.6 66.38 53.66 65.11M15.98 89.33C16.69 88.76 16.68 87.61 17.66 87.22M17.3 95.31C17.66 93.24 20.13 92.36 20.25 90.08M20.25 90.08C21.03 90.74 21.89 90.99 22.9 90.63M21.88 85.78C23.2 87.17 23.29 88.82 22.9 90.63M21.88 85.78C23.3 85.7 24.56 84.44 26.13 85.22M27.68 85.99C27.01 86.07 26.63 85.53 26.13 85.22M58.09 92.02C56.42 91.98 55.73 93.8 54.18 94.07M46.2 65.83C46.36 67.72 46.65 69.59 47.43 71.4M42.21 70.01C42.8 71.34 43.5 72.59 44.6 73.63M73.76 57.11C73.55 55.73 74.91 56.03 75.5 55.48M73.9 59.35C74.25 59.21 72.9 58.62 74.08 58.69M92.96 74.74C92.07 74.89 91.29 75.81 90.26 75.09M75.07 49.91C73.93 49.67 74.43 50.44 74.45 50.92M78.45 47.89C77.13 48.22 76.43 49.57 75.07 49.91M65.19 53.36C66.04 54.32 67.61 53.81 68.43 54.93M56.71 56.5C57.57 57.89 59.64 58.21 59.96 60.15M60.9 57.12C61.41 58.14 60.64 58.97 60.48 59.92M65.19 53.36C63.35 54.12 62.41 55.9 60.9 57.12M58.87 61.26C59.13 60.8 59.7 60.64 59.96 60.15M29.85 82.49C28.95 81.76 30.68 81.4 30.1 80.7M35.44 80.02C35.11 81.31 34.65 82.62 35.9 83.75M28.72 77.81C29.49 77.1 29.2 75.51 30.71 75.37M10.45 85.48C11.82 84.35 13.4 83.76 15.19 83.56M15.07 81.46C15.73 82.12 14.75 82.87 15.19 83.56M17.66 87.22C18.63 86.7 17.65 86.08 17.73 85.5M15.93 79.6C17.89 79.71 19.91 78.99 21.85 80.07M19.03 85C19.57 83.16 20.32 81.45 22.06 80.33M72.74 94.74C72.65 96.28 71.25 96.67 70.31 97.52M70.31 97.52C70.53 99.34 70.07 101.29 71.28 102.99M61.94 105.6C63.01 103.93 65.33 105.15 66.5 103.6M61.54 98.09C62.59 97.33 62.65 96.49 61.74 95.54M70.31 97.52C69.53 97.52 68.76 97.74 67.96 97.68M66.5 103.6C65.55 102.76 65.59 101.58 65.38 100.44M73.9 59.35C75.53 60.63 75.26 63.1 77.04 64.35M79.65 63.34C78.54 62.5 78.51 61.58 79.42 60.55M81.81 70.56C81.07 68.53 83.39 67.03 82.81 64.97M85.72 60.68C85.21 61.94 83.78 62.79 84.06 64.44" stroke-width="1.4" opacity="0.88"/>
<path d="M24.74 93.06C24.5 95.07 24.72 97.16 23.61 99.06M20.47 102.16C20.16 103.39 20.81 103.6 21.83 103.47M25.66 100.27C24.47 100.74 23.88 100.19 23.61 99.06M34.82 103.54C35.77 103.33 36.83 104.36 37.72 103.27M51.71 104.86C49.57 104.12 48.98 101.89 47.47 100.46M32.14 101.04C33.35 100.2 32.93 99 32.85 97.85M28.98 96.92C29.61 96.85 30.24 96.8 30.9 96.94M3.45 102.78C4.15 103.04 5.22 102.62 5.44 103.83M8.79 103.95C8.5 103.82 8.07 104.04 7.92 103.58M50.81 94.53C51.56 94.32 52.56 94.86 53.06 93.81M53.81 103.83C53.54 102.57 54.43 101.46 54.3 100.18M64.57 65.64C65.29 66.72 66.1 65.43 66.87 65.72M62.28 68.11C61.79 68.86 62.49 69.52 62.45 70.26M84.86 49.23C83.06 49.37 81.26 48.94 79.4 49.21M79.4 49.21C78.67 49.08 77.87 49 78.45 47.89M42.01 94.68C41.94 93.81 43.06 95.32 42.9 94.23M42.21 70.01C40.79 70.37 39.51 69.59 38.11 69.48M90.25 55.52C88.32 56.31 86.62 55.79 85 54.57M77.72 55.26C79.06 54.82 79 53.04 80.31 52.52M91.03 60.46C90.92 61.53 91.93 62.74 90.63 63.69M97.76 70.07C96.64 68.82 95.18 68.65 93.59 68.71M93.59 68.71C92.43 70.59 93.11 72.63 93.07 74.67M55.73 67.42C55.21 66.51 54.04 66.18 53.66 65.11M58.7 64.81C57.15 65.04 56.28 66.01 55.73 67.42M28.1 87.55C28.82 86.8 28.12 86.44 27.68 85.99M73.76 57.11C71.73 57.49 70.22 56.29 68.57 55.36M87.85 72.96C88.68 73.63 89.38 74.44 90.26 75.09M75.5 55.48C74.84 54.05 75.08 52.41 74.45 50.92M68.43 54.93C69.8 54.33 69.76 53.11 69.75 51.88M63.01 60.41C62.1 60.66 61.44 59.58 60.48 59.92M29.85 82.49C31.55 83.3 33.06 84.57 35.11 84.68M30.1 80.7C31.75 79.63 33.62 80.22 35.44 80.02M30.71 75.37C31.58 73.9 30.93 72.66 30.12 71.41M37.2 72.59C37.3 71.77 37.66 70.97 37.28 70.11M37.28 70.11C37.07 69.14 36.51 69.35 35.89 69.69M28.72 77.81C29.19 78.76 29.65 79.71 30.1 80.7M66.5 103.6C67.55 102.78 67.81 103.59 68.1 104.38M65.18 93.76C64.59 95.4 63.12 95.35 61.74 95.54M60.07 99.39C60.52 98.92 60.73 98.19 61.54 98.09M44.6 73.64C42.48 74.26 40.57 75.35 38.53 76.31M45.09 74.53C44.54 75.75 44.76 77.06 44.66 78.37M40.59 81.9C39.82 80.89 39.18 79.83 39.37 78.45M81.81 70.56C83.66 71.33 85.77 71.25 87.58 72.33M87.48 66.04C87.55 67.32 89.37 67.93 88.81 69.49M87.48 66.04C86.7 64.78 85.32 64.78 84.06 64.44M93.04 68.09C91.92 69.38 89.91 67.99 88.81 69.49" stroke-width="1.05" opacity="0.68"/>
<path d="M8.93 88.81C9.63 88.94 9.68 88.58 9.5 88.05M9.5 88.05C11.44 89.45 13.64 89.58 15.98 89.33M20.47 102.16C20.39 100.66 20.88 99.58 22.54 99.3M5.98 96.09C7.53 96.18 8.64 95.06 10.04 94.6M37.72 103.27C38.35 104.17 39.72 104.46 39.82 105.83M51.71 104.86C52.5 104.72 52.67 103.3 53.81 103.83M17.4 96C17.56 98.15 15.47 99.3 15.05 101.25M42.3 104.24C42.76 103.2 42.05 101.88 43.07 100.93M49.69 98.69C51.37 98.69 52.61 100.03 54.3 100.18M53.06 93.81C53.36 94.17 53.6 94.79 54.18 94.07M64.57 65.64C62.94 65.64 63.71 67.87 62.28 68.11M54.93 69.99C54.32 68.87 54.5 68 55.73 67.42M58.87 61.26C56.91 61.83 54.95 62.27 53 61M77.72 55.26C76.97 55.19 76.33 56.14 75.5 55.48M89.46 78.91C89.59 77.62 89.42 76.27 90.26 75.09M27.68 85.99C29.07 85.25 28.23 83.13 29.85 82.49M36.74 78.33C34.66 77.74 32.98 76.38 31.04 75.38M26.13 85.22C24.87 83.84 23.7 82.42 23.22 80.5M65.18 93.76C65.67 95.36 66.55 96.68 67.96 97.68M65.38 100.44C66.32 99.62 66.74 98.3 67.96 97.68M79.65 63.34C81.04 63.2 81.79 64.3 82.81 64.97M90.63 63.69C89.01 63.7 88.56 65.26 87.48 66.04" stroke-width="0.8" opacity="0.45"/>
<path d="M-0.62 1.8C-1.43 2.05 -2.26 2.27 -2.86 2.98M-3.51 5.71C-1.82 6.67 -1.65 8.85 -0.09 9.99M-0.09 9.99C0.61 10.39 -0.74 10.33 -0.25 10.7M4.06 8.71C2.86 8.79 1.85 9.65 0.57 9.6M4.48 7.46C4.15 6 4.26 4.43 3.32 3.09M-0.62 1.8C0.45 1.85 1.56 1.79 2.22 2.94M34.06 7.48C32.89 6.99 32.25 5.7 30.93 5.37M36.14 7.38C36.54 7.07 36.64 6.39 37.33 6.4M30.93 5.37C30.5 4.98 31.87 5.06 31.14 4.58M37.44 1.42C36.75 3.05 38.09 4.73 37.33 6.4M37.44 1.42C36.48 0.89 35.42 0.75 34.32 0.62M34.32 0.62C33.35 1.99 31.58 2.72 31.14 4.58M6.94 11.75C8.72 11.3 9.03 9.12 10.73 8.51M3.32 3.09C4.12 3.13 4.4 1.99 5.3 2.21M5.86 -1.13C5.23 -0.1 6.17 1.19 5.3 2.21M5.3 2.21C6.41 3.37 7.69 4.09 9.4 3.78M10.73 8.51C10.94 8.22 10.6 7.84 10.9 7.56M38.92 0.75C38.18 -0.63 38.27 -2.04 38.74 -3.51M10.9 7.56C12.15 7.11 13.52 7.13 14.8 6.6M17.34 7.29C16.72 6.26 15.82 6.27 14.8 6.6M10.56 2.3C11.81 3.15 13.2 3.1 14.65 2.87M14.8 6.6C14.45 5.38 14.89 4.13 14.65 2.87M14.65 2.87C14.91 2.03 16.38 2.44 16.33 1.24M25.02 4.66C24.82 3.91 23.91 3.47 24.05 2.54M19.04 3.56C19.27 4.78 18.47 5.74 18.2 6.87M19.04 3.56C20.33 2.85 21.62 2.15 22.98 1.48M21.07 8.13C20.2 7.55 19.3 7.02 18.2 6.87M28.65 0.48C27.22 1.36 25.85 2.37 24.05 2.54M16.33 1.24C16.8 2.5 18.1 2.79 19.04 3.56M22.75 -0.79C22.05 0.04 22.63 0.74 22.98 1.48M37.33 6.4C38.91 6.15 40.3 7.45 41.96 6.98" stroke-width="0.9" opacity="0.6"/>
</g>
<path d="M87.3 48.8l0.49 1.82M85.53 45.94l0.82 2.65M76.74 48.57l-0.25 2.04M72.8 49.56l-1.68 2.41M69.46 51.22l0.4 1.36M66.22 52.63l-0.48 2.57M62.73 53.78l1.18 2.46M59.1 56.38l1.13 1.82M52.75 59.93l1.53 2.88M48.84 61.75l1.2 1.71M45.49 63.86l0.24 3.21M42.64 66.48l-1.33 2.73M35.79 69.83l-1.85 2.6M31.76 70.95l-1.38 1.78M28.7 72.75l0.78 2.04M25.7 74.39l0.28 1.55M16.78 80.45l-0.96 2.82M13.81 82.35l-0.33 1.48M7.72 89.33l0.98 2.05M6.1 93.19l1.32 1.92M4.16 96.25l-0.01 1.22M0.36 102.63l-1.67 1.96M-1 106l0.48 2.59M22.5 99.3l1.06 -1.43M21.8 103.5l-0.27 -1.24M24.7 93.1l1.63 0.45M60.1 99.4l-0.58 1.38M5.4 103.8l1.3 -0.63M37.2 72.6l-0.22 1.67M93 68.1l-0.45 -0.92M21.9 80.1l-0.18 -2.43M45.1 74.5l-1.46 -1.04M9.5 88l1.88 1.22M39.8 105.8l-0.4 -1.3M35.1 84.7l-2.23 -0.88M32.9 97.8l1.66 0.97M62.3 68.1l-1.18 0.16M22.9 90.6l0.67 1.59M27.7 86l1.14 -0.37M17.7 85.5l-1.02 1.75M42 94.7l-0.03 -2.14M57.2 105.2l-1.07 -1.67M87.6 72.3l-0.64 1.25M58.7 64.8l0.81 1.86M61.7 95.5l-1.02 -0.85M93.6 68.7l-1.41 0.16M54.2 94.1l1 -0.2M77.7 55.3l-0.59 1.55M5.5 97l-1.56 2.02M43.1 100.9l-0.18 1.09M80.3 52.5l0.17 -1.12M16 89.3l1.35 -0.27M79.6 63.3l-0.49 1.16M38.8 99.9l-0.73 -1.99M60 60.2l-1.45 -0.46M53 61l1.23 1.93M84.9 54.7l-1.84 0.43M65.2 53.4l1.33 -0.71M35.9 83.8l-1.97 -0.73M15.2 102.2l-1.57 0.64M75.1 49.9l2.19 1.14M35.9 69.7l0.68 0.85M44.7 78.4l1.11 -1.23M84.9 49.2l2.04 1.01M73.9 59.3l0.55 -0.84M66.9 65.7l1.42 2.11M38.5 76.3l2.33 -0.66M87.5 66l1.14 -1.85M47.4 71.4l-1.39 -0.31M72.7 94.7l-0.29 -1.88M51.7 104.9l-1.83 0.11M65.2 93.8l-2.24 0.75M15.2 83.6l1.54 0.28M91 60.5l-1.71 0.68M85.7 60.7l-1.7 -1.56M23.2 80.5l-2.28 -0.29M64.6 65.6l-1.48 -0.7M29.9 82.5l-1.11 0.56M71.3 103l-1.09 -0.34M40.6 81.9l0.66 1.77M35.4 80l-1.28 0.46M84 57.4l-1.31 -1.42M17.4 96l1.45 -0.48M66.5 103.6l1.97 -0.83M25.7 100.3l-2.13 1.12M36.7 78.3l1.08 0.89M89.5 78.9l1.77 -1.46M34.8 103.5l-1.02 -1.25M46.2 65.8l0.64 1.8M75.5 55.5l-1.79 -0.62M32.1 101l1.18 -0.79M10 94.6l-0.73 -0.7M30.9 96.9l0.16 -1.13M66.6 59.4l-2.21 -0.74M53.7 65.1l0.65 1.4M20.5 102.2l-1.19 0.1M69.6 63.1l-1.82 -0.83M68.1 104.4l-0.45 -1.8M42.9 94.2l-2.12 0.51M9.1 100.4l-0.45 -1.22M30.1 71.4l-0.46 1.5M10.5 85.5l1.17 0.47" filter="url(#bl1)" fill="none" stroke="#38ea3c" stroke-width="1.1" stroke-linecap="round" opacity="0.8"/>
<circle cx="21.8" cy="103.5" r="0.87" fill="#38ea3c" opacity="0.85"/>
<circle cx="23.6" cy="99.1" r="0.85" fill="#38ea3c" opacity="0.85"/>
<circle cx="78.4" cy="47.9" r="0.96" fill="#38ea3c" opacity="0.85"/>
<circle cx="90.6" cy="63.7" r="0.71" fill="#38ea3c" opacity="0.85"/>
<circle cx="15" cy="93.7" r="0.65" fill="#38ea3c" opacity="0.85"/>
<circle cx="21.9" cy="80.1" r="0.96" fill="#38ea3c" opacity="0.85"/>
<circle cx="68.4" cy="54.9" r="0.74" fill="#38ea3c" opacity="0.85"/>
<circle cx="45.1" cy="74.5" r="1.02" fill="#38ea3c" opacity="0.85"/>
<circle cx="39.8" cy="105.8" r="0.66" fill="#38ea3c" opacity="0.85"/>
<circle cx="21.9" cy="85.8" r="1.13" fill="#38ea3c" opacity="0.85"/>
<circle cx="69.8" cy="51.9" r="1.01" fill="#38ea3c" opacity="0.85"/>
<circle cx="42" cy="94.7" r="0.9" fill="#38ea3c" opacity="0.85"/>
<circle cx="58.7" cy="64.8" r="0.65" fill="#38ea3c" opacity="0.85"/>
<circle cx="44.6" cy="73.6" r="0.94" fill="#38ea3c" opacity="0.85"/>
<circle cx="61.7" cy="95.5" r="0.67" fill="#38ea3c" opacity="0.85"/>
<circle cx="54.2" cy="94.1" r="0.95" fill="#38ea3c" opacity="0.85"/>
<circle cx="77.7" cy="55.3" r="0.87" fill="#38ea3c" opacity="0.85"/>
<circle cx="56.7" cy="56.5" r="1.06" fill="#38ea3c" opacity="0.85"/>
<circle cx="55.3" cy="98.9" r="0.85" fill="#38ea3c" opacity="0.85"/>
<circle cx="16" cy="89.3" r="0.62" fill="#38ea3c" opacity="0.85"/>
<circle cx="38.8" cy="99.9" r="1.1" fill="#38ea3c" opacity="0.85"/>
<circle cx="60" cy="60.2" r="0.73" fill="#38ea3c" opacity="0.85"/>
<circle cx="53" cy="61" r="1.09" fill="#38ea3c" opacity="0.85"/>
<circle cx="10.6" cy="93.7" r="0.99" fill="#38ea3c" opacity="0.85"/>
<circle cx="61.5" cy="98.1" r="0.79" fill="#38ea3c" opacity="0.85"/>
<circle cx="17.3" cy="95.3" r="0.82" fill="#38ea3c" opacity="0.85"/>
<circle cx="34.4" cy="96.9" r="1" fill="#38ea3c" opacity="0.85"/>
<circle cx="45.6" cy="105.3" r="0.78" fill="#38ea3c" opacity="0.85"/>
<circle cx="30.1" cy="80.7" r="0.76" fill="#38ea3c" opacity="0.85"/>
<circle cx="84.9" cy="49.2" r="0.79" fill="#38ea3c" opacity="0.85"/>
<circle cx="73.9" cy="59.3" r="0.92" fill="#38ea3c" opacity="0.85"/>
<circle cx="85" cy="54.6" r="0.9" fill="#38ea3c" opacity="0.85"/>
<circle cx="87.5" cy="66" r="1.1" fill="#38ea3c" opacity="0.85"/>
<circle cx="54.9" cy="70" r="1.01" fill="#38ea3c" opacity="0.85"/>
<circle cx="47.4" cy="71.4" r="0.65" fill="#38ea3c" opacity="0.85"/>
<circle cx="54.3" cy="100.2" r="0.81" fill="#38ea3c" opacity="0.85"/>
<circle cx="62.5" cy="70.3" r="0.78" fill="#38ea3c" opacity="0.85"/>
<circle cx="72.7" cy="94.7" r="0.93" fill="#38ea3c" opacity="0.85"/>
<circle cx="51.7" cy="104.9" r="1.06" fill="#38ea3c" opacity="0.85"/>
<circle cx="43.9" cy="94.8" r="0.63" fill="#38ea3c" opacity="0.85"/>
<circle cx="91" cy="60.5" r="0.77" fill="#38ea3c" opacity="0.85"/>
<circle cx="73.8" cy="57.1" r="1.12" fill="#38ea3c" opacity="0.85"/>
<circle cx="8.8" cy="104" r="0.66" fill="#38ea3c" opacity="0.85"/>
<circle cx="60.5" cy="59.9" r="0.61" fill="#38ea3c" opacity="0.85"/>
<circle cx="47.1" cy="64.8" r="1.13" fill="#38ea3c" opacity="0.85"/>
<circle cx="29" cy="96.9" r="1.1" fill="#38ea3c" opacity="0.85"/>
<circle cx="35.3" cy="94.4" r="0.91" fill="#38ea3c" opacity="0.85"/>
<circle cx="17.4" cy="96" r="0.91" fill="#38ea3c" opacity="0.85"/>
<circle cx="66.5" cy="103.6" r="0.61" fill="#38ea3c" opacity="0.85"/>
<circle cx="81.8" cy="70.6" r="0.67" fill="#38ea3c" opacity="0.85"/>
<circle cx="25.7" cy="100.3" r="0.7" fill="#38ea3c" opacity="0.85"/>
<circle cx="89.5" cy="78.9" r="1.12" fill="#38ea3c" opacity="0.85"/>
<circle cx="47.5" cy="100.5" r="1.09" fill="#38ea3c" opacity="0.85"/>
<circle cx="32.1" cy="101" r="1.11" fill="#38ea3c" opacity="0.85"/>
<circle cx="58.1" cy="92" r="0.61" fill="#38ea3c" opacity="0.85"/>
<circle cx="10" cy="94.6" r="1.04" fill="#38ea3c" opacity="0.85"/>
<circle cx="30.9" cy="96.9" r="0.79" fill="#38ea3c" opacity="0.85"/>
<circle cx="77" cy="64.3" r="0.84" fill="#38ea3c" opacity="0.85"/>
<circle cx="55.7" cy="67.4" r="0.89" fill="#38ea3c" opacity="0.85"/>
<circle cx="68.1" cy="104.4" r="0.67" fill="#38ea3c" opacity="0.85"/>
<circle cx="22.1" cy="80.3" r="0.62" fill="#38ea3c" opacity="0.85"/>
<circle cx="42.9" cy="94.2" r="0.99" fill="#38ea3c" opacity="0.85"/>
<circle cx="9.1" cy="100.4" r="1.1" fill="#38ea3c" opacity="0.85"/>
<circle cx="68" cy="97.7" r="1.02" fill="#38ea3c" opacity="0.85"/>
<circle cx="30.1" cy="71.4" r="1.06" fill="#38ea3c" opacity="0.85"/>
<circle cx="68.79" cy="19.46" r="0.58" fill="#3c7a44" opacity="0.5"/>
<circle cx="93.92" cy="44.2" r="0.64" fill="#3c7a44" opacity="0.5"/>
<circle cx="42.78" cy="26.93" r="0.55" fill="#3c7a44" opacity="0.5"/>
<circle cx="30.96" cy="25.35" r="0.52" fill="#3c7a44" opacity="0.5"/>
<circle cx="45.27" cy="45.21" r="0.9" fill="#3c7a44" opacity="0.5"/>
<circle cx="95.28" cy="39.11" r="0.51" fill="#3c7a44" opacity="0.5"/>
<circle cx="11.55" cy="42.26" r="0.71" fill="#3c7a44" opacity="0.5"/>
<circle cx="125.22" cy="50.49" r="0.8" fill="#3c7a44" opacity="0.5"/>
<circle cx="0.28" cy="86.24" r="0.52" fill="#3c7a44" opacity="0.5"/>
<circle cx="1.11" cy="96.67" r="0.88" fill="#3c7a44" opacity="0.5"/>
<circle cx="18" cy="15" r="1.1" fill="#35c63c" opacity="0.8"/>
</g>
<g transform="translate(418.55,37.2)" clip-path="url(#cimg)">
<rect width="135.2" height="104.8" fill="#010000"/>
<circle cx="18" cy="14" r="0.8" fill="#5a0505" opacity="0.7"/>
<circle cx="26" cy="79" r="0.8" fill="#5a0505" opacity="0.7"/>
<circle cx="14" cy="87" r="0.8" fill="#5a0505" opacity="0.7"/>
<circle cx="116" cy="46" r="0.8" fill="#5a0505" opacity="0.7"/>
<circle cx="96" cy="69" r="0.8" fill="#5a0505" opacity="0.7"/>
<circle cx="124" cy="54" r="0.8" fill="#5a0505" opacity="0.7"/>
<circle cx="48" cy="24" r="0.8" fill="#5a0505" opacity="0.7"/>
<circle cx="35" cy="68" r="0.8" fill="#5a0505" opacity="0.7"/>
</g>
<g transform="translate(281.4,145.4)" clip-path="url(#cimg)">
<rect width="135.2" height="104.8" fill="url(#gbg)"/>
<g filter="url(#bl3)" fill="none" stroke="#1f6a25" stroke-linecap="round">
<path d="M-0.5 58.56C1.36 58.23 6.74 58.77 10.67 56.58C14.6 54.38 19.35 48.51 23.08 45.41C26.8 42.31 31.35 39.21 33 37.97" stroke-width="1.2" opacity="0.55"/>
<path d="M33 37.97C35.48 37.34 43.34 35.19 47.89 34.24C52.44 33.29 56.16 32.46 60.3 32.26C64.43 32.05 68.98 32.26 72.7 33C76.43 33.75 79.32 34.45 82.63 36.72C85.94 39 89.66 42.51 92.56 46.65C95.45 50.79 98.14 56.58 100 61.54C101.86 66.5 102.89 71.88 103.72 76.43C104.55 80.98 105.17 84.49 104.96 88.83C104.76 93.18 103.52 99.59 102.48 102.48C101.45 105.38 99.38 105.58 98.76 106.2" stroke-width="1.35" opacity="0.85"/>
<path d="M44.17 72.7C44.38 71.88 44.79 69.19 45.41 67.74C46.03 66.29 45.82 64.85 47.89 64.02C49.96 63.19 55.54 64.02 57.82 62.78C60.09 61.54 60.92 57.61 61.54 56.58" stroke-width="1.3" opacity="0.8"/>
<path d="M57.82 62.78C59.06 64.23 63.4 68.36 65.26 71.46C67.12 74.57 67.74 77.67 68.98 81.39C70.22 85.11 71.59 89.74 72.7 93.8C73.82 97.85 75.19 103.72 75.68 105.71" stroke-width="1.3" opacity="0.7"/>
<path d="M26.8 88.83C27.63 87.8 29.9 83.87 31.76 82.63C33.62 81.39 36.31 80.56 37.97 81.39C39.62 82.22 41.07 86.56 41.69 87.59" stroke-width="1.0" opacity="0.35"/>
<path d="M2.8 -5.02C0.87 -9.33 -1.55 -13.49 -1.84 -18.52M-1.84 -18.52C-3.27 -14.94 -6.48 -12.36 -7.57 -8.46M16.23 -7.89C14.22 -5.56 11.44 -4.62 8.58 -3.64M-20.02 -2.76C-15.4 -3.53 -11.95 -6.85 -7.57 -8.46M-3.57 1.89C-3.46 0.56 -1.43 0.19 -1.9 -1.47M-112.41 3.01C-82.01 -0.21 -51.39 -0.12 -20.02 -2.76M-15.96 16.81C-12.03 14.84 -9 11.57 -5.07 9.37M29.09 2.24C26.42 -0.53 22.33 -1.45 19.94 -4.78M29.09 2.24C28.83 3.11 28.51 4 29.93 4.14M16.02 8.4C17.6 9.42 18.7 11.23 20.86 11.43M29.93 4.14C26.79 5.73 25.52 9.19 22.79 11.34M16.23 -7.89C16.72 -6.2 19.22 -7.38 19.62 -5.5M8.58 -3.64C8.94 -1.3 8.38 0.97 8.1 3.32M16.02 8.4C15.12 8.46 14.14 8 13.34 8.84M-2.6 5.52C-1.45 6.7 -0.01 6.62 1.48 6.44M17.77 19.91C21.24 20.56 22.8 24.39 26.38 25.05M19.69 28.93C17.35 29.75 15.06 28.39 12.66 28.74M12.8 21.53C12.01 23.15 12.2 25.01 11.58 26.73M22.79 11.34C23.54 14.23 25.33 16.22 28.1 17.47M26.38 25.05C26.07 24.11 26.1 23.59 27.21 24.38M54.4 107.11C46.11 138.56 35.91 169.46 26.83 201.71M27.25 173.45C26.71 170.79 28.98 168.49 28.27 165.72M27.25 173.45C26.65 182.77 27.97 192.12 26.83 201.71M-0.78 106.15C-8.39 367.68 -12.97 629.29 -20.54 898.75M83.59 -6291.17C89.44 -4312.73 96.21 -2334.29 102.61 -295.9M83.59 -6291.17C71.93 -4313.17 61.59 -2335.17 49.46 -297.23M87.3 -27.71C82.99 -21.55 80.11 -14.61 76.28 -7.93M87.3 -27.71C89.57 -35.49 91.05 -43.47 93.09 -51.57M76.28 -7.93C73.8 -9.14 70.78 -7.95 68.35 -9.72M10.72 26.74C7.3 28.06 4.04 29.75 0.67 31.42M0.67 31.42C-0.28 28.65 -2.1 26.38 -3.66 23.86M-0.82 22.17C-1.87 22.54 -1.99 24.46 -3.66 23.86M11.67 38.3C8.8 39.51 5.88 37.07 2.92 38.41M2.92 38.41C2.63 37.45 1.32 38.68 1.09 37.56M11.58 26.73C11.29 26.7 11.01 26.9 10.72 26.74M34.02 -5.54C32.02 -7.54 29.11 -7.93 26.85 -9.63M34.02 -5.54C34.39 -6.75 36.11 -5.03 36.34 -6.61M36.34 -6.61C34.52 -10.26 33.59 -14.23 32.27 -18.19M26.85 -9.63C28.23 -12.72 30.9 -14.98 32.27 -18.19M29.09 2.24C31.8 0.36 31.76 -3.26 34.02 -5.54M19.62 -5.5C22.16 -6.6 24.82 -7.47 26.85 -9.63M9.72 17.43C10.74 15.96 9.88 14.31 10.16 12.73M4.32 10.91C2.38 11.83 2.04 13.85 1.12 15.54M13.34 8.84C11.5 9.47 11.7 11.78 10.16 12.73M12.8 21.53C11.32 20.53 9.77 19.57 9.72 17.43M-0.82 22.17C-0.77 20.55 -0.13 19.39 1.61 19.02M1.48 6.44C3.38 7.31 2.74 9.78 4.32 10.91M-5.07 9.37C-2.54 10.91 -0.73 13.19 1.12 15.54M-7.05 23.39C-6.12 24.86 -4.91 24.38 -3.66 23.86M45.99 -88.27C46.56 -78.9 47.6 -69.57 48.04 -59.91M48.04 -59.91C48.03 -43.34 47.45 -26.79 46.06 -9.77M36.34 -6.61C37.37 -7.08 37.81 -4.88 39.02 -6.01M39.02 -6.01C40.93 -8.03 43.04 -9.67 46.06 -9.77M27.21 24.38C29.93 23.55 32.5 24.76 35.22 24.95M28.1 17.47C31.81 16.51 34.58 13.74 38.13 12.24M38.13 12.24C37.26 14.34 39.17 16.44 38.15 18.61M42.85 38.46C41.49 35.71 42.01 32.3 39.85 29.73M54.04 32.2C53.38 31.63 52.69 31.08 53.08 30.02M53.08 30.02C51.75 27.56 49.2 26.8 46.89 25.58M26.11 25.81C27.81 29.36 28.84 33.03 28.43 37.13M35.22 24.95C37.04 26.03 38.6 27.34 39.27 29.53M38.15 18.61C41.63 19.67 44.33 21.88 46.89 24.49M19.69 28.93C19.59 32.63 21.38 36.13 20.91 39.98M20.91 39.98C22.11 39.09 22.96 40.87 24.13 40.42M11.67 38.3C12.36 39.28 13.42 39.86 14.26 40.72M27.25 173.45C23.17 155.82 20.96 137.86 17.82 119.5M-1.16 87.76C-3.27 88.3 -5.4 88.81 -7.39 89.93M-7.39 89.93C-10.26 89.87 -11.33 86.71 -13.97 86.09M-4.37 98.8C-4.71 95.65 -6.3 92.92 -7.39 89.93M-392.46 79.24C-267.58 82.75 -142.65 83.14 -13.97 86.09M137.29 56.56C136.23 54.25 134.24 52.95 132.05 51.75M484.87 51.04C375.82 61.47 266.54 69.31 154.18 80.02M154.18 80.02C148.47 78.1 142.64 76.6 136.78 74.58M151.15 56.63C147.19 61.44 141.36 64.24 137.47 69.4M84.38 120.91C79.21 116.91 75.44 111.53 70.61 106.91M68.35 -9.72C67.27 -9.37 66.58 -8.18 65.26 -8.28M60.07 -10.45C62.17 -10.65 63.99 -10.2 65.26 -8.28M49.54 16.82C51.16 18 52.92 17.96 54.79 17.42M49.54 16.82C47.53 18.96 46.66 21.49 46.89 24.49M53.08 30.02C53.94 26.75 56.56 24.51 58.07 21.5M46.47 12.29C48.78 9.17 50.83 5.81 54.41 3.7M39.8 3.75C38.63 4.79 38.3 6.3 37.65 7.68M54.41 3.7C54.47 2.99 54.8 2.37 55.02 1.69M51.83 -2.48C52.2 -2.47 52.46 -2.25 52.73 -2.02M58.68 12.77C57.08 9.86 56.48 6.49 54.41 3.7M39.02 -6.01C38.8 -2.75 40.56 0.35 39.8 3.75M46.06 -9.77C48.91 -8.11 50.4 -5.38 51.83 -2.48M29.93 4.14C32.92 4.34 35.29 5.9 37.65 7.68M65.26 -8.28C63.91 -5.21 65.98 -2.1 65.16 1.07M65.16 1.07C64.14 0.67 64.18 1.73 63.71 2.11M-10.76 36.84C-8.41 37.87 -5.52 37.26 -3.39 39.22M-7.05 23.39C-9.59 27.46 -9.27 32.33 -10.76 36.84M-149.69 62.84C-115.23 58.54 -80.8 54 -45.45 48.41M3.5 51.32C2.01 52.25 0.94 54.01 -1.24 53.71M131.31 8.02C130.66 11.23 130.24 14.51 128.49 17.49M127.93 4.93C128.62 4.72 129.47 4.07 129.55 5.54M127.93 4.93C125.82 2.7 124.65 0.05 124.18 -3.05M129.55 5.54C131.83 2.63 134.11 -0.28 136.92 -2.88M124.18 -3.05C127.73 -4.03 130.86 -5.87 134.07 -7.81M136.92 -2.88C137.22 -4.34 135.9 -5.46 136.04 -6.93M136.04 -6.93C134.84 -5.98 134.38 -6.71 134.07 -7.81M123.09 -23.94C127.07 -18.85 130.37 -13.32 134.07 -7.81M4240.13 -67.49C2895.25 -42.14 1550.39 -15.69 164.81 12.94M76.24 10.14C72.75 9.45 69.32 9.61 65.88 10.94M58.68 12.77C60.61 14.06 62.61 12.56 64.63 12.92M66.78 22.5C67.27 24.79 68.87 26.79 68.65 29.35M144.25 42.03C142.71 40.09 140.03 40.14 138.2 38.57M128.44 44.18C131.77 42.52 135.49 41.53 138.2 38.57M4240.13 -67.49C3000.88 -28.58 1761.65 10.48 484.87 51.04M136.49 28.92C137.02 30.11 136.8 31.01 135.47 31.5M129.6 62.86C130.47 64.1 131.18 62.76 131.99 62.71M129.6 62.86C128.3 60.31 126.62 58.04 124.55 55.94M118.78 -6.44C117.71 -5.17 116.66 -3.87 114.7 -4.01M127.93 4.93C125.55 5.15 123.42 5.89 121.72 7.75M112.81 -0.24C116.26 1.82 118.95 4.75 121.72 7.75M114.7 -4.01C111.83 -4.56 110.38 -6.84 108.68 -8.94M99.07 -28.14C101.9 -21.63 106.66 -16.09 108.68 -8.94M119.03 20.96C117.18 18.39 118.81 15.12 117.33 12.38M119.03 20.96C119.98 21.73 121.33 21.32 122.32 22.06M122.32 22.06C123.1 20.31 125.53 21.35 126.39 19.64M121.03 9.06C122.95 12.25 124.76 15.51 127.3 18.43M127.3 18.43C126.5 18.46 127.7 19.99 126.39 19.64M112.81 -0.24C111.32 0.99 109.62 1.96 108.31 3.49M110.19 9.99C112.92 9.67 115.3 10.37 117.33 12.38M128.49 17.49C128.68 18.55 127.39 17.71 127.3 18.43M17.82 119.5C18.55 113.45 21.08 107.87 22.35 101.77M30.22 110.05C30.39 107.95 29.69 106 29.24 103.94M103.44 107.36C100.41 107.28 98.12 105.85 96.29 103.41M96.29 103.41C93.29 117.11 93.05 131.26 89.39 145.27M84.38 120.91C86.51 128.85 88.83 136.76 89.39 145.27M126.95 163.53C125.16 151.31 125.01 138.93 123.1 126.35M103.44 107.36C106.21 106.73 106.97 103.24 109.96 102.8M113.18 104.7C112.7 103.09 111.44 102.8 109.96 102.8M109.96 102.8C109.91 100.67 107.64 99.38 107.79 97.1M107.79 97.1C108.22 96.65 107.15 95.93 108.07 95.55M76.28 -7.93C75.42 -6.81 77.73 -6.12 76.69 -4.95M65.16 1.07C67.71 1.24 70.21 -0.47 72.88 0.82M72.88 0.82C75.16 -0.4 75 -3.24 76.69 -4.95M76.24 10.14C77.35 10.72 77.39 10.4 76.77 9.52M72.88 0.82C75.21 3.23 74.17 7.13 76.77 9.52M76.77 9.52C77.27 9.72 77.72 9.31 78.23 9.37M75.44 30.89C76.83 32 78.13 33.24 79.72 34.17M86.95 14.7C88.19 13.44 89.77 15.25 91.08 14.26M81.14 22.44C84.25 23.72 87.05 25.64 90.3 26.87M115.01 22.22C112.73 19.82 110.08 17.96 106.91 16.71M115.01 22.22C115.35 24.21 112.78 24.48 112.63 26.24M112.63 26.24C110.75 28.1 108.1 28.82 106.06 30.59M102.18 21.36C102 23.9 104.18 26.05 103.39 28.77M106.06 30.59C105.46 29.58 104.2 29.54 103.39 28.77M106.91 16.71C105.92 15.8 105.63 16.66 105.26 17.35M110.19 9.99C107.93 11.63 107.67 14.25 106.91 16.71M119.03 20.96C117.66 21.23 116.17 21.11 115.01 22.22M96.34 37.47C93.53 38.79 90.76 40.19 87.83 41.45M96.28 30.89C94.66 29.57 92.49 29.67 90.68 28.69M84.94 35.45C85.52 37.61 86.47 39.59 87.83 41.45M99.05 39.51C97.67 42.19 96.71 44.98 96.73 48.14M108.29 38.03C105.46 39.88 101.98 37.7 99.05 39.51M93.31 19.39C96.4 19.32 99.12 20.89 102.18 21.36M79.72 34.17C81.64 33.79 83.47 33.79 84.94 35.45M128.44 44.18C127.86 42.37 126.51 41.53 124.71 41.19M122.32 22.06C124.09 24.2 122.25 27.07 123.81 29.33M112.63 26.24C113.45 29.3 115.39 31.43 118.17 32.98M118.17 32.98C119.73 31.3 122.13 30.93 123.81 29.33M123.81 29.33C125.63 28.99 126.49 29.89 126.77 31.61M96.73 48.14C98.7 47.4 99.93 50.01 101.94 49.29M88.87 1.65C88.15 1.18 87.28 2.58 86.59 1.47M83.38 -1.47C84.73 -0.82 84.88 1.14 86.59 1.47M83.38 -1.47C86.12 -5.45 87.1 -10.14 88.82 -14.69M76.69 -4.95C78.28 -2.6 81.05 -2.54 83.38 -1.47M78.23 9.37C81.18 6.97 84.08 4.51 86.59 1.47M99.73 -4.99C97.11 -4.48 94.3 -5.79 91.73 -4.11M136.78 74.58C134.31 74.67 132.43 75.76 131.1 77.91M124.25 69.48C125.01 71.34 126.53 72.79 127.1 74.83M116.12 79.53C116.39 81.46 116.95 83.34 117.12 85.34M115.01 88.8C115.55 87.57 117.01 86.89 117.12 85.34M110.84 78.67C112.12 78.49 113.37 78.18 114.7 78.07M102.21 76.37C104.72 78.4 107.69 78.7 110.84 78.67M130.47 84.38C126.05 84.46 121.67 85.15 117.12 85.34M130.47 84.38C131.16 82.29 129.69 79.99 131.1 77.91M127.1 74.83C123.37 76.13 119.46 77.01 116.12 79.53M141.94 100.34C140.77 100.66 139.7 101.18 138.77 102.03M-7.12 63.88C-4.83 65.95 -3.34 68.75 -0.84 70.77M-7.12 63.88C-9.1 65.45 -11.73 63.79 -13.81 65.23M-19.08 66.97C-17.39 66.24 -16.01 64.59 -13.81 65.23M-19.08 66.97C-12.94 69.25 -7.28 72.42 -1.83 76.37M-0.84 70.77C-1.4 72.4 -2.45 73.97 -1.45 75.84M-1.45 75.84C-2.18 75.58 -1.81 76.11 -1.83 76.37M89.79 2.66C91.26 5.17 93.07 7.56 92.96 10.78M97.83 9.97C100.07 7.56 102.84 5.69 104.93 2.99M104.93 2.99C104.05 2.27 103.68 1.03 102.49 0.57M100.63 -4.02C100.9 -2.36 101.11 -0.69 102.49 0.57M108.31 3.49C107.02 4.54 105.99 3.8 104.93 2.99M108.79 38.58C111.02 37.99 113.24 37.3 115.65 37.87M108.16 44.21C110.09 46.59 111.95 49.04 114.42 51.07M120 41.11C118.8 39.73 117.89 37.96 115.65 37.87M120 41.11C118.45 43.1 118.26 45.53 117.8 47.95M117.8 47.95C116.59 48.88 115.88 50.35 114.42 51.07M108.29 38.03C109.29 37.44 108.78 38.25 108.79 38.58M118.17 32.98C118.22 35.05 116.74 36.33 115.65 37.87M124.71 41.19C123.17 40.17 121.59 41.64 120 41.11M128.32 50.33C124.56 50.83 121.21 49.47 117.8 47.95M107.13 58.83C107.58 62.07 108.95 64.84 111.36 67.19M111.36 67.19C112.55 66.86 113.09 68.67 114.38 68.12M120.27 57.11C118.83 55.13 116.73 54.12 114.5 53.17M120.27 57.11C119.79 60.45 118.53 63.6 117.92 67.01M105.15 58.23C105.5 59.44 106.61 58.1 107.13 58.83M114.42 51.07C115.56 51.72 115.62 52.41 114.5 53.17M154.18 80.02C149.86 84.16 143.69 85.3 139.11 89.35M141.94 100.34C141.54 99.81 141.6 99.08 141.15 98.55M122.64 95.76C123.87 96.64 123.49 97.42 122.5 98.19M122.5 98.19C124.28 100.74 127.83 101.39 129.23 104.49M114.96 89.15C116.92 92 119.29 94.37 122.64 95.76M113.18 104.7C117 103.62 118.91 99.81 122.5 98.19M130.98 85.67C131.24 87.7 129.48 88.87 128.88 90.59M123.1 126.35C125.48 119.24 128.44 112.28 129.23 104.49" stroke-width="1.0" opacity="0.16"/>
</g>
<circle cx="121.68" cy="83.86" r="0.57" fill="#2a7a30" opacity="0.5"/>
<circle cx="53.34" cy="81.33" r="0.52" fill="#2a7a30" opacity="0.5"/>
<circle cx="110.12" cy="93.94" r="0.76" fill="#2a7a30" opacity="0.5"/>
<circle cx="16.03" cy="57.97" r="0.56" fill="#2a7a30" opacity="0.5"/>
<circle cx="119.98" cy="26.25" r="0.52" fill="#2a7a30" opacity="0.5"/>
<circle cx="60.88" cy="24.93" r="0.85" fill="#2a7a30" opacity="0.5"/>
<circle cx="24.11" cy="12.55" r="0.65" fill="#2a7a30" opacity="0.5"/>
<circle cx="59.44" cy="56.71" r="0.88" fill="#2a7a30" opacity="0.5"/>
<circle cx="53.75" cy="91.87" r="0.55" fill="#2a7a30" opacity="0.5"/>
<circle cx="65.01" cy="93.48" r="0.83" fill="#2a7a30" opacity="0.5"/>
<circle cx="86.64" cy="9.23" r="0.9" fill="#2a7a30" opacity="0.5"/>
<circle cx="48.58" cy="69.77" r="0.54" fill="#2a7a30" opacity="0.5"/>
<circle cx="13.3" cy="43.5" r="0.82" fill="#2a7a30" opacity="0.5"/>
<circle cx="101.98" cy="40.58" r="0.6" fill="#2a7a30" opacity="0.5"/>
<circle cx="77.71" cy="46.63" r="0.6" fill="#2a7a30" opacity="0.5"/>
<circle cx="17.13" cy="5.8" r="0.54" fill="#2a7a30" opacity="0.5"/>
<circle cx="40.5" cy="36.5" r="1" fill="#3fd048"/>
</g>
<g transform="translate(418.55,145.4)" clip-path="url(#cimg)">
<rect width="135.2" height="104.8" fill="#190000"/>
<g filter="url(#bl2)" fill="none" stroke="#f81818" stroke-linecap="round" opacity="0.4">
<path d="M-1.63 66.63C-1.12 66.35 0.07 65.6 1.43 64.99C2.79 64.38 4.67 64.31 6.54 62.95C8.41 61.58 10.8 58.52 12.67 56.82C14.54 55.11 16.08 54.26 17.78 52.73C19.48 51.2 21.19 49.49 22.89 47.62C24.59 45.75 25.96 43.19 28 41.49C30.04 39.78 32.43 38.42 35.15 37.4C37.88 36.38 41.11 36.21 44.35 35.36C47.58 34.51 51.16 32.97 54.57 32.29C57.97 31.61 61.38 31.34 64.79 31.27C68.19 31.2 72.28 31.37 75.01 31.88C77.73 32.39 79.26 33.07 81.14 34.33C83.01 35.6 84.71 37.4 86.25 39.44C87.78 41.49 88.97 44.04 90.33 46.6C91.7 49.15 93.06 52.05 94.42 54.77C95.78 57.5 97.32 60.22 98.51 62.95C99.7 65.67 100.72 68.4 101.57 71.12C102.43 73.85 103.11 76.57 103.62 79.3C104.13 82.02 104.64 84.75 104.64 87.47C104.64 90.2 104.3 92.41 103.62 95.65C102.94 98.88 101.06 105.01 100.55 106.89" stroke-width="5"/>
<path d="M45.37 72.76C45.03 71.74 43.16 68.09 43.33 66.63C43.5 65.16 44.69 64.58 46.39 63.97C48.1 63.36 51.5 63.46 53.55 62.95C55.59 62.44 57.46 61.93 58.66 60.9C59.85 59.88 60.36 57.5 60.7 56.82 M59.68 61.93C60.36 63.12 62.4 66.35 63.76 69.08C65.13 71.8 66.49 75.21 67.85 78.28C69.21 81.34 70.58 84.24 71.94 87.47C73.3 90.71 74.94 94.45 76.03 97.69C77.12 100.93 78.07 105.35 78.48 106.89" stroke-width="3.5"/>
<path d="M0.2 4.7L2.5 6.54L6.81 7.37L8.9 9.52L14.46 10.35L17.79 11.19M17.79 11.19L20.63 10.51L26.17 8.73M26.17 8.73L30.27 11.18L32.44 12.75L35.37 18.58L36.09 22.36M36.09 22.36L31.94 25.73L31.06 29.29L30.66 34.01M30.66 34.01L27.14 39.22L28.41 41.49M0.2 20.03L2.95 23.14L7.44 24.25L10.23 26.12L12.91 27.05M12.91 27.05L17.67 29.07L20.52 30.54L27.13 33.28L31.06 30.25M0.2 38.42L6.16 42.14L7.76 45.64L8.66 48.58L8.89 51.98L7.6 57.78M7.6 57.78L4.27 59.75L2.45 63.36M13.28 56.82L11.32 52.44L9.61 48.64M9.61 8.79L12.38 5.44L11.49 1.64L9.61 0M17.78 11.85L17.3 17.17L15.73 20.01L14.84 24.74L13.69 28.2M33.11 13.9L36.82 16.5L40.9 17.21L42.84 19.55M42.84 19.55L44.29 24.9L45.55 27.89L44.81 32.73L46.39 35.36M45.37 24.12L49.94 24.24L52.29 23.3L55.72 19.23M55.72 19.23L57.57 15.92L54.77 11.73L54.49 7.94L47.36 6.49L45.54 6.7M48.44 5.72L50.89 0M56.61 15.94L60.5 16.14L63.71 17.58L68.34 22.26L70.51 24.06L68.25 28.33M68.25 28.33L67.92 30.82L65.81 31.47M64.79 17.98L64.63 13.18L67.68 10.55L71.36 8.02L73.8 5.93L78.43 4.22M78.43 4.22L81.22 3.12L84.87 4.5M84.87 4.5L87.27 7.77M73.98 5.72L72.55 0M69.9 24.12L73.94 24.23L75.86 22.31L80.47 19.89L83.39 15.33L84.99 13M84.99 13L87.27 7.77M83.18 15.94L87.77 17.07L89.32 19.01L90.68 23.98L92.5 29.12L91.74 30.34M91.74 30.34L89.41 33.9L83.18 35.97M87.27 7.77L91.34 5.02L94.61 2.89M94.61 2.89L99.22 5.74L103.74 5.61L106.19 11.26L108.39 14.62M108.39 14.62L104.43 16.87L102.53 20.69L99.74 19.54L96.87 18.48L93.44 17.86M93.44 17.86L90.33 20.03M95.44 3.68L93.4 0M107.7 13.9L111.51 11.38L116.88 9.3L118.95 6.87M118.95 6.87L123.13 2.68L125.33 2.06M125.33 2.06L128.14 0.41M115.88 9.81L118.51 15.07L119.49 18.48L123.1 21.2L125.01 24.9L131.58 22.53M122.01 3.68L124.28 6.61L126.48 6.03L129.12 9.57L134.68 7.77M99.57 33.04L96.22 30.07L93.4 28.2M119.68 24.76L120.3 22.55L119.97 17.98M113.84 32.29L114.84 36.33L117.9 41.01L116.86 45.25L114.15 49.29L110.17 50.56M110.17 50.56L106.16 51.14L101.96 49.68L99.24 46.88L100.34 44.44M100.34 44.44L100.75 38.72L99.06 36.16L99.53 33.31M99.53 46.6L95.03 51.09M117.92 40.47L121.74 40.6L126.23 41.46L128.67 41.57M128.67 41.57L132.84 38.33L132.48 35.47M132.48 35.47L134.68 30.25M126.1 42.51L128.65 45.86L129.77 51.04M121.4 60.74L117.06 61.36L116.15 58.08L115.32 54.47L115.96 51.62M115.96 51.62L113.84 48.64M130.19 50.68L134.68 52.73M105.66 50.68L106.53 55.06L107.16 58.05M107.16 58.05L105.37 61.36L102.84 66.14L98.92 63.36M117.92 60.9L117.78 65.77L121.05 69.59M121.05 69.59L116.72 73.17L114.73 77.52M114.73 77.52L112.8 77.63L107.5 79.41L104.03 79.71M119.97 69.08L123.04 70.64L128.03 74.15L131.09 70.21M131.09 70.21L134.68 69.08M128.14 73.17L129.55 77.38L129.58 78.85M129.58 78.85L129.4 83.14L127.25 85.76L124.81 90.37L121.03 89.45M121.03 89.45L114.67 87.68L114.83 85.06M114.83 85.06L116.5 81.31L115.88 77.25M124.05 89.52L124.3 92.5L126.89 97.96L123.33 101.19L119.97 104.84M130.19 83.38L134.68 87.47M115.88 87.47L114.08 90.13L110.19 93.24L110.78 98.01L112.77 100.71L107.7 105.25M110.77 93.6L106.52 92.82L104.43 91.97M28 96.06L31.82 96.85L34.83 97.89L40.64 100.14L45.32 101.58L48.85 102.6M41.28 100.14L42.71 105.25M43.33 66.63L45.36 69.54L45.58 73.17M58.66 60.9L60.98 57.49L60.29 54.77M59.68 61.93L62.04 65.54L63.17 69.54M63.17 69.54L64.73 71.5L66.28 75.26L68.03 77.82L69.51 81.33L70.1 84.9M70.1 84.9L72.37 88.04L73.55 90.48L75.05 94.85L76.07 98.26M76.07 98.26L77.91 102.14L78.48 106.89" stroke-width="2.2" opacity="0.6"/>
</g>
<g filter="url(#bl1)" fill="none" stroke="#f81818" stroke-linecap="round" stroke-linejoin="round">
<path d="M-1.63 66.63C-1.15 66.39 -0.12 65.88 1.26 65.22C2.65 64.56 5.27 63.55 6.68 62.68C8.08 61.8 8.69 60.9 9.68 59.95C10.67 59 11.76 57.84 12.63 56.98C13.51 56.12 14.11 55.51 14.94 54.77C15.76 54.04 16.71 53.28 17.58 52.56C18.44 51.84 19.3 51.25 20.13 50.45C20.97 49.66 21.68 48.72 22.6 47.78C23.52 46.85 24.78 45.9 25.65 44.83C26.53 43.77 26.83 42.33 27.85 41.4C28.87 40.47 30.55 39.88 31.78 39.26C33.02 38.63 33.98 38.13 35.27 37.64C36.57 37.15 38.08 36.69 39.56 36.3C41.04 35.91 42.73 35.59 44.14 35.28C45.54 34.97 46.85 34.73 48 34.43C49.15 34.12 49.92 33.8 51.03 33.46C52.15 33.13 53.57 32.73 54.69 32.43C55.8 32.14 56.58 31.84 57.72 31.69C58.86 31.53 60.33 31.53 61.51 31.49C62.7 31.45 63.68 31.44 64.82 31.46C65.96 31.48 67.28 31.56 68.36 31.61C69.44 31.65 70.17 31.71 71.32 31.72C72.46 31.74 74.08 31.45 75.25 31.71C76.43 31.97 77.41 32.87 78.36 33.27C79.31 33.67 80.13 33.53 80.97 34.11C81.82 34.68 82.54 35.86 83.41 36.72C84.27 37.57 85.34 38.19 86.17 39.26C87 40.33 87.72 41.93 88.38 43.12C89.04 44.31 89.45 45.15 90.16 46.4C90.87 47.65 91.87 49.19 92.62 50.61C93.37 52.04 94.03 53.6 94.68 54.93C95.32 56.26 95.82 57.23 96.48 58.59C97.14 59.95 98.08 61.73 98.64 63.1C99.2 64.47 99.35 65.51 99.84 66.8C100.33 68.1 101.12 69.5 101.56 70.87C102 72.24 102.14 73.6 102.49 75.02C102.84 76.44 103.36 78.01 103.67 79.39C103.98 80.76 104.16 81.87 104.35 83.26C104.54 84.65 104.83 86.38 104.8 87.74C104.77 89.1 104.41 90.12 104.16 91.43C103.91 92.74 103.55 94.23 103.32 95.59C103.09 96.96 103.07 98.32 102.77 99.62C102.48 100.92 101.92 102.17 101.55 103.39C101.18 104.6 100.72 106.3 100.55 106.89" stroke-width="3.5"/>
<path d="M45.37 72.76C45.24 72.22 44.93 70.57 44.58 69.55C44.22 68.53 42.92 67.56 43.24 66.64C43.55 65.73 45.39 64.61 46.48 64.05C47.58 63.48 48.66 63.41 49.79 63.25C50.93 63.1 51.86 63.47 53.3 63.12C54.74 62.78 57.22 62.24 58.45 61.18C59.69 60.13 60.32 57.54 60.7 56.82" stroke-width="2.5"/>
<path d="M59.68 61.93C59.97 62.55 60.75 64.48 61.45 65.68C62.15 66.87 63.31 68.05 63.88 69.08C64.45 70.11 64.44 70.82 64.85 71.86C65.27 72.9 65.91 74.29 66.38 75.32C66.86 76.35 67.24 77.03 67.69 78.05C68.15 79.08 68.62 80.44 69.11 81.47C69.6 82.5 70.2 83.2 70.64 84.23C71.08 85.25 71.31 86.52 71.74 87.61C72.18 88.7 72.74 89.67 73.25 90.77C73.76 91.87 74.31 93.08 74.8 94.21C75.29 95.35 75.75 96.27 76.2 97.57C76.66 98.87 77.13 100.46 77.51 102.01C77.89 103.57 78.32 106.08 78.48 106.89" stroke-width="3.0"/>
<path d="M21.46 99.73C21.77 99.04 22.57 96.83 23.3 95.58C24.04 94.33 25.26 93.22 25.87 92.24C26.48 91.25 26.43 90.56 26.97 89.67C27.52 88.77 28.02 88.03 29.14 86.85C30.26 85.67 32.07 83.56 33.69 82.57C35.3 81.59 37.97 81.21 38.83 80.93" stroke-width="2.0" opacity="0.95"/>
<path d="M33.72 82.36C34.27 83.16 36.81 85.42 37.02 87.16C37.22 88.89 35.29 91.85 34.95 92.79" stroke-width="1.5" opacity="0.85"/>
<path d="M17.79 11.19L20.63 10.51L26.17 8.73M12.91 27.05L17.67 29.07L20.52 30.54L27.13 33.28L31.06 30.25M7.6 57.78L4.27 59.75L2.45 63.36M13.28 56.82L11.32 52.44L9.61 48.64M9.61 8.79L12.38 5.44L11.49 1.64L9.61 0M42.84 19.55L44.29 24.9L45.55 27.89L44.81 32.73L46.39 35.36M68.25 28.33L67.92 30.82L65.81 31.47M64.79 17.98L64.63 13.18L67.68 10.55L71.36 8.02L73.8 5.93L78.43 4.22M69.9 24.12L73.94 24.23L75.86 22.31L80.47 19.89L83.39 15.33L84.99 13M84.99 13L87.27 7.77M87.27 7.77L91.34 5.02L94.61 2.89M108.39 14.62L104.43 16.87L102.53 20.69L99.74 19.54L96.87 18.48L93.44 17.86M93.44 17.86L90.33 20.03M95.44 3.68L93.4 0M125.33 2.06L128.14 0.41M119.68 24.76L120.3 22.55L119.97 17.98M110.17 50.56L106.16 51.14L101.96 49.68L99.24 46.88L100.34 44.44M117.92 40.47L121.74 40.6L126.23 41.46L128.67 41.57M126.1 42.51L128.65 45.86L129.77 51.04M115.96 51.62L113.84 48.64M130.19 50.68L134.68 52.73M105.66 50.68L106.53 55.06L107.16 58.05M107.16 58.05L105.37 61.36L102.84 66.14L98.92 63.36M117.92 60.9L117.78 65.77L121.05 69.59M114.73 77.52L112.8 77.63L107.5 79.41L104.03 79.71M121.03 89.45L114.67 87.68L114.83 85.06M43.33 66.63L45.36 69.54L45.58 73.17M63.17 69.54L64.73 71.5L66.28 75.26L68.03 77.82L69.51 81.33L70.1 84.9" stroke-width="2.4" opacity="0.95"/>
<path d="M0.2 4.7L2.5 6.54L6.81 7.37L8.9 9.52L14.46 10.35L17.79 11.19M26.17 8.73L30.27 11.18L32.44 12.75L35.37 18.58L36.09 22.36M36.09 22.36L31.94 25.73L31.06 29.29L30.66 34.01M30.66 34.01L27.14 39.22L28.41 41.49M0.2 38.42L6.16 42.14L7.76 45.64L8.66 48.58L8.89 51.98L7.6 57.78M17.78 11.85L17.3 17.17L15.73 20.01L14.84 24.74L13.69 28.2M33.11 13.9L36.82 16.5L40.9 17.21L42.84 19.55M45.37 24.12L49.94 24.24L52.29 23.3L55.72 19.23M55.72 19.23L57.57 15.92L54.77 11.73L54.49 7.94L47.36 6.49L45.54 6.7M48.44 5.72L50.89 0M78.43 4.22L81.22 3.12L84.87 4.5M84.87 4.5L87.27 7.77M83.18 15.94L87.77 17.07L89.32 19.01L90.68 23.98L92.5 29.12L91.74 30.34M91.74 30.34L89.41 33.9L83.18 35.97M107.7 13.9L111.51 11.38L116.88 9.3L118.95 6.87M118.95 6.87L123.13 2.68L125.33 2.06M115.88 9.81L118.51 15.07L119.49 18.48L123.1 21.2L125.01 24.9L131.58 22.53M122.01 3.68L124.28 6.61L126.48 6.03L129.12 9.57L134.68 7.77M99.57 33.04L96.22 30.07L93.4 28.2M113.84 32.29L114.84 36.33L117.9 41.01L116.86 45.25L114.15 49.29L110.17 50.56M100.34 44.44L100.75 38.72L99.06 36.16L99.53 33.31M99.53 46.6L95.03 51.09M128.67 41.57L132.84 38.33L132.48 35.47M132.48 35.47L134.68 30.25M121.4 60.74L117.06 61.36L116.15 58.08L115.32 54.47L115.96 51.62M119.97 69.08L123.04 70.64L128.03 74.15L131.09 70.21M131.09 70.21L134.68 69.08M128.14 73.17L129.55 77.38L129.58 78.85M129.58 78.85L129.4 83.14L127.25 85.76L124.81 90.37L121.03 89.45M114.83 85.06L116.5 81.31L115.88 77.25M130.19 83.38L134.68 87.47M115.88 87.47L114.08 90.13L110.19 93.24L110.78 98.01L112.77 100.71L107.7 105.25M110.77 93.6L106.52 92.82L104.43 91.97M28 96.06L31.82 96.85L34.83 97.89L40.64 100.14L45.32 101.58L48.85 102.6M41.28 100.14L42.71 105.25M58.66 60.9L60.98 57.49L60.29 54.77M70.1 84.9L72.37 88.04L73.55 90.48L75.05 94.85L76.07 98.26M76.07 98.26L77.91 102.14L78.48 106.89" stroke-width="1.7" opacity="0.88"/>
<path d="M0.2 20.03L2.95 23.14L7.44 24.25L10.23 26.12L12.91 27.05M56.61 15.94L60.5 16.14L63.71 17.58L68.34 22.26L70.51 24.06L68.25 28.33M73.98 5.72L72.55 0M94.61 2.89L99.22 5.74L103.74 5.61L106.19 11.26L108.39 14.62M121.05 69.59L116.72 73.17L114.73 77.52M124.05 89.52L124.3 92.5L126.89 97.96L123.33 101.19L119.97 104.84M59.68 61.93L62.04 65.54L63.17 69.54" stroke-width="1.1" opacity="0.7"/>
</g>
<path d="M6.81 7.37L6.28 8.46L4.64 9.4M30.27 11.18L30.51 9.42L30.7 7.04M32.44 12.75L34.6 12.13L35.4 10.23M35.37 18.58L34.14 20.13L31.9 20.87M31.94 25.73L31.08 24.79L28.89 24.39M30.66 34.01L32.21 33.56L33.6 32.35M31.06 30.25L29.47 29.96L28.72 29.46M8.89 51.98L10.03 50.37L12 49.65M2.45 63.36L3.97 62.94L4.56 62.58M11.32 52.44L10.47 52.86L9.31 52.42M11.49 1.64L11.91 1.97L13.7 1.55M30.78 1.22L32.06 2.74L32.02 4.5M36.82 16.5L36.37 14.52L36.2 13.16M42.84 19.55L42.92 18.53L41.7 17.43M45.55 27.89L47.11 29.01L47.66 31.23M45.37 24.12L44.29 24.08L43.14 22.87M52.29 23.3L54.37 23.93L55.53 24.38M55.72 19.23L56.76 19.3L58.34 18.57M54.77 11.73L56.19 10.73L57.27 10.68M45.54 6.7L45.2 4.68L43.93 3.77M40.68 11.84L42.27 11.31L44.32 11.05M48.44 5.72L48.57 4.25L49.95 2.02M60.5 16.14L59.98 15.97L58.5 15.93M68.25 28.33L67.18 28.25L66.83 27.02M64.63 13.18L64.58 14.39L64.36 16.34M69.9 24.12L70.01 22.76L71.44 21.04M75.86 22.31L77.18 23.06L78.07 24.32M83.18 15.94L84.18 14.45L84.48 14.14M89.41 33.9L86.86 33.86L85.47 33.49M94.61 2.89L95.39 1.09L95.28 0.64M103.74 5.61L103.32 6.38L102.36 7.99M106.19 11.26L105.09 12.94L103.08 13.46M102.53 20.69L103.19 19.19L102.68 16.85M96.87 18.48L98.33 17.61L100.43 18.08M90.33 20.03L88.14 20.85L86.27 20.42M107.7 13.9L109.09 12.06L109.95 10.89M116.88 9.3L119.42 9.93L120.84 10.36M125.33 2.06L123.79 0.7L123.59 0.5M118.51 15.07L117.13 15.43L115.83 14.65M119.49 18.48L121.02 18.19L123 17.8M125.01 24.9L125.71 23.08L126.04 21.56M134.68 21.66L137.36 21.26L138.81 22.06M122.01 3.68L123.1 2.85L123.03 1.81M134.68 7.77L133.07 8.37L132.71 9.97M105.29 23.99L104.51 22.72L104.12 21.81M105.66 28.2L105.58 27.1L106.18 25.87M113.2 32.8L112.21 32.38L111.07 31.29M117.69 30.81L119.1 31.03L120.52 31.48M119.68 24.76L121.33 24.07L122.46 24.14M117.9 41.01L116.25 40.37L115.1 39.93M116.86 45.25L117.56 44.98L118.8 43.8M114.15 49.29L113.65 50.49L112.77 51.85M100.34 44.44L99.83 43.16L99.04 42.6M99.53 33.31L99.67 34.4L100.78 35.65M95.03 51.09L96.48 49.75L98.26 48.93M117.92 40.47L116.93 41.37L116.71 43.51M126.23 41.46L125.17 40.71L123.72 40.87M128.6 54.17L128.63 56.54L128.86 57.58M121.4 60.74L121.9 62.51L122.22 63.49M115.32 54.47L114.04 54.12L112.51 54.78M113.84 48.64L115.83 48.76L117.16 49.92M130.19 50.68L130.89 49.22L130.86 46.74M105.66 50.68L103.56 51.75L102.67 52.55M98.92 63.36L98.81 64.28L99.25 65.25M121.05 69.59L120.59 68.26L120.45 66.56M112.8 77.63L112.88 78.26L113.17 80.03M104.03 79.71L105.98 78.94L106.63 79.54M128.03 74.15L127.48 74.62L127.23 76.09M131.09 70.21L131.73 71.28L132.49 71.96M129.55 77.38L127.9 77.36L127.55 76.51M129.58 78.85L131.4 80.3L132.82 80.63M127.25 85.76L128.04 86.8L127.62 88.74M124.81 90.37L125.97 88.96L126.06 88.53M114.67 87.68L115.61 86.17L117.19 84.96M115.88 77.25L115.03 75.27L113.22 74.45M123.33 101.19L122.16 100.6L119.82 99.67M119.97 104.84L119.99 106.04L121.13 107.98M40.64 100.14L40.87 98.44L40.11 96.87M45.36 69.54L46.32 67.87L46.11 67.2M45.58 73.17L46.74 73.74L47.06 75.2M62.04 65.54L61.51 66.57L62.14 68.7M63.17 69.54L61.36 70.47L59.3 70.63M68.03 77.82L69.14 78.09L69.88 78.29M70.1 84.9L70.69 83.52L70.71 82.74" filter="url(#bl1)" fill="none" stroke="#f81818" stroke-width="1.4" stroke-linecap="round" stroke-linejoin="round" opacity="0.85"/>
<circle cx="-0.48" cy="18.76" r="1.91" fill="#f81818" opacity="0.92"/>
<circle cx="2.91" cy="23.7" r="1.75" fill="#f81818" opacity="0.92"/>
<circle cx="1.37" cy="37.4" r="1.3" fill="#f81818" opacity="0.92"/>
<circle cx="1.34" cy="62.64" r="1.48" fill="#f81818" opacity="0.92"/>
<circle cx="14.21" cy="56.36" r="1.78" fill="#f81818" opacity="0.92"/>
<circle cx="8.49" cy="8.62" r="2.09" fill="#f81818" opacity="0.92"/>
<circle cx="11.47" cy="6.55" r="1.21" fill="#f81818" opacity="0.92"/>
<circle cx="18.04" cy="10.68" r="1.55" fill="#f81818" opacity="0.92"/>
<circle cx="16.9" cy="19.29" r="1.85" fill="#f81818" opacity="0.92"/>
<circle cx="33.32" cy="13.73" r="1.59" fill="#f81818" opacity="0.92"/>
<circle cx="43.18" cy="5.73" r="1.69" fill="#f81818" opacity="0.92"/>
<circle cx="63.86" cy="17.29" r="1.99" fill="#f81818" opacity="0.92"/>
<circle cx="63.97" cy="17.67" r="1.84" fill="#f81818" opacity="0.92"/>
<circle cx="68" cy="10.14" r="1.53" fill="#f81818" opacity="0.92"/>
<circle cx="77.28" cy="3.24" r="1.63" fill="#f81818" opacity="0.92"/>
<circle cx="82.48" cy="2.85" r="1.32" fill="#f81818" opacity="0.92"/>
<circle cx="73.13" cy="24.53" r="1.46" fill="#f81818" opacity="0.92"/>
<circle cx="76.87" cy="22.82" r="1.96" fill="#f81818" opacity="0.92"/>
<circle cx="80.39" cy="21.13" r="2.07" fill="#f81818" opacity="0.92"/>
<circle cx="86.94" cy="8.4" r="1.57" fill="#f81818" opacity="0.92"/>
<circle cx="83.58" cy="17.03" r="1.24" fill="#f81818" opacity="0.92"/>
<circle cx="88.14" cy="8.08" r="1.76" fill="#f81818" opacity="0.92"/>
<circle cx="103.51" cy="19.52" r="1.54" fill="#f81818" opacity="0.92"/>
<circle cx="94.14" cy="18.16" r="1.11" fill="#f81818" opacity="0.92"/>
<circle cx="90.4" cy="20.72" r="1.85" fill="#f81818" opacity="0.92"/>
<circle cx="119.28" cy="6.78" r="1.68" fill="#f81818" opacity="0.92"/>
<circle cx="124.17" cy="1.06" r="1.37" fill="#f81818" opacity="0.92"/>
<circle cx="122.7" cy="2.71" r="1.96" fill="#f81818" opacity="0.92"/>
<circle cx="96.5" cy="28.82" r="1.79" fill="#f81818" opacity="0.92"/>
<circle cx="93.65" cy="27.8" r="1.73" fill="#f81818" opacity="0.92"/>
<circle cx="119.87" cy="25.39" r="1.86" fill="#f81818" opacity="0.92"/>
<circle cx="112.97" cy="31.84" r="2.09" fill="#f81818" opacity="0.92"/>
<circle cx="115.95" cy="35.97" r="1.34" fill="#f81818" opacity="0.92"/>
<circle cx="102.21" cy="48.63" r="1.46" fill="#f81818" opacity="0.92"/>
<circle cx="125.55" cy="42.2" r="1.99" fill="#f81818" opacity="0.92"/>
<circle cx="122.56" cy="61.7" r="1.55" fill="#f81818" opacity="0.92"/>
<circle cx="116.3" cy="62.24" r="1.35" fill="#f81818" opacity="0.92"/>
<circle cx="116.48" cy="53.76" r="1.73" fill="#f81818" opacity="0.92"/>
<circle cx="102.7" cy="67.21" r="1.21" fill="#f81818" opacity="0.92"/>
<circle cx="121.73" cy="69.35" r="1.17" fill="#f81818" opacity="0.92"/>
<circle cx="114.9" cy="77.66" r="1.35" fill="#f81818" opacity="0.92"/>
<circle cx="124.29" cy="92.69" r="2.02" fill="#f81818" opacity="0.92"/>
<circle cx="127.47" cy="98.47" r="1.98" fill="#f81818" opacity="0.92"/>
<circle cx="108.98" cy="105.84" r="1.84" fill="#f81818" opacity="0.92"/>
<circle cx="44.04" cy="100.92" r="1.29" fill="#f81818" opacity="0.92"/>
<circle cx="59.87" cy="60.94" r="1.71" fill="#f81818" opacity="0.92"/>
<circle cx="59.2" cy="62.75" r="1.41" fill="#f81818" opacity="0.92"/>
<circle cx="63.33" cy="65.08" r="1.78" fill="#f81818" opacity="0.92"/>
<circle cx="62.74" cy="70.68" r="1.51" fill="#f81818" opacity="0.92"/>
<circle cx="71.54" cy="88.14" r="1.24" fill="#f81818" opacity="0.92"/>
<circle cx="74.97" cy="95.58" r="1.72" fill="#f81818" opacity="0.92"/>
<circle cx="78.6" cy="102.02" r="1.63" fill="#f81818" opacity="0.92"/>
<circle cx="77.87" cy="108.01" r="1.61" fill="#f81818" opacity="0.92"/>
<circle cx="13.33" cy="53.22" r="0.59" fill="#f81818" opacity="0.8"/>
<circle cx="117.75" cy="25.79" r="0.86" fill="#f81818" opacity="0.8"/>
<circle cx="16.14" cy="23.44" r="0.6" fill="#f81818" opacity="0.8"/>
<circle cx="24.34" cy="38.61" r="0.56" fill="#f81818" opacity="0.8"/>
<circle cx="114.86" cy="28.21" r="0.64" fill="#f81818" opacity="0.8"/>
<circle cx="93.89" cy="33.8" r="0.57" fill="#f81818" opacity="0.8"/>
<circle cx="119.84" cy="48.13" r="0.71" fill="#f81818" opacity="0.8"/>
<circle cx="16.94" cy="47.35" r="0.68" fill="#f81818" opacity="0.8"/>
<circle cx="45.56" cy="15.72" r="0.74" fill="#f81818" opacity="0.8"/>
<circle cx="100.58" cy="28.92" r="0.79" fill="#f81818" opacity="0.8"/>
<circle cx="10.17" cy="31.32" r="0.97" fill="#f81818" opacity="0.8"/>
<circle cx="119.96" cy="10.91" r="0.64" fill="#f81818" opacity="0.8"/>
<circle cx="9.97" cy="50.28" r="0.6" fill="#f81818" opacity="0.8"/>
</g>
<rect x="391.7" y="135.2" width="24" height="5.3" fill="#ffc000"/>
<rect x="528.4" y="135.2" width="24" height="5.3" fill="#ffc000"/>
<rect x="391.7" y="243.5" width="24" height="5.3" fill="#ffc000"/>
<rect x="528.4" y="243.5" width="24" height="5.3" fill="#ffc000"/>
</g>
<g id="panel_c">
<text font-size="14.6" font-weight="bold" x="4.2" y="312">c</text>
<text font-size="7.4" font-weight="bold" text-anchor="middle" fill="#00b050" textLength="24.5" lengthAdjust="spacingAndGlyphs" x="135.6" y="320.1">PCR #1</text>
<rect x="112.4" y="324.3" width="47" height="3.2" fill="#00b050"/>
<text font-size="8.8" font-weight="bold" textLength="7" lengthAdjust="spacingAndGlyphs" x="96.3" y="348.6">5’</text>
<rect x="106.7" y="343.5" width="57" height="3.5" fill="#000"/>
<path d="M162.2 338.3L170.3 345.2L162.2 352.1z" fill="#000"/>
<rect x="190" y="343.5" width="69.8" height="3.5" fill="#000"/>
<path d="M190.5 338.6L198.6 345.2L190.5 351.8z" fill="#000"/>
<rect x="170.2" y="333.3" width="20.6" height="22.4" fill="#ffff00" stroke="#222" stroke-width="0.9"/>
<text font-size="6.4" font-weight="bold" text-anchor="middle" textLength="15.5" lengthAdjust="spacingAndGlyphs" x="180.6" y="347.6">bHLH</text>
<text font-size="8.8" font-weight="bold" textLength="7" lengthAdjust="spacingAndGlyphs" x="264.4" y="348.6">3’</text>
<rect x="182.8" y="359" width="31" height="3.2" fill="#c00000"/>
<text font-size="7.4" font-weight="bold" text-anchor="middle" fill="#c00000" textLength="24" lengthAdjust="spacingAndGlyphs" x="198.3" y="372.5">PCR #2</text>
<path d="M149.6 376.9L115.83 410.23" stroke="#000" stroke-width="2.3"/>
<path d="M111.7 414.3L114.08 407.03L119 412.01z" fill="#000"/>
<path d="M179.8 376.9L179.8 408.5" stroke="#000" stroke-width="2.3"/>
<path d="M179.8 414.3L176.3 407.5L183.3 407.5z" fill="#000"/>
<path d="M211.5 376.9L241.72 410.49" stroke="#000" stroke-width="2.3"/>
<path d="M245.6 414.8L238.45 412.09L243.65 407.4z" fill="#000"/>
<text font-size="6.3" font-weight="bold" text-anchor="middle" x="88.8" y="426.3">wt</text>
<text font-size="6.5" font-weight="bold" text-anchor="middle" textLength="66" lengthAdjust="spacingAndGlyphs" x="88.8" y="438.8">(0% recombination)</text>
<text font-size="6.3" font-weight="bold" font-style="italic" text-anchor="middle" x="181.8" y="426.3">het</text>
<text font-size="6.5" font-weight="bold" text-anchor="middle" textLength="70" lengthAdjust="spacingAndGlyphs" x="181.3" y="438.8">(50% recombination)</text>
<text font-size="6.3" font-weight="bold" font-style="italic" text-anchor="middle" x="272.8" y="426.3">ko</text>
<text font-size="6.5" font-weight="bold" text-anchor="middle" textLength="74.5" lengthAdjust="spacingAndGlyphs" x="272.8" y="438.8">(100% recombination)</text>
<rect x="65.3" y="450.5" width="47.2" height="3.6" fill="#1e9e1e"/>
<rect x="65.3" y="463" width="47.2" height="3.6" fill="#1e9e1e"/>
<rect x="157" y="450.5" width="47.2" height="3.6" fill="#1e9e1e"/>
<rect x="157" y="463" width="47.2" height="3.6" fill="#1e9e1e"/>
<rect x="249.4" y="450.5" width="47.2" height="3.6" fill="#1e9e1e"/>
<rect x="249.4" y="463" width="47.2" height="3.6" fill="#1e9e1e"/>
<rect x="65.3" y="476.2" width="30.8" height="3.5" fill="#c00000"/>
<rect x="65.3" y="486.8" width="30.8" height="3.5" fill="#c00000"/>
<rect x="157" y="476.2" width="31.4" height="3.5" fill="#c00000"/>
<path d="M45.9 446.2C42.3 446.5 42.6 449 42.6 452V463.5C42.6 467 42 468.6 39.6 469.2C42 469.8 42.6 471.4 42.6 475V486.5C42.6 489.5 42.3 492 45.9 492.3" fill="none" stroke="#222" stroke-width="1.2"/>
<text font-size="6.5" font-weight="bold" text-anchor="middle" x="19.9" y="468.7">PCR</text>
<text font-size="6.5" font-weight="bold" text-anchor="middle" textLength="29" lengthAdjust="spacingAndGlyphs" x="19.9" y="478">products</text>
<text x="50.7" y="522" font-size="8.4" textLength="248" lengthAdjust="spacingAndGlyphs" stroke-width="0.28" xml:space="preserve"><tspan font-style="italic" font-weight="bold">bmal1</tspan><tspan stroke="#000">  recombination index=</tspan><tspan fill="#c00000" stroke="#c00000"> expression PCR#2</tspan><tspan stroke="#000">/</tspan><tspan fill="#00b050" stroke="#00b050">expressionPCR#1</tspan></text>
</g>
<g id="panel_d">
<text font-size="15.8" font-weight="bold" x="341.4" y="312.9">d</text>
<rect x="400.9" y="306.8" width="8.8" height="9.2" fill="#0606a0"/>
<rect x="401.3" y="326" width="8.2" height="8.6" fill="#20ffff" stroke="#333" stroke-width="0.8"/>
<rect x="401.2" y="343.5" width="8.6" height="9.6" fill="#ff0000" stroke="#8a0000" stroke-width="0.6"/>
<text x="416.2" y="315.2" font-size="10.4" font-weight="bold" textLength="139.5" lengthAdjust="spacingAndGlyphs">Bmal1<tspan font-size="6.8" dy="-4.3">fl/fl</tspan><tspan dy="4.3">; UBC-cre/ERT2</tspan><tspan font-size="6.8" dy="-4.3">-</tspan><tspan dy="4.3"> (</tspan><tspan font-style="italic">wt</tspan>)</text>
<text x="416.2" y="333.9" font-size="10.4" font-weight="bold" textLength="148" lengthAdjust="spacingAndGlyphs">Bmal1<tspan font-size="6.8" dy="-4.3">wt/ko,</tspan><tspan dy="4.3"> UBC-cre/ERT2</tspan><tspan font-size="6.8" dy="-4.3">-</tspan><tspan dy="4.3"> (</tspan><tspan font-style="italic">het</tspan>)</text>
<text x="416.2" y="352.7" font-size="10.4" font-weight="bold" fill="#c00000" textLength="178.5" lengthAdjust="spacingAndGlyphs">Bmal1<tspan font-size="6.8" dy="-4.3">fl/fl</tspan><tspan dy="4.3">; UBC-cre/ERT2</tspan><tspan font-size="6.8" dy="-4.3">+</tspan><tspan dy="4.3"> (</tspan><tspan font-style="italic">bmal1-iKO</tspan>)</text>
<rect x="395.2" y="404.8" width="11.85" height="120.8" fill="#0606a0"/>
<path d="M401.12 387V422.6M398.93 387h4.4M398.93 422.6h4.4" stroke="#3a3a44" stroke-width="0.8" fill="none"/>
<rect x="407.05" y="467" width="11.85" height="58.6" fill="#26f0f0" stroke="#0a5a6a" stroke-width="0.5"/>
<path d="M412.98 462.7V471.3M410.78 462.7h4.4M410.78 471.3h4.4" stroke="#333" stroke-width="0.8" fill="none"/>
<rect x="418.9" y="513" width="11.85" height="12.6" fill="#f01010" stroke="#7a0000" stroke-width="0.4"/>
<path d="M424.82 507V519M422.62 507h4.4M422.62 519h4.4" stroke="#333" stroke-width="0.8" fill="none"/>
<rect x="447.9" y="416.3" width="11.85" height="109.3" fill="#0606a0"/>
<path d="M453.82 406.7V425.9M451.62 406.7h4.4M451.62 425.9h4.4" stroke="#3a3a44" stroke-width="0.8" fill="none"/>
<rect x="459.75" y="454.4" width="11.85" height="71.2" fill="#26f0f0" stroke="#0a5a6a" stroke-width="0.5"/>
<path d="M465.68 451V457.8M463.48 451h4.4M463.48 457.8h4.4" stroke="#333" stroke-width="0.8" fill="none"/>
<rect x="471.6" y="518" width="11.85" height="7.6" fill="#f01010" stroke="#7a0000" stroke-width="0.4"/>
<path d="M477.52 516.2V519.8M475.32 516.2h4.4M475.32 519.8h4.4" stroke="#333" stroke-width="0.8" fill="none"/>
<rect x="501" y="379.6" width="11.85" height="146" fill="#0606a0"/>
<path d="M506.93 367.8V391.4M504.73 367.8h4.4M504.73 391.4h4.4" stroke="#3a3a44" stroke-width="0.8" fill="none"/>
<rect x="512.85" y="463.6" width="11.85" height="62" fill="#26f0f0" stroke="#0a5a6a" stroke-width="0.5"/>
<path d="M518.77 459.1V468.1M516.57 459.1h4.4M516.57 468.1h4.4" stroke="#333" stroke-width="0.8" fill="none"/>
<rect x="524.7" y="504.3" width="11.85" height="21.3" fill="#f01010" stroke="#7a0000" stroke-width="0.4"/>
<path d="M530.62 492.5V516.1M528.42 492.5h4.4M528.42 516.1h4.4" stroke="#333" stroke-width="0.8" fill="none"/>
<rect x="553.8" y="412.4" width="11.85" height="113.2" fill="#0606a0"/>
<path d="M559.72 395.4V429.4M557.52 395.4h4.4M557.52 429.4h4.4" stroke="#3a3a44" stroke-width="0.8" fill="none"/>
<rect x="565.65" y="461.8" width="11.85" height="63.8" fill="#26f0f0" stroke="#0a5a6a" stroke-width="0.5"/>
<path d="M571.57 456.2V467.4M569.37 456.2h4.4M569.37 467.4h4.4" stroke="#333" stroke-width="0.8" fill="none"/>
<rect x="577.5" y="501.7" width="11.85" height="23.9" fill="#f01010" stroke="#7a0000" stroke-width="0.4"/>
<path d="M583.42 496.5V506.9M581.22 496.5h4.4M581.22 506.9h4.4" stroke="#333" stroke-width="0.8" fill="none"/>
<path d="M385.8 347.3V526.7" stroke="#000" stroke-width="2.4"/>
<path d="M384.5 525.6H600" stroke="#000" stroke-width="2.2"/>
<path d="M382.9 348.3h2.6M382.9 377.85h2.6M382.9 407.4h2.6M382.9 436.95h2.6M382.9 466.5h2.6M382.9 496.05h2.6M382.9 525.6h2.6" stroke="#000" stroke-width="2"/>
<path d="M385.8 525.6v3.4M439 525.6v3.4M492.4 525.6v3.4M545.8 525.6v3.4M599.2 525.6v3.4" stroke="#000" stroke-width="2"/>
<text font-size="9.1" font-weight="bold" text-anchor="end" x="377.6" y="351.6">1.8</text>
<text font-size="9.1" font-weight="bold" text-anchor="end" x="377.6" y="381.15">1.5</text>
<text font-size="9.1" font-weight="bold" text-anchor="end" x="377.6" y="410.7">1.2</text>
<text font-size="9.1" font-weight="bold" text-anchor="end" x="377.6" y="440.25">0.9</text>
<text font-size="9.1" font-weight="bold" text-anchor="end" x="377.6" y="469.8">0.6</text>
<text font-size="9.1" font-weight="bold" text-anchor="end" x="377.6" y="499.35">0.3</text>
<text font-size="9.1" font-weight="bold" text-anchor="end" x="377.6" y="528.9">0</text>
<text font-size="11.6" font-weight="bold" text-anchor="middle" textLength="24.5" lengthAdjust="spacingAndGlyphs" x="415.4" y="544">Lung</text>
<text font-size="11.6" font-weight="bold" text-anchor="middle" textLength="30" lengthAdjust="spacingAndGlyphs" x="468.5" y="544">Heart</text>
<text font-size="11.6" font-weight="bold" text-anchor="middle" textLength="26" lengthAdjust="spacingAndGlyphs" x="523.3" y="544">Liver</text>
<text font-size="11.6" font-weight="bold" text-anchor="middle" textLength="29" lengthAdjust="spacingAndGlyphs" x="574.6" y="544">Brain</text>
<path d="M413.3 450.45V456.75M410.57 452.03L416.03 455.18M410.57 455.18L416.03 452.03" stroke="#111" stroke-width="1.1" stroke-linecap="round" fill="none"/>
<path d="M424.6 495.45V501.75M421.87 497.03L427.33 500.18M421.87 500.18L427.33 497.03" stroke="#111" stroke-width="1.1" stroke-linecap="round" fill="none"/>
<path d="M465.8 438.85V445.15M463.07 440.43L468.53 443.57M463.07 443.57L468.53 440.43" stroke="#111" stroke-width="1.1" stroke-linecap="round" fill="none"/>
<path d="M478.4 503.25V509.55M475.67 504.82L481.13 507.97M475.67 507.97L481.13 504.82" stroke="#111" stroke-width="1.1" stroke-linecap="round" fill="none"/>
<path d="M518.9 447.35V453.65M516.17 448.93L521.63 452.07M516.17 452.07L521.63 448.93" stroke="#111" stroke-width="1.1" stroke-linecap="round" fill="none"/>
<path d="M529.9 480.15V486.45M527.17 481.73L532.63 484.88M527.17 484.88L532.63 481.73" stroke="#111" stroke-width="1.1" stroke-linecap="round" fill="none"/>
<path d="M572 443.35V449.65M569.27 444.93L574.73 448.07M569.27 448.07L574.73 444.93" stroke="#111" stroke-width="1.1" stroke-linecap="round" fill="none"/>
<path d="M584.3 483.35V489.65M581.57 484.93L587.03 488.07M581.57 488.07L587.03 484.93" stroke="#111" stroke-width="1.1" stroke-linecap="round" fill="none"/>
<text transform="translate(352.9,524.3) rotate(-90)" font-size="12.6" font-weight="bold" font-style="italic" textLength="37.3" lengthAdjust="spacingAndGlyphs">bmal1</text>
<text transform="translate(352.9,478.4) rotate(-90)" font-size="12.6" font-weight="bold" textLength="128.4" lengthAdjust="spacingAndGlyphs">recombination index</text>
</g>
<g id="panel_e">
<text font-size="16.6" font-weight="bold" x="3" y="583">e</text>
<rect x="66.3" y="606.2" width="15.8" height="158.5" fill="#6b3507" stroke="#222" stroke-width="0.5"/>
<path d="M74.2 601.6V610.8M71.9 601.6h4.6M71.9 610.8h4.6" stroke="#222" stroke-width="0.9" fill="none"/>
<rect x="85.5" y="625.4" width="15.8" height="139.3" fill="#0606a0" stroke="#222" stroke-width="0.5"/>
<path d="M93.4 619.7V631.1M91.1 619.7h4.6M91.1 631.1h4.6" stroke="#222" stroke-width="0.9" fill="none"/>
<rect x="104.5" y="631.8" width="15.8" height="132.9" fill="#ff0a0a" stroke="#222" stroke-width="0.5"/>
<path d="M112.4 629.3V634.3M110.1 629.3h4.6M110.1 634.3h4.6" stroke="#222" stroke-width="0.9" fill="none"/>
<path d="M50.2 592.8V765.7" stroke="#000" stroke-width="2.3"/>
<path d="M47.0 764.7H136" stroke="#000" stroke-width="2.1"/>
<path d="M47.0 593.7h3M47.0 627.9h3M47.0 662.1h3M47.0 696.3h3M47.0 730.5h3M47.0 764.7h3" stroke="#000" stroke-width="1.9"/>
<text x="42.7" y="597.3" font-size="10" text-anchor="end" stroke="#000" stroke-width="0.32" textLength="10.3" lengthAdjust="spacingAndGlyphs">25</text>
<text x="42.7" y="631.5" font-size="10" text-anchor="end" stroke="#000" stroke-width="0.32" textLength="10.3" lengthAdjust="spacingAndGlyphs">20</text>
<text x="42.7" y="665.7" font-size="10" text-anchor="end" stroke="#000" stroke-width="0.32" textLength="10.3" lengthAdjust="spacingAndGlyphs">15</text>
<text x="42.7" y="699.9" font-size="10" text-anchor="end" stroke="#000" stroke-width="0.32" textLength="10.3" lengthAdjust="spacingAndGlyphs">10</text>
<text x="42.7" y="734.1" font-size="10" text-anchor="end" stroke="#000" stroke-width="0.32" textLength="5.15" lengthAdjust="spacingAndGlyphs">5</text>
<text x="42.7" y="768.3" font-size="10" text-anchor="end" stroke="#000" stroke-width="0.32" textLength="5.15" lengthAdjust="spacingAndGlyphs">0</text>
<text font-size="14.2" text-anchor="middle" x="93.4" y="611.7">a</text>
<text font-size="14.2" text-anchor="middle" x="112.4" y="620.6">a</text>
<text transform="translate(20,676) rotate(-90)" font-size="12.6" font-weight="bold" text-anchor="middle" textLength="118.5" lengthAdjust="spacingAndGlyphs">Weight at 0 DPI (g)</text>
</g>
<g id="panel_f">
<text font-size="15.8" font-weight="bold" x="170" y="582.5">f</text>
<path d="M222.70000000000002 593.3V763.5" stroke="#000" stroke-width="2.3"/>
<path d="M219.4 762.2H393" stroke="#000" stroke-width="2.4"/>
<path d="M219.20000000000002 594.3h3.2M219.20000000000002 636.35h3.2M219.20000000000002 678.4h3.2M219.20000000000002 720.45h3.2M219.20000000000002 762.5h3.2M222.4 762.5v3.8M253.5 762.5v3.8M284.6 762.5v3.8M315.7 762.5v3.8M346.8 762.5v3.8M377.9 762.5v3.8" stroke="#000" stroke-width="1.9"/>
<text x="215.2" y="597.9" font-size="10.1" text-anchor="end" stroke="#000" stroke-width="0.32">1.05</text>
<text x="215.2" y="639.95" font-size="10.1" text-anchor="end" stroke="#000" stroke-width="0.32">1</text>
<text x="215.2" y="682" font-size="10.1" text-anchor="end" stroke="#000" stroke-width="0.32">0.95</text>
<text x="215.2" y="724.05" font-size="10.1" text-anchor="end" stroke="#000" stroke-width="0.32">0.9</text>
<text x="215.2" y="766.1" font-size="10.1" text-anchor="end" stroke="#000" stroke-width="0.32">0.85</text>
<text x="222.4" y="778.7" font-size="10.1" text-anchor="middle" stroke="#000" stroke-width="0.32" textLength="5.2" lengthAdjust="spacingAndGlyphs">0</text>
<text x="253.5" y="778.7" font-size="10.1" text-anchor="middle" stroke="#000" stroke-width="0.32" textLength="5.2" lengthAdjust="spacingAndGlyphs">1</text>
<text x="284.6" y="778.7" font-size="10.1" text-anchor="middle" stroke="#000" stroke-width="0.32" textLength="5.2" lengthAdjust="spacingAndGlyphs">2</text>
<text x="315.7" y="778.7" font-size="10.1" text-anchor="middle" stroke="#000" stroke-width="0.32" textLength="5.2" lengthAdjust="spacingAndGlyphs">3</text>
<text x="346.8" y="778.7" font-size="10.1" text-anchor="middle" stroke="#000" stroke-width="0.32" textLength="5.2" lengthAdjust="spacingAndGlyphs">4</text>
<text x="377.9" y="778.7" font-size="10.1" text-anchor="middle" stroke="#000" stroke-width="0.32" textLength="5.2" lengthAdjust="spacingAndGlyphs">5</text>
<text font-size="12.3" font-weight="bold" text-anchor="middle" textLength="149" lengthAdjust="spacingAndGlyphs" x="307" y="793">Days post SeV infection</text>
<text transform="translate(183.2,675.2) rotate(-90)" font-size="12.6" font-weight="bold" text-anchor="middle" textLength="85" lengthAdjust="spacingAndGlyphs">Weight index</text>
<path d="M222.4 636.3L253.5 648.91L284.6 672.46L315.7 667.42L377.9 659.85" fill="none" stroke="#1d2f8c" stroke-width="2.2" stroke-linejoin="round"/>
<path d="M253.5 642.62V655.21M250.9 642.62h5.2M250.9 655.21h5.2" stroke="#222" stroke-width="0.9" fill="none"/>
<path d="M284.6 663.56V681.36M282 663.56h5.2M282 681.36h5.2" stroke="#222" stroke-width="0.9" fill="none"/>
<path d="M315.7 658.22V676.62M313.1 658.22h5.2M313.1 676.62h5.2" stroke="#222" stroke-width="0.9" fill="none"/>
<path d="M377.9 650.15V669.55M375.3 650.15h5.2M375.3 669.55h5.2" stroke="#222" stroke-width="0.9" fill="none"/>
<circle cx="222.4" cy="636.3" r="3.9" fill="#13207a" stroke="#0c1450" stroke-width="0.5"/>
<circle cx="253.5" cy="648.91" r="3.9" fill="#13207a" stroke="#0c1450" stroke-width="0.5"/>
<circle cx="284.6" cy="672.46" r="3.9" fill="#13207a" stroke="#0c1450" stroke-width="0.5"/>
<circle cx="315.7" cy="667.42" r="3.9" fill="#13207a" stroke="#0c1450" stroke-width="0.5"/>
<circle cx="377.9" cy="659.85" r="3.9" fill="#13207a" stroke="#0c1450" stroke-width="0.5"/>
<path d="M222.4 636.3L253.5 639.08L284.6 695.17L315.7 692.65L377.9 701.06" fill="none" stroke="#e01822" stroke-width="2.2" stroke-linejoin="round"/>
<path d="M253.5 634.88V643.28M250.9 634.88h5.2M250.9 643.28h5.2" stroke="#222" stroke-width="0.9" fill="none"/>
<path d="M284.6 687.27V703.07M282 687.27h5.2M282 703.07h5.2" stroke="#222" stroke-width="0.9" fill="none"/>
<path d="M315.7 684.15V701.15M313.1 684.15h5.2M313.1 701.15h5.2" stroke="#222" stroke-width="0.9" fill="none"/>
<path d="M377.9 693.26V708.86M375.3 693.26h5.2M375.3 708.86h5.2" stroke="#222" stroke-width="0.9" fill="none"/>
<rect x="218.7" y="632.6" width="7.4" height="7.4" fill="#d81020" stroke="#4a0c0c" stroke-width="0.9"/>
<rect x="249.8" y="635.38" width="7.4" height="7.4" fill="#d81020" stroke="#4a0c0c" stroke-width="0.9"/>
<rect x="280.9" y="691.47" width="7.4" height="7.4" fill="#d81020" stroke="#4a0c0c" stroke-width="0.9"/>
<rect x="312" y="688.95" width="7.4" height="7.4" fill="#d81020" stroke="#4a0c0c" stroke-width="0.9"/>
<rect x="374.2" y="697.36" width="7.4" height="7.4" fill="#d81020" stroke="#4a0c0c" stroke-width="0.9"/>
<path d="M222.4 636.3L253.5 625.79L284.6 664.31L315.7 672.04L377.9 674.99" fill="none" stroke="#8a4a0c" stroke-width="2.2" stroke-linejoin="round"/>
<path d="M253.5 617.39V634.19M250.9 617.39h5.2M250.9 634.19h5.2" stroke="#222" stroke-width="0.9" fill="none"/>
<path d="M284.6 656.91V671.71M282 656.91h5.2M282 671.71h5.2" stroke="#222" stroke-width="0.9" fill="none"/>
<path d="M315.7 664.64V679.44M313.1 664.64h5.2M313.1 679.44h5.2" stroke="#222" stroke-width="0.9" fill="none"/>
<path d="M377.9 664.99V684.99M375.3 664.99h5.2M375.3 684.99h5.2" stroke="#222" stroke-width="0.9" fill="none"/>
<path d="M222.4 631.6L226.5 636.3L222.4 641L218.3 636.3z" fill="#8a4a0c" stroke="#5a2c06" stroke-width="0.5"/>
<path d="M253.5 621.09L257.6 625.79L253.5 630.49L249.4 625.79z" fill="#8a4a0c" stroke="#5a2c06" stroke-width="0.5"/>
<path d="M284.6 659.61L288.7 664.31L284.6 669.01L280.5 664.31z" fill="#8a4a0c" stroke="#5a2c06" stroke-width="0.5"/>
<path d="M315.7 667.34L319.8 672.04L315.7 676.74L311.6 672.04z" fill="#8a4a0c" stroke="#5a2c06" stroke-width="0.5"/>
<path d="M377.9 670.29L382 674.99L377.9 679.69L373.8 674.99z" fill="#8a4a0c" stroke="#5a2c06" stroke-width="0.5"/>
<path d="M377.9 726V732.4M375.13 727.6L380.67 730.8M375.13 730.8L380.67 727.6" stroke="#111" stroke-width="1.0" stroke-linecap="round" fill="none"/>
</g>
<g id="panel_g">
<text font-size="16.2" font-weight="bold" x="419" y="582.4">g</text>
<rect x="493.1" y="713.5" width="15.3" height="50.6" fill="#6b3507" stroke="#222" stroke-width="0.4"/>
<path d="M500.75 704V723M498.35 704h4.8M498.35 723h4.8" stroke="#222" stroke-width="0.8" fill="none"/>
<rect x="512" y="706.3" width="15.3" height="57.8" fill="#0606a0" stroke="#222" stroke-width="0.4"/>
<path d="M519.65 699.8V712.8M517.25 699.8h4.8M517.25 712.8h4.8" stroke="#222" stroke-width="0.8" fill="none"/>
<rect x="531.2" y="639.2" width="15.3" height="124.9" fill="#ff0a0a" stroke="#222" stroke-width="0.4"/>
<path d="M538.85 619.2V659.2M536.45 619.2h4.8M536.45 659.2h4.8" stroke="#222" stroke-width="0.8" fill="none"/>
<path d="M476.59999999999997 593.2V765.1" stroke="#000" stroke-width="2.2"/>
<path d="M473.2 764.1H563.5" stroke="#000" stroke-width="2.1"/>
<path d="M473.2 594.3h3M473.2 636.75h3M473.2 679.2h3M473.2 721.65h3M473.2 764.1h3" stroke="#000" stroke-width="1.8"/>
<text x="468.8" y="597.5" font-size="9.2" text-anchor="end" stroke="#000" stroke-width="0.3">1,200</text>
<text x="468.8" y="639.95" font-size="9.2" text-anchor="end" stroke="#000" stroke-width="0.3">900</text>
<text x="468.8" y="682.4" font-size="9.2" text-anchor="end" stroke="#000" stroke-width="0.3">600</text>
<text x="468.8" y="724.85" font-size="9.2" text-anchor="end" stroke="#000" stroke-width="0.3">300</text>
<text x="468.8" y="767.3" font-size="9.2" text-anchor="end" stroke="#000" stroke-width="0.3">0</text>
<path d="M538.6 610.1V616.1M536 611.6L541.2 614.6M536 614.6L541.2 611.6" stroke="#111" stroke-width="1.0" stroke-linecap="round" fill="none"/>
<text transform="translate(434,677.5) rotate(-90)" font-size="12.4" font-weight="bold" text-anchor="middle" textLength="104.5" lengthAdjust="spacingAndGlyphs"><tspan font-style="italic">SeV/tbp</tspan> at 5 DPI</text>
<rect x="565" y="661.8" width="9" height="9.4" fill="#6b3507"/>
<rect x="565" y="682.2" width="9" height="9.4" fill="#0606a0"/>
<rect x="565" y="703" width="9" height="9.4" fill="#ff0a0a"/>
<text x="579.4" y="670" font-size="10.9" font-weight="bold" textLength="84.5" lengthAdjust="spacingAndGlyphs"><tspan font-style="italic">wt</tspan> / regular chow</text>
<text x="579.4" y="690.7" font-size="10.9" font-weight="bold" textLength="72.5" lengthAdjust="spacingAndGlyphs"><tspan font-style="italic">wt</tspan> / Tamoxifen</text>
<text x="579.4" y="711.6" font-size="10.9" font-weight="bold" fill="#d01010" textLength="106" lengthAdjust="spacingAndGlyphs"><tspan font-style="italic">bmal1-iKO</tspan>/Tamoxifen</text>
</g>
</svg>
</body></html>
